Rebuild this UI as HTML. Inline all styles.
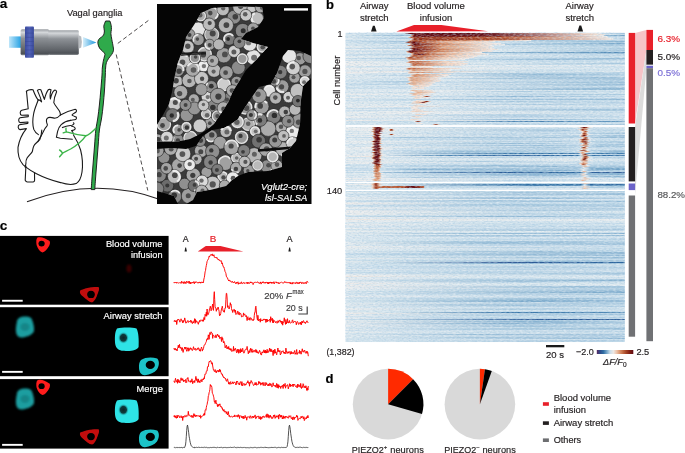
<!DOCTYPE html>
<html><head><meta charset="utf-8"><title>Figure</title>
<style>html,body{margin:0;padding:0;background:#fff;width:685px;height:453px;overflow:hidden}svg{display:block}text{font-family:'Liberation Sans', Arial, sans-serif}</style>
</head><body>
<svg width="685" height="453" viewBox="0 0 685 453" font-family="'Liberation Sans', Arial, sans-serif"><text x="-0.3" y="8.3" font-size="13.5" fill="#000" font-weight="bold"  stroke="#000" stroke-width="0.18">a</text>
<text x="326" y="8.7" font-size="13" fill="#000" font-weight="bold"  stroke="#000" stroke-width="0.18">b</text>
<text x="-0.3" y="230.2" font-size="13.5" fill="#000" font-weight="bold"  stroke="#000" stroke-width="0.18">c</text>
<text x="325.6" y="382.8" font-size="13" fill="#000" font-weight="bold"  stroke="#000" stroke-width="0.18">d</text>
<defs>
<linearGradient id="beamL" x1="0" x2="1" y1="0" y2="0"><stop offset="0" stop-color="#bfe6fa"/><stop offset="1" stop-color="#1f9fe3"/></linearGradient>
<linearGradient id="beamR" x1="0" x2="1" y1="0" y2="0"><stop offset="0" stop-color="#d5eefa"/><stop offset="1" stop-color="#1e96dc"/></linearGradient>
<linearGradient id="metal" x1="0" x2="0" y1="0" y2="1"><stop offset="0" stop-color="#9a9ea3"/><stop offset="0.12" stop-color="#d4d7da"/><stop offset="0.35" stop-color="#8d9196"/><stop offset="0.8" stop-color="#5f6368"/><stop offset="0.93" stop-color="#4d5156"/><stop offset="1" stop-color="#8a8e92"/></linearGradient>
<linearGradient id="ring" x1="0" x2="1" y1="0" y2="0"><stop offset="0" stop-color="#3b4ba0"/><stop offset="0.5" stop-color="#5263b8"/><stop offset="1" stop-color="#3a4a9c"/></linearGradient>
</defs>
<rect x="9" y="36.4" width="12.5" height="11.4" fill="url(#beamL)"/>
<rect x="20.6" y="29.3" width="28.6" height="26" rx="1.6" fill="url(#metal)"/>
<rect x="48.3" y="30.2" width="30.5" height="24.8" rx="1.4" fill="url(#metal)"/>
<path d="M78.6,35.2 L81.2,36.6 Q82.6,42 81.2,47.6 L78.6,48.8 Z" fill="#b7bbbf"/>
<rect x="25" y="26.6" width="8.9" height="31.2" rx="0.8" fill="url(#ring)"/>
<rect x="25.2" y="28.5" width="8.5" height="0.8" fill="#34438f" opacity="0.5"/>
<rect x="25.2" y="32.7" width="8.5" height="0.8" fill="#34438f" opacity="0.5"/>
<rect x="25.2" y="36.9" width="8.5" height="0.8" fill="#34438f" opacity="0.5"/>
<rect x="25.2" y="41.1" width="8.5" height="0.8" fill="#34438f" opacity="0.5"/>
<rect x="25.2" y="45.3" width="8.5" height="0.8" fill="#34438f" opacity="0.5"/>
<rect x="25.2" y="49.5" width="8.5" height="0.8" fill="#34438f" opacity="0.5"/>
<rect x="25.2" y="53.7" width="8.5" height="0.8" fill="#34438f" opacity="0.5"/>
<path d="M83,37 L96.4,42.6 L83,47.8 Z" fill="url(#beamR)"/>
<text x="66.95" y="15.5" font-size="9.7" fill="#231f20" textLength="55.6" lengthAdjust="spacingAndGlyphs" stroke="#231f20" stroke-width="0.18">Vagal ganglia</text>
<path d="M117.8,43.4 L149,20" stroke="#231f20" stroke-width="0.8" stroke-dasharray="4.2,2.6" fill="none"/>
<path d="M116.2,54.5 L147.8,190.5" stroke="#231f20" stroke-width="0.8" stroke-dasharray="4.2,2.6" fill="none"/>
<path d="M27,201.8 Q95,176 160,199.5" stroke="#231f20" stroke-width="1.1" fill="none"/>
<path d="M26.4,91.2 C27,95 27.4,102 28.2,108.8 L21.8,110.2 C19.8,110.8 19.6,114.6 21.6,115.2 L28.3,115 L28.3,116.6 L20,117.8 C18.2,118.6 18.2,122.2 20.2,122.6 L28,122 L27.8,123.4 L19.4,124.8 C17.6,125.8 17.8,129.2 20,129.6 L26.4,128.6 C22,134 19.2,140 18,147.4 C17.6,154 19,160 23,164.6 L25.9,167.1" stroke="#1a1a1a" stroke-width="1.1" fill="none" stroke-linejoin="round" stroke-linecap="round"/>
<path d="M26.4,91.2 C28.5,89.6 30.8,89.4 33,89.8 C34.6,94 36,97.6 38.2,100" stroke="#1a1a1a" stroke-width="1.1" fill="none" stroke-linejoin="round" stroke-linecap="round"/>
<path d="M38.2,100 C36.6,104.5 34.4,109 33.6,114 C32.6,119 32.4,124.5 33.8,129.4 C34.8,131.8 36.4,133.4 38.4,134.6" stroke="#1a1a1a" stroke-width="1.1" fill="none" stroke-linejoin="round" stroke-linecap="round"/>
<path d="M38.2,100 C39.4,99.6 40.6,100.6 41.6,101.8 C40.8,97.6 38.6,93.4 37.4,90.4 C38.4,89.4 39.6,89.2 40.8,89.8 C42.2,93 43.2,96.4 44.4,99.4 C45.2,96 46.2,92.4 48.2,89.8 C49.2,89.2 50.2,89.4 51,89.8 C50.2,93 49.6,96 50.4,99 C51,95.6 52.2,92 54.4,90.2 C55.6,89.8 56.4,90.6 56.6,91.8 C55.2,95 54,98.6 53.8,102.6 C54.8,105 57,107.4 59.4,111 C60.4,113 60.6,114.2 60.4,115" stroke="#1a1a1a" stroke-width="1.1" fill="none" stroke-linejoin="round" stroke-linecap="round"/>
<path d="M60.4,115 C64,113 69,110.6 75.2,109.2 C76.6,109.4 76.8,111.2 76,112 C75,112.8 73.4,113.4 72.2,114.6 C71.8,115.6 73.6,116 75.8,116.8 C76.8,117.6 76.6,119 75.6,119.4 C74,120 72,120 70.6,120.4" stroke="#1a1a1a" stroke-width="1.1" fill="none" stroke-linejoin="round" stroke-linecap="round"/>
<path d="M60.4,115 C58.6,117.2 56.8,118.2 54.6,118.2 C52.4,117.6 50.4,117 48.4,117.6 C46.6,118.4 46.2,121 46.8,123 C47.4,124 47.6,124.8 47.2,125.6 C45.4,127.6 44,129.8 43,132.2 C41.4,135.6 39.6,138.2 37.8,141.8" stroke="#1a1a1a" stroke-width="1.1" fill="none" stroke-linejoin="round" stroke-linecap="round"/>
<path d="M70.6,120.4 C67,120.8 64,122 61.2,124.6 C59.2,126.6 58,129.4 57.6,131.4 L56.4,137.3 L60.3,138.2 L72.3,139.3" stroke="#1a1a1a" stroke-width="1.1" fill="none" stroke-linejoin="round" stroke-linecap="round"/>
<path d="M62.4,127.6 C65,126.2 69,125.6 72,125.2 C73.8,124.6 74.6,123.4 73.4,122.8 M71.6,126.2 C74,126.6 75.4,127.6 75.2,129 C74.6,130 73,130.4 71.6,130.6 C72.6,131.6 73.6,133 73.4,134.2" stroke="#1a1a1a" stroke-width="1.1" fill="none" stroke-linejoin="round" stroke-linecap="round"/>
<path d="M73.6,135.3 C76,139 78.8,144 80.6,150 C82.4,157 83,165 82,172 C81.2,177.6 79.4,181.6 76.2,183.6 C72,185 66,184.4 60.5,182.6 C52,180.4 44,177.6 36.5,173.7 C32,171.4 28.6,169.2 25.9,167.1" stroke="#1a1a1a" stroke-width="1.1" fill="none" stroke-linejoin="round" stroke-linecap="round"/>
<path d="M25.9,166 L25.2,180.3 C25.8,181.6 26.6,182 27.4,182 L33.2,182 C34.2,181.8 34.6,181 34.6,180.2 L34.5,172.8" stroke="#1a1a1a" stroke-width="1.1" fill="none" stroke-linejoin="round" stroke-linecap="round"/>
<path d="M41.8,130 C41.6,133 41.2,136.6 39.8,139.6 C37.6,142 35,143.6 33.8,145.9 C32.8,148 32.8,150 32.3,151.6 C30.8,154 28.6,155.6 27.2,157.8 C26,159.8 25.8,162 25.9,163.5 L25.2,167.1" stroke="#1a1a1a" stroke-width="1.1" fill="none" stroke-linejoin="round" stroke-linecap="round"/>
<path d="M109.90,21.00 C110.12,21.75 110.95,24.07 111.20,25.50 C111.45,26.93 111.45,28.27 111.40,29.60 C111.35,30.93 110.83,31.85 110.90,33.50 C110.97,35.15 111.42,37.28 111.80,39.50 C112.18,41.72 112.93,44.92 113.20,46.80 C113.47,48.68 113.67,49.50 113.40,50.80 C113.13,52.10 112.37,53.37 111.60,54.60 C110.83,55.83 109.67,56.87 108.80,58.20 C107.93,59.53 106.93,60.97 106.40,62.60 C105.87,64.23 105.78,65.93 105.60,68.00 C105.42,70.07 105.48,71.33 105.30,75.00 C105.12,78.67 104.85,85.00 104.50,90.00 C104.15,95.00 103.68,100.33 103.20,105.00 C102.72,109.67 102.23,113.83 101.60,118.00 C100.97,122.17 99.97,125.50 99.40,130.00 C98.83,134.50 98.60,140.00 98.20,145.00 C97.80,150.00 97.40,155.00 97.00,160.00 C96.60,165.00 96.17,170.07 95.80,175.00 C95.43,179.93 94.97,187.17 94.80,189.60 L91.20,189.60 C91.37,187.17 91.83,179.93 92.20,175.00 C92.57,170.07 93.00,165.00 93.40,160.00 C93.80,155.00 94.20,150.00 94.60,145.00 C95.00,140.00 95.27,134.50 95.80,130.00 C96.33,125.50 97.20,122.17 97.80,118.00 C98.40,113.83 98.90,109.67 99.40,105.00 C99.90,100.33 100.37,95.00 100.80,90.00 C101.23,85.00 101.75,78.67 102.00,75.00 C102.25,71.33 102.10,70.23 102.30,68.00 C102.50,65.77 102.82,63.63 103.20,61.60 C103.58,59.57 104.33,57.10 104.60,55.80 C104.87,54.50 105.13,54.57 104.80,53.80 C104.47,53.03 103.47,52.13 102.60,51.20 C101.73,50.27 100.38,49.50 99.60,48.20 C98.82,46.90 98.07,44.83 97.90,43.40 C97.73,41.97 97.98,40.67 98.60,39.60 C99.22,38.53 100.77,37.77 101.60,37.00 C102.43,36.23 103.13,36.00 103.60,35.00 C104.07,34.00 104.37,32.47 104.40,31.00 C104.43,29.53 103.60,27.87 103.80,26.20 C104.00,24.53 105.30,21.87 105.60,21.00 Z" fill="#2faa4b" stroke="#1a1a1a" stroke-width="0.95" stroke-linejoin="round"/>
<path d="M95.6,128.4 C92,132 89,135 85.8,135.8 C80,135.2 74,134 66.4,131.8 M66.4,131.8 C65.8,130.6 65.8,129.4 66,128.2 M66.4,131.8 L63.2,132.8" stroke="#3db54a" stroke-width="1.4" fill="none" stroke-linecap="round"/>
<path d="M85.8,135.8 C82,141 77,145.2 70.6,149 C67,151 63.6,152.4 62.6,153.2 M62.6,153.2 C61.8,151.6 60.8,150.6 59.6,150 M62.6,153.2 C61.6,154.4 60.6,155.6 59.6,156.8" stroke="#3db54a" stroke-width="1.4" fill="none" stroke-linecap="round"/>
<defs><clipPath id="mclip"><rect x="157" y="4" width="154.5" height="200"/></clipPath>
<filter id="mblur" x="-5%" y="-5%" width="110%" height="110%"><feGaussianBlur stdDeviation="0.45"/></filter>
</defs>
<rect x="157" y="4" width="154.5" height="200" fill="#050505"/>
<defs><clipPath id="tclip"><polygon points="201,13 212,8 236,6.5 262,7 264,18 258,27 246,33 241,39 253,43 268,47 256,60 246,70 240.5,79.3 232.8,91.6 228.5,102 222,112 214,124 208,129 200,134 190,139 178,141.5 157,141.5 157,125 163,115 169,104 172,92 175,75 178,62 183,50 186,37 194,25"/><polygon points="157,149 172,148 186,149 196,146 203,136 212,130 224,128 231,124 237.5,119.5 245.2,107 251.4,97.8 259,87 271,84 277,73 283,56 288,50 300,51 311,56 311,78 303,86 301,100 300,124 296,141 290,148 282,153 282,167 268,171 248,172 238,176 232,180 226,186 210,190 197,192 193,200 186,204 178,204 174,196 164,193 157,191"/></clipPath></defs>
<g filter="url(#mblur)"><g clip-path="url(#mclip)"><g clip-path="url(#tclip)"><rect x="157" y="4" width="154.5" height="200" fill="#3a3a3a"/><circle cx="174.6" cy="103.9" r="6.8" fill="#c8c8c8" stroke="#222" stroke-width="0.6"/><path d="M170.6,99.8 A5.7,5.7 0 0 1 180.1,102.2" fill="none" stroke="#f2f2f2" stroke-width="2.3" opacity="0.9"/><circle cx="175.3" cy="102.5" r="2.5" fill="#4b4b4b"/><circle cx="174.8" cy="196.4" r="6.9" fill="#878787" stroke="#222" stroke-width="0.6"/><path d="M171.1,191.9 A5.8,5.8 0 0 1 179.8,193.4" fill="none" stroke="#f2f2f2" stroke-width="1.7" opacity="0.9"/><circle cx="174.2" cy="195.2" r="2.8" fill="#303030"/><circle cx="213.2" cy="106.3" r="7.0" fill="#878787" stroke="#222" stroke-width="0.6"/><circle cx="212.9" cy="107.5" r="2.8" fill="#323232"/><circle cx="198.2" cy="29.4" r="7.3" fill="#e3e3e3" stroke="#222" stroke-width="0.6"/><circle cx="261.6" cy="106.6" r="7.4" fill="#9e9e9e" stroke="#222" stroke-width="0.6"/><path d="M255.5,108.0 A6.3,6.3 0 0 1 267.0,103.3" fill="none" stroke="#f2f2f2" stroke-width="2.0" opacity="0.9"/><circle cx="260.2" cy="105.9" r="2.8" fill="#434343"/><circle cx="186.8" cy="115.1" r="6.6" fill="#969696" stroke="#222" stroke-width="0.6"/><circle cx="210.7" cy="122.9" r="6.0" fill="#a4a4a4" stroke="#222" stroke-width="0.6"/><circle cx="209.8" cy="123.2" r="1.9" fill="#494949"/><circle cx="167.3" cy="185.6" r="6.4" fill="#6c6c6c" stroke="#222" stroke-width="0.6"/><circle cx="167.3" cy="185.4" r="2.0" fill="#373737"/><circle cx="177.7" cy="139.7" r="5.9" fill="#8e8e8e" stroke="#222" stroke-width="0.6"/><path d="M178.7,144.4 A4.8,4.8 0 0 1 173.9,136.8" fill="none" stroke="#f2f2f2" stroke-width="2.0" opacity="0.9"/><circle cx="177.9" cy="140.4" r="2.2" fill="#414141"/><circle cx="159.5" cy="175.3" r="6.8" fill="#878787" stroke="#222" stroke-width="0.6"/><circle cx="159.1" cy="174.7" r="2.6" fill="#424242"/><circle cx="203.5" cy="66.4" r="5.6" fill="#ebebeb" stroke="#222" stroke-width="0.6"/><path d="M199.4,64.6 A4.5,4.5 0 0 1 207.6,64.4" fill="none" stroke="#f2f2f2" stroke-width="2.0" opacity="0.9"/><circle cx="203.9" cy="66.1" r="2.2" fill="#757575"/><circle cx="288.7" cy="97.1" r="5.7" fill="#d3d3d3" stroke="#222" stroke-width="0.6"/><circle cx="288.0" cy="97.8" r="2.0" fill="#5f5f5f"/><circle cx="163.9" cy="124.3" r="7.5" fill="#a4a4a4" stroke="#222" stroke-width="0.6"/><circle cx="163.9" cy="124.3" r="6.6" fill="none" stroke="#f0f0f0" stroke-width="1.1" opacity="0.85"/><circle cx="162.5" cy="125.5" r="2.4" fill="#444444"/><circle cx="201.0" cy="150.8" r="6.6" fill="#ababab" stroke="#222" stroke-width="0.6"/><circle cx="200.8" cy="151.7" r="2.5" fill="#474747"/><circle cx="204.6" cy="54.2" r="7.7" fill="#aaaaaa" stroke="#222" stroke-width="0.6"/><circle cx="204.6" cy="54.2" r="6.7" fill="none" stroke="#f0f0f0" stroke-width="1.3" opacity="0.85"/><circle cx="203.3" cy="54.7" r="2.8" fill="#4a4a4a"/><circle cx="305.0" cy="71.2" r="6.4" fill="#9f9f9f" stroke="#222" stroke-width="0.6"/><circle cx="304.9" cy="71.4" r="2.6" fill="#535353"/><circle cx="193.3" cy="175.1" r="7.2" fill="#a9a9a9" stroke="#222" stroke-width="0.6"/><circle cx="192.8" cy="175.3" r="2.6" fill="#3d3d3d"/><circle cx="241.6" cy="137.3" r="7.1" fill="#979797" stroke="#222" stroke-width="0.6"/><circle cx="241.6" cy="137.3" r="6.0" fill="none" stroke="#f0f0f0" stroke-width="1.3" opacity="0.85"/><circle cx="240.5" cy="135.9" r="2.2" fill="#3a3a3a"/><circle cx="178.0" cy="130.0" r="5.7" fill="#9d9d9d" stroke="#222" stroke-width="0.6"/><path d="M174.4,132.9 A4.6,4.6 0 0 1 178.2,125.3" fill="none" stroke="#f2f2f2" stroke-width="1.7" opacity="0.9"/><circle cx="179.1" cy="129.9" r="1.8" fill="#464646"/><circle cx="225.1" cy="163.0" r="7.5" fill="#a1a1a1" stroke="#222" stroke-width="0.6"/><path d="M218.8,164.1 A6.4,6.4 0 0 1 230.3,159.1" fill="none" stroke="#f2f2f2" stroke-width="1.7" opacity="0.9"/><circle cx="211.7" cy="34.6" r="7.8" fill="#a6a6a6" stroke="#222" stroke-width="0.6"/><circle cx="211.7" cy="34.6" r="6.9" fill="none" stroke="#f0f0f0" stroke-width="0.9" opacity="0.85"/><circle cx="212.7" cy="33.6" r="3.0" fill="#464646"/><circle cx="211.3" cy="13.5" r="7.5" fill="#9d9d9d" stroke="#222" stroke-width="0.6"/><path d="M209.9,7.3 A6.4,6.4 0 0 1 215.2,18.7" fill="none" stroke="#f2f2f2" stroke-width="1.8" opacity="0.9"/><circle cx="210.3" cy="13.1" r="2.3" fill="#4a4a4a"/><circle cx="234.0" cy="17.2" r="6.9" fill="#8e8e8e" stroke="#222" stroke-width="0.6"/><circle cx="235.3" cy="16.7" r="2.8" fill="#3f3f3f"/><circle cx="172.5" cy="115.4" r="6.9" fill="#747474" stroke="#222" stroke-width="0.6"/><path d="M177.4,112.2 A5.8,5.8 0 0 1 172.8,121.2" fill="none" stroke="#f2f2f2" stroke-width="2.3" opacity="0.9"/><circle cx="171.8" cy="115.5" r="2.2" fill="#2c2c2c"/><circle cx="282.7" cy="149.0" r="7.3" fill="#b4b4b4" stroke="#222" stroke-width="0.6"/><path d="M288.9,149.7 A6.2,6.2 0 0 1 281.4,155.1" fill="none" stroke="#f2f2f2" stroke-width="2.2" opacity="0.9"/><circle cx="176.1" cy="81.4" r="6.6" fill="#bdbdbd" stroke="#222" stroke-width="0.6"/><circle cx="176.1" cy="80.7" r="2.7" fill="#434343"/><circle cx="199.9" cy="125.8" r="6.8" fill="#cccccc" stroke="#222" stroke-width="0.6"/><circle cx="282.2" cy="86.5" r="6.7" fill="#9c9c9c" stroke="#222" stroke-width="0.6"/><path d="M284.1,91.8 A5.6,5.6 0 0 1 276.6,87.3" fill="none" stroke="#f2f2f2" stroke-width="2.3" opacity="0.9"/><circle cx="281.6" cy="86.8" r="2.6" fill="#494949"/><circle cx="206.2" cy="114.1" r="5.5" fill="#c0c0c0" stroke="#222" stroke-width="0.6"/><circle cx="206.2" cy="114.1" r="4.6" fill="none" stroke="#f0f0f0" stroke-width="1.0" opacity="0.85"/><circle cx="207.1" cy="115.2" r="2.3" fill="#626262"/><circle cx="178.9" cy="165.6" r="7.3" fill="#a7a7a7" stroke="#222" stroke-width="0.6"/><circle cx="179.6" cy="165.6" r="2.3" fill="#3f3f3f"/><circle cx="274.4" cy="80.3" r="5.8" fill="#8a8a8a" stroke="#222" stroke-width="0.6"/><path d="M273.6,75.7 A4.7,4.7 0 0 1 276.4,84.4" fill="none" stroke="#f2f2f2" stroke-width="1.7" opacity="0.9"/><circle cx="273.8" cy="81.4" r="2.3" fill="#434343"/><circle cx="273.5" cy="116.3" r="7.3" fill="#7f7f7f" stroke="#222" stroke-width="0.6"/><path d="M267.4,117.1 A6.2,6.2 0 0 1 278.4,112.4" fill="none" stroke="#f2f2f2" stroke-width="1.8" opacity="0.9"/><circle cx="274.4" cy="115.4" r="2.7" fill="#2e2e2e"/><circle cx="267.2" cy="166.4" r="6.6" fill="#8f8f8f" stroke="#222" stroke-width="0.6"/><path d="M269.9,161.6 A5.5,5.5 0 0 1 270.6,170.8" fill="none" stroke="#f2f2f2" stroke-width="1.5" opacity="0.9"/><circle cx="268.5" cy="165.2" r="2.3" fill="#4b4b4b"/><circle cx="294.5" cy="77.5" r="5.6" fill="#a2a2a2" stroke="#222" stroke-width="0.6"/><circle cx="293.5" cy="77.2" r="2.0" fill="#525252"/><circle cx="222.8" cy="176.5" r="5.7" fill="#bbbbbb" stroke="#222" stroke-width="0.6"/><circle cx="222.8" cy="176.5" r="4.5" fill="none" stroke="#f0f0f0" stroke-width="1.6" opacity="0.85"/><circle cx="223.5" cy="177.4" r="2.2" fill="#4b4b4b"/><circle cx="224.0" cy="84.5" r="7.2" fill="#cdcdcd" stroke="#222" stroke-width="0.6"/><circle cx="224.0" cy="84.5" r="6.2" fill="none" stroke="#f0f0f0" stroke-width="1.1" opacity="0.85"/><circle cx="189.2" cy="80.5" r="7.2" fill="#b6b6b6" stroke="#222" stroke-width="0.6"/><circle cx="189.4" cy="81.0" r="2.3" fill="#595959"/><circle cx="251.9" cy="7.0" r="5.5" fill="#c8c8c8" stroke="#222" stroke-width="0.6"/><circle cx="212.6" cy="183.8" r="7.6" fill="#c3c3c3" stroke="#222" stroke-width="0.6"/><circle cx="212.7" cy="184.4" r="3.1" fill="#545454"/><circle cx="225.9" cy="25.2" r="7.6" fill="#b3b3b3" stroke="#222" stroke-width="0.6"/><circle cx="226.4" cy="25.1" r="2.9" fill="#444444"/><circle cx="183.4" cy="61.1" r="7.1" fill="#c4c4c4" stroke="#222" stroke-width="0.6"/><path d="M177.5,59.6 A6.0,6.0 0 0 1 187.4,56.5" fill="none" stroke="#f2f2f2" stroke-width="2.1" opacity="0.9"/><circle cx="182.5" cy="62.2" r="2.8" fill="#4f4f4f"/><circle cx="269.2" cy="90.8" r="6.3" fill="#dedede" stroke="#222" stroke-width="0.6"/><path d="M265.1,87.7 A5.2,5.2 0 0 1 273.3,87.7" fill="none" stroke="#f2f2f2" stroke-width="1.5" opacity="0.9"/><circle cx="214.1" cy="70.5" r="6.8" fill="#b9b9b9" stroke="#222" stroke-width="0.6"/><circle cx="213.6" cy="71.6" r="2.1" fill="#5f5f5f"/><circle cx="254.2" cy="155.4" r="7.7" fill="#b6b6b6" stroke="#222" stroke-width="0.6"/><circle cx="254.4" cy="154.2" r="2.5" fill="#616161"/><circle cx="210.9" cy="136.2" r="6.5" fill="#9b9b9b" stroke="#222" stroke-width="0.6"/><path d="M216.1,137.8 A5.4,5.4 0 0 1 206.5,139.1" fill="none" stroke="#f2f2f2" stroke-width="1.4" opacity="0.9"/><circle cx="211.8" cy="134.9" r="2.7" fill="#434343"/><circle cx="220.1" cy="142.7" r="6.5" fill="#a1a1a1" stroke="#222" stroke-width="0.6"/><circle cx="236.4" cy="157.8" r="5.6" fill="#bbbbbb" stroke="#222" stroke-width="0.6"/><circle cx="236.4" cy="157.8" r="4.6" fill="none" stroke="#f0f0f0" stroke-width="1.1" opacity="0.85"/><circle cx="236.7" cy="158.0" r="1.8" fill="#5c5c5c"/><circle cx="300.0" cy="58.8" r="6.1" fill="#9c9c9c" stroke="#222" stroke-width="0.6"/><circle cx="298.8" cy="58.0" r="2.2" fill="#505050"/><circle cx="201.5" cy="78.5" r="7.1" fill="#c5c5c5" stroke="#222" stroke-width="0.6"/><circle cx="202.1" cy="78.7" r="2.2" fill="#4b4b4b"/><circle cx="281.1" cy="127.4" r="5.8" fill="#b2b2b2" stroke="#222" stroke-width="0.6"/><circle cx="281.0" cy="126.8" r="2.3" fill="#555555"/><circle cx="231.5" cy="147.0" r="7.6" fill="#a5a5a5" stroke="#222" stroke-width="0.6"/><path d="M225.4,144.6 A6.5,6.5 0 0 1 238.0,146.7" fill="none" stroke="#f2f2f2" stroke-width="1.8" opacity="0.9"/><circle cx="231.1" cy="146.0" r="2.6" fill="#464646"/><circle cx="238.3" cy="67.6" r="6.9" fill="#8b8b8b" stroke="#222" stroke-width="0.6"/><circle cx="228.1" cy="98.9" r="6.0" fill="#888888" stroke="#222" stroke-width="0.6"/><circle cx="227.0" cy="99.7" r="2.1" fill="#4a4a4a"/><circle cx="226.0" cy="131.7" r="5.9" fill="#bbbbbb" stroke="#222" stroke-width="0.6"/><path d="M221.4,130.1 A4.8,4.8 0 0 1 230.8,131.0" fill="none" stroke="#f2f2f2" stroke-width="2.3" opacity="0.9"/><circle cx="226.9" cy="132.1" r="2.5" fill="#666666"/><circle cx="157.4" cy="140.4" r="6.5" fill="#aaaaaa" stroke="#222" stroke-width="0.6"/><circle cx="158.2" cy="139.5" r="2.6" fill="#3c3c3c"/><circle cx="206.5" cy="172.2" r="5.4" fill="#9f9f9f" stroke="#222" stroke-width="0.6"/><circle cx="292.9" cy="131.6" r="7.1" fill="#ebebeb" stroke="#222" stroke-width="0.6"/><circle cx="291.8" cy="130.9" r="2.2" fill="#767676"/><circle cx="193.8" cy="99.3" r="5.5" fill="#ababab" stroke="#222" stroke-width="0.6"/><circle cx="192.8" cy="99.7" r="2.0" fill="#5b5b5b"/><circle cx="299.3" cy="120.9" r="7.3" fill="#9a9a9a" stroke="#222" stroke-width="0.6"/><circle cx="298.6" cy="122.2" r="2.8" fill="#4e4e4e"/><circle cx="236.1" cy="167.9" r="5.7" fill="#a9a9a9" stroke="#222" stroke-width="0.6"/><path d="M238.6,171.8 A4.6,4.6 0 0 1 231.6,169.1" fill="none" stroke="#f2f2f2" stroke-width="1.5" opacity="0.9"/><circle cx="235.9" cy="168.9" r="2.2" fill="#3f3f3f"/><circle cx="297.7" cy="90.9" r="7.5" fill="#c1c1c1" stroke="#222" stroke-width="0.6"/><circle cx="268.2" cy="128.7" r="7.7" fill="#acacac" stroke="#222" stroke-width="0.6"/><circle cx="253.4" cy="57.2" r="7.5" fill="#e4e4e4" stroke="#222" stroke-width="0.6"/><circle cx="254.1" cy="57.8" r="3.0" fill="#717171"/><circle cx="183.0" cy="153.9" r="7.8" fill="#c9c9c9" stroke="#222" stroke-width="0.6"/><circle cx="182.4" cy="154.1" r="2.9" fill="#575757"/><circle cx="242.7" cy="30.8" r="7.4" fill="#868686" stroke="#222" stroke-width="0.6"/><circle cx="243.2" cy="30.7" r="2.5" fill="#2f2f2f"/><circle cx="163.9" cy="157.6" r="5.9" fill="#919191" stroke="#222" stroke-width="0.6"/><circle cx="180.8" cy="92.3" r="6.9" fill="#acacac" stroke="#222" stroke-width="0.6"/><circle cx="179.6" cy="93.6" r="2.7" fill="#4d4d4d"/><circle cx="189.4" cy="34.5" r="5.6" fill="#9a9a9a" stroke="#222" stroke-width="0.6"/><circle cx="189.5" cy="35.0" r="2.0" fill="#3b3b3b"/><circle cx="187.6" cy="47.0" r="6.6" fill="#c5c5c5" stroke="#222" stroke-width="0.6"/><circle cx="187.8" cy="46.2" r="2.7" fill="#505050"/><circle cx="245.2" cy="107.4" r="7.6" fill="#9c9c9c" stroke="#222" stroke-width="0.6"/><circle cx="245.2" cy="107.4" r="6.5" fill="none" stroke="#f0f0f0" stroke-width="1.4" opacity="0.85"/><circle cx="246.5" cy="108.1" r="2.8" fill="#4b4b4b"/><circle cx="212.6" cy="151.4" r="7.1" fill="#8f8f8f" stroke="#222" stroke-width="0.6"/><circle cx="211.3" cy="150.4" r="2.2" fill="#383838"/><circle cx="289.1" cy="56.1" r="7.4" fill="#e5e5e5" stroke="#222" stroke-width="0.6"/><circle cx="223.8" cy="55.3" r="7.6" fill="#9e9e9e" stroke="#222" stroke-width="0.6"/><circle cx="224.9" cy="54.4" r="2.9" fill="#4e4e4e"/><circle cx="276.8" cy="165.7" r="5.9" fill="#acacac" stroke="#222" stroke-width="0.6"/><circle cx="277.0" cy="164.6" r="2.3" fill="#565656"/><circle cx="284.6" cy="112.0" r="5.9" fill="#b5b5b5" stroke="#222" stroke-width="0.6"/><circle cx="285.8" cy="112.1" r="2.3" fill="#404040"/><circle cx="248.8" cy="170.3" r="5.6" fill="#9d9d9d" stroke="#222" stroke-width="0.6"/><circle cx="247.8" cy="170.8" r="1.7" fill="#4d4d4d"/><circle cx="260.3" cy="119.8" r="6.6" fill="#7c7c7c" stroke="#222" stroke-width="0.6"/><path d="M257.3,124.5 A5.5,5.5 0 0 1 262.3,114.7" fill="none" stroke="#f2f2f2" stroke-width="2.3" opacity="0.9"/><circle cx="259.9" cy="120.4" r="2.3" fill="#2e2e2e"/><circle cx="257.0" cy="18.2" r="6.5" fill="#bebebe" stroke="#222" stroke-width="0.6"/><path d="M255.2,23.3 A5.4,5.4 0 0 1 254.8,13.2" fill="none" stroke="#f2f2f2" stroke-width="2.2" opacity="0.9"/><circle cx="248.1" cy="124.2" r="7.1" fill="#b2b2b2" stroke="#222" stroke-width="0.6"/><circle cx="248.1" cy="124.2" r="6.2" fill="none" stroke="#f0f0f0" stroke-width="1.0" opacity="0.85"/><circle cx="248.2" cy="123.7" r="2.3" fill="#5e5e5e"/><circle cx="275.4" cy="141.1" r="6.4" fill="#989898" stroke="#222" stroke-width="0.6"/><circle cx="274.7" cy="140.1" r="2.5" fill="#3c3c3c"/><circle cx="189.1" cy="195.9" r="7.8" fill="#9e9e9e" stroke="#222" stroke-width="0.6"/><circle cx="188.2" cy="195.8" r="2.5" fill="#4c4c4c"/><circle cx="202.1" cy="181.1" r="6.0" fill="#dbdbdb" stroke="#222" stroke-width="0.6"/><circle cx="201.5" cy="180.6" r="2.2" fill="#696969"/><circle cx="198.2" cy="39.6" r="6.0" fill="#9c9c9c" stroke="#222" stroke-width="0.6"/><path d="M193.7,41.7 A4.9,4.9 0 0 1 198.4,34.7" fill="none" stroke="#f2f2f2" stroke-width="1.7" opacity="0.9"/><circle cx="197.4" cy="39.1" r="1.8" fill="#4a4a4a"/><circle cx="243.9" cy="150.7" r="6.0" fill="#808080" stroke="#222" stroke-width="0.6"/><circle cx="243.0" cy="151.8" r="1.9" fill="#3e3e3e"/><circle cx="255.0" cy="131.3" r="5.4" fill="#c2c2c2" stroke="#222" stroke-width="0.6"/><circle cx="255.0" cy="131.3" r="4.3" fill="none" stroke="#f0f0f0" stroke-width="1.5" opacity="0.85"/><circle cx="255.7" cy="131.3" r="1.9" fill="#6a6a6a"/><circle cx="196.6" cy="159.3" r="5.4" fill="#b6b6b6" stroke="#222" stroke-width="0.6"/><circle cx="196.1" cy="158.7" r="2.0" fill="#454545"/><circle cx="258.6" cy="141.1" r="7.0" fill="#717171" stroke="#222" stroke-width="0.6"/><circle cx="259.1" cy="139.8" r="2.8" fill="#383838"/><circle cx="234.2" cy="51.4" r="6.1" fill="#d0d0d0" stroke="#222" stroke-width="0.6"/><circle cx="233.9" cy="51.9" r="2.5" fill="#5a5a5a"/><circle cx="249.7" cy="43.9" r="7.2" fill="#e1e1e1" stroke="#222" stroke-width="0.6"/><circle cx="248.6" cy="42.7" r="2.6" fill="#747474"/><circle cx="184.5" cy="183.9" r="5.7" fill="#909090" stroke="#222" stroke-width="0.6"/><circle cx="275.6" cy="98.1" r="6.0" fill="#b3b3b3" stroke="#222" stroke-width="0.6"/><circle cx="275.3" cy="97.6" r="2.3" fill="#515151"/><circle cx="207.0" cy="96.8" r="5.8" fill="#d6d6d6" stroke="#222" stroke-width="0.6"/><circle cx="207.7" cy="97.1" r="2.1" fill="#727272"/><circle cx="262.3" cy="47.0" r="6.1" fill="#a8a8a8" stroke="#222" stroke-width="0.6"/><circle cx="262.3" cy="47.0" r="4.9" fill="none" stroke="#f0f0f0" stroke-width="1.5" opacity="0.85"/><circle cx="262.7" cy="47.2" r="2.3" fill="#4d4d4d"/><circle cx="240.0" cy="7.2" r="7.2" fill="#bababa" stroke="#222" stroke-width="0.6"/><circle cx="240.6" cy="6.3" r="2.6" fill="#484848"/><circle cx="229.2" cy="39.2" r="6.1" fill="#7a7a7a" stroke="#222" stroke-width="0.6"/><path d="M224.7,41.4 A5.0,5.0 0 0 1 233.1,36.0" fill="none" stroke="#f2f2f2" stroke-width="2.0" opacity="0.9"/><circle cx="228.1" cy="39.0" r="1.9" fill="#2c2c2c"/><circle cx="236.7" cy="81.9" r="5.7" fill="#999999" stroke="#222" stroke-width="0.6"/><circle cx="236.6" cy="80.9" r="2.0" fill="#444444"/><circle cx="295.0" cy="109.5" r="5.7" fill="#b9b9b9" stroke="#222" stroke-width="0.6"/><circle cx="226.3" cy="72.5" r="6.8" fill="#a0a0a0" stroke="#222" stroke-width="0.6"/><circle cx="225.6" cy="72.7" r="2.4" fill="#4c4c4c"/><circle cx="190.4" cy="137.9" r="7.4" fill="#acacac" stroke="#222" stroke-width="0.6"/><circle cx="190.4" cy="137.9" r="6.5" fill="none" stroke="#f0f0f0" stroke-width="1.1" opacity="0.85"/><circle cx="157.2" cy="188.7" r="6.6" fill="#818181" stroke="#222" stroke-width="0.6"/><circle cx="280.3" cy="72.1" r="6.8" fill="#808080" stroke="#222" stroke-width="0.6"/><circle cx="280.2" cy="72.1" r="2.2" fill="#383838"/><circle cx="237.5" cy="121.9" r="6.7" fill="#bdbdbd" stroke="#222" stroke-width="0.6"/><circle cx="237.5" cy="121.9" r="5.6" fill="none" stroke="#f0f0f0" stroke-width="1.3" opacity="0.85"/><circle cx="236.9" cy="122.2" r="2.7" fill="#616161"/><circle cx="259.2" cy="95.7" r="7.2" fill="#9c9c9c" stroke="#222" stroke-width="0.6"/><circle cx="258.0" cy="94.3" r="2.7" fill="#555555"/><circle cx="192.7" cy="69.3" r="7.0" fill="#aaaaaa" stroke="#222" stroke-width="0.6"/><path d="M187.7,66.0 A5.9,5.9 0 0 1 198.2,71.6" fill="none" stroke="#f2f2f2" stroke-width="2.1" opacity="0.9"/><circle cx="193.5" cy="70.0" r="2.8" fill="#5b5b5b"/><circle cx="211.2" cy="86.7" r="6.1" fill="#8d8d8d" stroke="#222" stroke-width="0.6"/><path d="M207.9,90.5 A5.0,5.0 0 0 1 207.7,83.0" fill="none" stroke="#f2f2f2" stroke-width="1.7" opacity="0.9"/><circle cx="211.3" cy="86.2" r="2.4" fill="#333333"/><circle cx="218.0" cy="96.0" r="7.8" fill="#9b9b9b" stroke="#222" stroke-width="0.6"/><circle cx="218.4" cy="96.6" r="3.1" fill="#3d3d3d"/><circle cx="170.7" cy="148.8" r="6.4" fill="#ababab" stroke="#222" stroke-width="0.6"/><circle cx="171.2" cy="149.2" r="2.4" fill="#515151"/><circle cx="245.9" cy="15.2" r="5.8" fill="#c7c7c7" stroke="#222" stroke-width="0.6"/><circle cx="245.2" cy="14.3" r="2.3" fill="#5c5c5c"/><circle cx="265.9" cy="149.7" r="6.7" fill="#a5a5a5" stroke="#222" stroke-width="0.6"/><circle cx="266.7" cy="149.0" r="2.8" fill="#515151"/><circle cx="242.3" cy="58.8" r="5.8" fill="#9b9b9b" stroke="#222" stroke-width="0.6"/><circle cx="242.3" cy="58.8" r="4.8" fill="none" stroke="#f0f0f0" stroke-width="1.3" opacity="0.85"/><circle cx="201.3" cy="89.5" r="6.0" fill="#9e9e9e" stroke="#222" stroke-width="0.6"/><circle cx="253.2" cy="28.6" r="5.8" fill="#a2a2a2" stroke="#222" stroke-width="0.6"/><circle cx="253.0" cy="28.3" r="1.9" fill="#4b4b4b"/><circle cx="210.5" cy="162.0" r="6.9" fill="#848484" stroke="#222" stroke-width="0.6"/><circle cx="210.6" cy="162.5" r="2.2" fill="#3b3b3b"/><circle cx="194.0" cy="185.7" r="5.9" fill="#717171" stroke="#222" stroke-width="0.6"/><path d="M195.0,181.0 A4.8,4.8 0 0 1 194.1,190.5" fill="none" stroke="#f2f2f2" stroke-width="1.8" opacity="0.9"/><circle cx="194.5" cy="184.9" r="1.9" fill="#3d3d3d"/><circle cx="194.4" cy="108.4" r="6.4" fill="#979797" stroke="#222" stroke-width="0.6"/><circle cx="310.2" cy="56.2" r="7.3" fill="#8c8c8c" stroke="#222" stroke-width="0.6"/><circle cx="166.9" cy="137.5" r="6.3" fill="#d5d5d5" stroke="#222" stroke-width="0.6"/><circle cx="166.3" cy="137.9" r="2.5" fill="#6e6e6e"/><circle cx="223.0" cy="9.5" r="6.2" fill="#bbbbbb" stroke="#222" stroke-width="0.6"/><circle cx="223.2" cy="8.5" r="2.1" fill="#5b5b5b"/><circle cx="174.4" cy="176.5" r="6.9" fill="#bdbdbd" stroke="#222" stroke-width="0.6"/><path d="M172.5,171.1 A5.8,5.8 0 0 1 177.0,181.6" fill="none" stroke="#f2f2f2" stroke-width="2.1" opacity="0.9"/><circle cx="174.8" cy="175.3" r="2.8" fill="#474747"/><circle cx="260.6" cy="7.3" r="5.5" fill="#ababab" stroke="#222" stroke-width="0.6"/><circle cx="261.6" cy="7.9" r="1.8" fill="#5c5c5c"/><circle cx="177.9" cy="70.0" r="6.5" fill="#969696" stroke="#222" stroke-width="0.6"/><path d="M173.4,66.9 A5.4,5.4 0 0 1 183.3,71.0" fill="none" stroke="#f2f2f2" stroke-width="2.1" opacity="0.9"/><circle cx="179.1" cy="71.2" r="2.7" fill="#3f3f3f"/><circle cx="293.3" cy="67.9" r="6.9" fill="#cfcfcf" stroke="#222" stroke-width="0.6"/><path d="M287.7,69.2 A5.8,5.8 0 0 1 294.6,62.3" fill="none" stroke="#f2f2f2" stroke-width="2.2" opacity="0.9"/><circle cx="292.3" cy="66.6" r="2.8" fill="#595959"/><circle cx="194.9" cy="57.9" r="5.7" fill="#929292" stroke="#222" stroke-width="0.6"/><circle cx="194.9" cy="57.9" r="4.7" fill="none" stroke="#f0f0f0" stroke-width="1.2" opacity="0.85"/><circle cx="195.6" cy="57.0" r="1.8" fill="#464646"/><circle cx="304.8" cy="81.3" r="5.4" fill="#d1d1d1" stroke="#222" stroke-width="0.6"/><circle cx="304.8" cy="81.3" r="4.3" fill="none" stroke="#f0f0f0" stroke-width="1.4" opacity="0.85"/><circle cx="304.1" cy="82.2" r="1.9" fill="#6c6c6c"/><circle cx="166.4" cy="168.2" r="5.7" fill="#a3a3a3" stroke="#222" stroke-width="0.6"/><circle cx="165.7" cy="168.4" r="2.3" fill="#494949"/><circle cx="200.8" cy="16.0" r="5.6" fill="#acacac" stroke="#222" stroke-width="0.6"/><circle cx="200.8" cy="16.0" r="4.7" fill="none" stroke="#f0f0f0" stroke-width="1.1" opacity="0.85"/><circle cx="200.1" cy="15.2" r="2.4" fill="#595959"/><circle cx="232.8" cy="178.4" r="6.6" fill="#ebebeb" stroke="#222" stroke-width="0.6"/><circle cx="233.1" cy="178.2" r="2.4" fill="#565656"/><circle cx="209.6" cy="44.7" r="5.5" fill="#a2a2a2" stroke="#222" stroke-width="0.6"/><path d="M209.9,49.1 A4.4,4.4 0 0 1 205.5,43.1" fill="none" stroke="#f2f2f2" stroke-width="1.7" opacity="0.9"/><circle cx="209.7" cy="45.1" r="2.1" fill="#444444"/><circle cx="186.4" cy="127.0" r="5.5" fill="#9f9f9f" stroke="#222" stroke-width="0.6"/><circle cx="186.4" cy="127.0" r="4.3" fill="none" stroke="#f0f0f0" stroke-width="1.5" opacity="0.85"/><circle cx="186.9" cy="127.5" r="2.2" fill="#393939"/><circle cx="297.9" cy="101.1" r="5.7" fill="#737373" stroke="#222" stroke-width="0.6"/><circle cx="297.9" cy="100.6" r="1.9" fill="#282828"/><circle cx="292.5" cy="143.2" r="6.4" fill="#cfcfcf" stroke="#222" stroke-width="0.6"/><path d="M287.2,143.7 A5.3,5.3 0 0 1 293.0,138.0" fill="none" stroke="#f2f2f2" stroke-width="1.9" opacity="0.9"/><circle cx="272.7" cy="156.8" r="6.1" fill="#b5b5b5" stroke="#222" stroke-width="0.6"/><circle cx="272.7" cy="156.8" r="5.0" fill="none" stroke="#f0f0f0" stroke-width="1.5" opacity="0.85"/><circle cx="218.8" cy="44.4" r="5.5" fill="#b6b6b6" stroke="#222" stroke-width="0.6"/><circle cx="239.3" cy="42.4" r="5.9" fill="#868686" stroke="#222" stroke-width="0.6"/><circle cx="239.4" cy="41.3" r="1.9" fill="#3b3b3b"/><circle cx="224.7" cy="185.5" r="5.4" fill="#acacac" stroke="#222" stroke-width="0.6"/><circle cx="212.9" cy="60.8" r="5.8" fill="#b0b0b0" stroke="#222" stroke-width="0.6"/><circle cx="212.0" cy="60.7" r="2.0" fill="#5b5b5b"/><circle cx="257.6" cy="165.4" r="5.6" fill="#bababa" stroke="#222" stroke-width="0.6"/><circle cx="257.6" cy="165.4" r="4.7" fill="none" stroke="#f0f0f0" stroke-width="1.0" opacity="0.85"/><circle cx="244.6" cy="161.9" r="5.7" fill="#bdbdbd" stroke="#222" stroke-width="0.6"/><circle cx="245.4" cy="161.9" r="2.1" fill="#565656"/><circle cx="157.5" cy="150.6" r="6.4" fill="#a1a1a1" stroke="#222" stroke-width="0.6"/><circle cx="157.2" cy="150.7" r="2.6" fill="#575757"/><circle cx="185.5" cy="104.9" r="5.6" fill="#909090" stroke="#222" stroke-width="0.6"/><circle cx="185.6" cy="105.0" r="2.0" fill="#424242"/><circle cx="283.4" cy="136.0" r="5.6" fill="#bfbfbf" stroke="#222" stroke-width="0.6"/><circle cx="284.0" cy="135.9" r="1.9" fill="#616161"/><circle cx="203.4" cy="105.4" r="5.5" fill="#c6c6c6" stroke="#222" stroke-width="0.6"/><circle cx="203.4" cy="104.5" r="1.7" fill="#656565"/><circle cx="200.1" cy="140.8" r="5.7" fill="#898989" stroke="#222" stroke-width="0.6"/><circle cx="200.8" cy="140.6" r="2.3" fill="#3a3a3a"/><circle cx="217.8" cy="116.2" r="6.4" fill="#929292" stroke="#222" stroke-width="0.6"/><circle cx="217.8" cy="116.2" r="5.4" fill="none" stroke="#f0f0f0" stroke-width="1.3" opacity="0.85"/><circle cx="217.4" cy="116.1" r="2.1" fill="#474747"/><circle cx="252.0" cy="115.1" r="5.5" fill="#999999" stroke="#222" stroke-width="0.6"/><path d="M254.1,111.3 A4.4,4.4 0 0 1 254.0,118.9" fill="none" stroke="#f2f2f2" stroke-width="1.6" opacity="0.9"/><circle cx="250.9" cy="115.0" r="2.1" fill="#373737"/><circle cx="189.6" cy="164.8" r="5.8" fill="#ebebeb" stroke="#222" stroke-width="0.6"/><circle cx="189.7" cy="164.1" r="2.2" fill="#696969"/><circle cx="209.2" cy="24.2" r="6.2" fill="#bcbcbc" stroke="#222" stroke-width="0.6"/><circle cx="209.7" cy="23.1" r="2.1" fill="#484848"/><circle cx="232.4" cy="90.8" r="6.0" fill="#acacac" stroke="#222" stroke-width="0.6"/><circle cx="232.0" cy="90.6" r="2.4" fill="#4f4f4f"/><circle cx="217.3" cy="169.5" r="5.5" fill="#7c7c7c" stroke="#222" stroke-width="0.6"/><circle cx="216.9" cy="169.9" r="2.0" fill="#3d3d3d"/><circle cx="288.0" cy="121.2" r="6.0" fill="#8e8e8e" stroke="#222" stroke-width="0.6"/><circle cx="289.1" cy="121.2" r="2.1" fill="#4a4a4a"/><circle cx="201.7" cy="191.1" r="6.0" fill="#b4b4b4" stroke="#222" stroke-width="0.6"/><circle cx="202.5" cy="190.7" r="2.1" fill="#5e5e5e"/><circle cx="223.4" cy="108.1" r="6.3" fill="#aeaeae" stroke="#222" stroke-width="0.6"/><path d="M228.5,107.6 A5.2,5.2 0 0 1 219.2,111.1" fill="none" stroke="#f2f2f2" stroke-width="1.8" opacity="0.9"/><circle cx="223.5" cy="108.9" r="2.3" fill="#494949"/><path d="M162,60 C172,55 188,53 206,53" stroke="#101010" stroke-width="3" fill="none" opacity="0.8"/><path d="M258,150.5 L300,147" stroke="#080808" stroke-width="2.5" fill="none"/></g></g></g>
<rect x="284" y="8.2" width="24" height="2.4" fill="#fff"/>
<text x="261" y="190.3" font-size="9.9" fill="#fff" font-style="italic" textLength="46.2" lengthAdjust="spacingAndGlyphs" stroke="#fff" stroke-width="0.18">Vglut2-cre;</text>
<text x="265" y="201.4" font-size="9.9" fill="#fff" font-style="italic" textLength="42.2" lengthAdjust="spacingAndGlyphs" stroke="#fff" stroke-width="0.18">lsl-SALSA</text>
<defs><linearGradient id="h0"><stop offset="0.000" stop-color="#ccdfeb"/><stop offset="0.211" stop-color="#c3dae9"/><stop offset="0.226" stop-color="#600a12"/><stop offset="0.229" stop-color="#600a12"/><stop offset="0.459" stop-color="#600a12"/><stop offset="0.860" stop-color="#edd8cb"/><stop offset="0.910" stop-color="#ece7e4"/><stop offset="0.914" stop-color="#c4dae9"/><stop offset="1.000" stop-color="#9ec1da"/></linearGradient><linearGradient id="h1"><stop offset="0.000" stop-color="#d8e6ee"/><stop offset="0.233" stop-color="#bbd5e6"/><stop offset="0.247" stop-color="#600a12"/><stop offset="0.254" stop-color="#600a12"/><stop offset="0.491" stop-color="#600a12"/><stop offset="0.885" stop-color="#edd6c8"/><stop offset="0.928" stop-color="#ede3dd"/><stop offset="0.932" stop-color="#d8e6ee"/><stop offset="1.000" stop-color="#c7dcea"/></linearGradient><linearGradient id="h2"><stop offset="0.000" stop-color="#d6e5ed"/><stop offset="0.229" stop-color="#83afce"/><stop offset="0.233" stop-color="#a6c7dd"/><stop offset="0.237" stop-color="#dd9b77"/><stop offset="0.247" stop-color="#600a12"/><stop offset="0.491" stop-color="#600a12"/><stop offset="0.885" stop-color="#ede2db"/><stop offset="0.925" stop-color="#ebecec"/><stop offset="0.928" stop-color="#91b8d4"/><stop offset="1.000" stop-color="#6da0c4"/></linearGradient><linearGradient id="h3"><stop offset="0.000" stop-color="#d3e3ec"/><stop offset="0.229" stop-color="#cfe1eb"/><stop offset="0.244" stop-color="#771a13"/><stop offset="0.262" stop-color="#6b1112"/><stop offset="0.530" stop-color="#8a2714"/><stop offset="0.925" stop-color="#ece5e0"/><stop offset="0.935" stop-color="#ece7e4"/><stop offset="0.939" stop-color="#c4dae9"/><stop offset="1.000" stop-color="#b5d0e3"/></linearGradient><linearGradient id="h4"><stop offset="0.000" stop-color="#d5e4ed"/><stop offset="0.222" stop-color="#b5d1e3"/><stop offset="0.229" stop-color="#e3ab8b"/><stop offset="0.237" stop-color="#a74627"/><stop offset="0.262" stop-color="#99371d"/><stop offset="0.584" stop-color="#c0653e"/><stop offset="0.939" stop-color="#ece5e0"/><stop offset="0.943" stop-color="#d0e1ec"/><stop offset="1.000" stop-color="#c9ddea"/></linearGradient><linearGradient id="h5"><stop offset="0.000" stop-color="#dce7ee"/><stop offset="0.233" stop-color="#a8c8de"/><stop offset="0.237" stop-color="#edd3c3"/><stop offset="0.247" stop-color="#97341c"/><stop offset="0.541" stop-color="#a94828"/><stop offset="0.957" stop-color="#ece8e5"/><stop offset="0.961" stop-color="#c3dae9"/><stop offset="1.000" stop-color="#b0cde1"/></linearGradient><linearGradient id="h6"><stop offset="0.000" stop-color="#dae7ee"/><stop offset="0.233" stop-color="#cfe1eb"/><stop offset="0.247" stop-color="#8c2814"/><stop offset="0.538" stop-color="#a64426"/><stop offset="0.957" stop-color="#ece6e2"/><stop offset="0.961" stop-color="#c9ddea"/><stop offset="1.000" stop-color="#c5dbe9"/></linearGradient><linearGradient id="h7"><stop offset="0.000" stop-color="#c3dae9"/><stop offset="0.226" stop-color="#cfe0eb"/><stop offset="0.229" stop-color="#eec8b0"/><stop offset="0.240" stop-color="#b3522e"/><stop offset="0.452" stop-color="#ce7d56"/><stop offset="0.663" stop-color="#ecebea"/><stop offset="0.667" stop-color="#a5c5dc"/><stop offset="1.000" stop-color="#afcde1"/></linearGradient><linearGradient id="h8"><stop offset="0.000" stop-color="#cddfeb"/><stop offset="0.219" stop-color="#9ec1da"/><stop offset="0.233" stop-color="#a24023"/><stop offset="0.237" stop-color="#8a2714"/><stop offset="0.351" stop-color="#e1a584"/><stop offset="0.534" stop-color="#ece5e1"/><stop offset="0.538" stop-color="#cde0eb"/><stop offset="1.000" stop-color="#88b2d0"/></linearGradient><linearGradient id="h9"><stop offset="0.000" stop-color="#cbdfeb"/><stop offset="0.211" stop-color="#b9d3e5"/><stop offset="0.226" stop-color="#9a371e"/><stop offset="0.237" stop-color="#802013"/><stop offset="0.244" stop-color="#600a12"/><stop offset="0.247" stop-color="#600a12"/><stop offset="0.251" stop-color="#600a12"/><stop offset="0.262" stop-color="#8e2a15"/><stop offset="0.269" stop-color="#b75631"/><stop offset="0.398" stop-color="#edc5ad"/><stop offset="0.523" stop-color="#ece5e0"/><stop offset="0.527" stop-color="#d1e2ec"/><stop offset="1.000" stop-color="#a5c6dc"/></linearGradient><linearGradient id="h10"><stop offset="0.000" stop-color="#dae7ee"/><stop offset="0.226" stop-color="#b2cfe2"/><stop offset="0.229" stop-color="#e6b496"/><stop offset="0.240" stop-color="#6c1213"/><stop offset="0.341" stop-color="#d58a62"/><stop offset="0.505" stop-color="#ede1d9"/><stop offset="0.556" stop-color="#ece8e6"/><stop offset="0.559" stop-color="#c0d8e8"/><stop offset="1.000" stop-color="#76a6c9"/></linearGradient><linearGradient id="h11"><stop offset="0.000" stop-color="#d3e3ec"/><stop offset="0.229" stop-color="#d5e4ed"/><stop offset="0.233" stop-color="#dfa07c"/><stop offset="0.244" stop-color="#600a12"/><stop offset="0.337" stop-color="#c56d47"/><stop offset="0.484" stop-color="#edd8cb"/><stop offset="0.570" stop-color="#ecebeb"/><stop offset="0.573" stop-color="#a4c5dc"/><stop offset="1.000" stop-color="#a6c7dd"/></linearGradient><linearGradient id="h12"><stop offset="0.000" stop-color="#d5e4ed"/><stop offset="0.215" stop-color="#c9ddea"/><stop offset="0.219" stop-color="#dce8ee"/><stop offset="0.226" stop-color="#c66f48"/><stop offset="0.233" stop-color="#802013"/><stop offset="0.341" stop-color="#dc9974"/><stop offset="0.520" stop-color="#ede2db"/><stop offset="0.527" stop-color="#dce8ee"/><stop offset="1.000" stop-color="#a2c4db"/></linearGradient><linearGradient id="h13"><stop offset="0.000" stop-color="#e4eaed"/><stop offset="0.233" stop-color="#cbdfeb"/><stop offset="0.240" stop-color="#d3855d"/><stop offset="0.247" stop-color="#802013"/><stop offset="0.355" stop-color="#de9e7a"/><stop offset="0.530" stop-color="#ece8e5"/><stop offset="0.534" stop-color="#c2d9e8"/><stop offset="1.000" stop-color="#bbd5e6"/></linearGradient><linearGradient id="h14"><stop offset="0.000" stop-color="#e0e9ed"/><stop offset="0.229" stop-color="#bcd5e6"/><stop offset="0.244" stop-color="#a13f22"/><stop offset="0.247" stop-color="#8a2614"/><stop offset="0.355" stop-color="#e1a685"/><stop offset="0.523" stop-color="#ece6e2"/><stop offset="0.527" stop-color="#cadeea"/><stop offset="1.000" stop-color="#bed7e7"/></linearGradient><linearGradient id="h15"><stop offset="0.000" stop-color="#c7dcea"/><stop offset="0.226" stop-color="#b7d2e4"/><stop offset="0.240" stop-color="#802013"/><stop offset="0.247" stop-color="#791b13"/><stop offset="0.348" stop-color="#da946d"/><stop offset="0.523" stop-color="#ece3dd"/><stop offset="0.530" stop-color="#ece4df"/><stop offset="0.534" stop-color="#d3e3ec"/><stop offset="1.000" stop-color="#a9c9de"/></linearGradient><linearGradient id="h16"><stop offset="0.000" stop-color="#e7ebed"/><stop offset="0.233" stop-color="#e7ebed"/><stop offset="0.244" stop-color="#7d1e13"/><stop offset="0.247" stop-color="#600a12"/><stop offset="0.337" stop-color="#c7724b"/><stop offset="0.484" stop-color="#edd5c6"/><stop offset="0.545" stop-color="#ede3dc"/><stop offset="0.548" stop-color="#dae7ee"/><stop offset="1.000" stop-color="#b0cde1"/></linearGradient><linearGradient id="h17"><stop offset="0.000" stop-color="#d3e3ec"/><stop offset="0.222" stop-color="#d0e1ec"/><stop offset="0.237" stop-color="#691012"/><stop offset="0.341" stop-color="#d58a62"/><stop offset="0.509" stop-color="#eddfd7"/><stop offset="0.523" stop-color="#ede2db"/><stop offset="0.530" stop-color="#dce8ee"/><stop offset="1.000" stop-color="#a1c3db"/></linearGradient><linearGradient id="h18"><stop offset="0.000" stop-color="#cadeea"/><stop offset="0.215" stop-color="#c7dcea"/><stop offset="0.219" stop-color="#e6b294"/><stop offset="0.229" stop-color="#600a12"/><stop offset="0.315" stop-color="#c67049"/><stop offset="0.459" stop-color="#edd3c2"/><stop offset="0.523" stop-color="#ede2db"/><stop offset="0.530" stop-color="#dde8ee"/><stop offset="0.921" stop-color="#abcadf"/><stop offset="1.000" stop-color="#b8d3e5"/></linearGradient><linearGradient id="h19"><stop offset="0.000" stop-color="#e3e9ed"/><stop offset="0.219" stop-color="#cee0eb"/><stop offset="0.222" stop-color="#ebbfa4"/><stop offset="0.233" stop-color="#943119"/><stop offset="0.337" stop-color="#e5b091"/><stop offset="0.487" stop-color="#ebecec"/><stop offset="0.491" stop-color="#93bad5"/><stop offset="1.000" stop-color="#4f87b4"/></linearGradient><linearGradient id="h20"><stop offset="0.000" stop-color="#e1e9ed"/><stop offset="0.233" stop-color="#cfe0eb"/><stop offset="0.240" stop-color="#d88e66"/><stop offset="0.247" stop-color="#933019"/><stop offset="0.351" stop-color="#e3ac8c"/><stop offset="0.498" stop-color="#ece6e2"/><stop offset="0.502" stop-color="#cadeea"/><stop offset="1.000" stop-color="#97bcd6"/></linearGradient><linearGradient id="h21"><stop offset="0.000" stop-color="#c9ddea"/><stop offset="0.233" stop-color="#b5d0e3"/><stop offset="0.237" stop-color="#eec9b2"/><stop offset="0.247" stop-color="#842214"/><stop offset="0.258" stop-color="#7f1f13"/><stop offset="0.265" stop-color="#600a12"/><stop offset="0.269" stop-color="#600a12"/><stop offset="0.272" stop-color="#600a12"/><stop offset="0.276" stop-color="#600a12"/><stop offset="0.283" stop-color="#8f2b16"/><stop offset="0.290" stop-color="#ba5b34"/><stop offset="0.405" stop-color="#eec9b1"/><stop offset="0.509" stop-color="#ece5e1"/><stop offset="0.513" stop-color="#cde0eb"/><stop offset="1.000" stop-color="#c3d9e9"/></linearGradient><linearGradient id="h22"><stop offset="0.000" stop-color="#d0e1ec"/><stop offset="0.229" stop-color="#cee0eb"/><stop offset="0.240" stop-color="#cf7e57"/><stop offset="0.244" stop-color="#b55530"/><stop offset="0.373" stop-color="#eec7af"/><stop offset="0.466" stop-color="#ede0d8"/><stop offset="0.477" stop-color="#e4eaed"/><stop offset="1.000" stop-color="#bbd5e6"/></linearGradient><linearGradient id="h23"><stop offset="0.000" stop-color="#e1e9ed"/><stop offset="0.226" stop-color="#dae7ee"/><stop offset="0.240" stop-color="#ae4d2b"/><stop offset="0.387" stop-color="#eeccb7"/><stop offset="0.470" stop-color="#ece3dd"/><stop offset="0.473" stop-color="#d6e5ed"/><stop offset="0.814" stop-color="#c5dbe9"/><stop offset="1.000" stop-color="#d2e2ec"/></linearGradient><linearGradient id="h24"><stop offset="0.000" stop-color="#e0e9ed"/><stop offset="0.211" stop-color="#cde0eb"/><stop offset="0.226" stop-color="#b65530"/><stop offset="0.233" stop-color="#ac4b2a"/><stop offset="0.348" stop-color="#ecc3aa"/><stop offset="0.459" stop-color="#ece6e3"/><stop offset="0.462" stop-color="#c9ddea"/><stop offset="1.000" stop-color="#c1d9e8"/></linearGradient><linearGradient id="h25"><stop offset="0.000" stop-color="#c8ddea"/><stop offset="0.215" stop-color="#aac9df"/><stop offset="0.219" stop-color="#edd5c6"/><stop offset="0.229" stop-color="#bd613b"/><stop offset="0.348" stop-color="#eeceba"/><stop offset="0.441" stop-color="#ece7e3"/><stop offset="0.444" stop-color="#c9ddea"/><stop offset="1.000" stop-color="#93b9d5"/></linearGradient><linearGradient id="h26"><stop offset="0.000" stop-color="#dfe8ed"/><stop offset="0.219" stop-color="#ccdfeb"/><stop offset="0.222" stop-color="#edd2c0"/><stop offset="0.233" stop-color="#c67049"/><stop offset="0.362" stop-color="#edd8ca"/><stop offset="0.427" stop-color="#ece9e7"/><stop offset="0.430" stop-color="#b9d4e5"/><stop offset="0.746" stop-color="#90b7d3"/><stop offset="1.000" stop-color="#b1cee2"/></linearGradient><linearGradient id="h27"><stop offset="0.000" stop-color="#d0e1ec"/><stop offset="0.219" stop-color="#c8ddea"/><stop offset="0.222" stop-color="#d0e1ec"/><stop offset="0.226" stop-color="#ede2db"/><stop offset="0.272" stop-color="#ece4de"/><stop offset="0.276" stop-color="#d3e3ec"/><stop offset="0.735" stop-color="#c2d9e8"/><stop offset="1.000" stop-color="#c5dbe9"/></linearGradient><linearGradient id="h28"><stop offset="0.000" stop-color="#e8ebec"/><stop offset="0.222" stop-color="#dae7ee"/><stop offset="0.233" stop-color="#cd7b54"/><stop offset="0.237" stop-color="#b85732"/><stop offset="0.351" stop-color="#eecab4"/><stop offset="0.437" stop-color="#ece5e0"/><stop offset="0.441" stop-color="#d0e1ec"/><stop offset="0.760" stop-color="#c2d9e9"/><stop offset="1.000" stop-color="#cfe1eb"/></linearGradient><linearGradient id="h29"><stop offset="0.000" stop-color="#ececec"/><stop offset="0.215" stop-color="#dce8ee"/><stop offset="0.222" stop-color="#e0a280"/><stop offset="0.229" stop-color="#bf643d"/><stop offset="0.344" stop-color="#eecebb"/><stop offset="0.419" stop-color="#ece4de"/><stop offset="0.423" stop-color="#d6e5ed"/><stop offset="1.000" stop-color="#cadeea"/></linearGradient><linearGradient id="h30"><stop offset="0.000" stop-color="#e9ebec"/><stop offset="0.229" stop-color="#dce7ee"/><stop offset="0.244" stop-color="#bd613b"/><stop offset="0.369" stop-color="#eed0bd"/><stop offset="0.434" stop-color="#ede2db"/><stop offset="0.441" stop-color="#dde8ee"/><stop offset="0.971" stop-color="#a8c8de"/><stop offset="1.000" stop-color="#a9c8de"/></linearGradient><linearGradient id="h31"><stop offset="0.000" stop-color="#ebecec"/><stop offset="0.229" stop-color="#dde8ee"/><stop offset="0.244" stop-color="#b95933"/><stop offset="0.351" stop-color="#eecab4"/><stop offset="0.434" stop-color="#ece5e1"/><stop offset="0.437" stop-color="#cfe1eb"/><stop offset="0.731" stop-color="#bfd8e8"/><stop offset="1.000" stop-color="#cde0eb"/></linearGradient><linearGradient id="h32"><stop offset="0.000" stop-color="#ececec"/><stop offset="0.229" stop-color="#e5eaed"/><stop offset="0.244" stop-color="#c9744d"/><stop offset="0.366" stop-color="#edd4c4"/><stop offset="0.409" stop-color="#eddfd7"/><stop offset="0.419" stop-color="#e6eaed"/><stop offset="1.000" stop-color="#e1e9ed"/></linearGradient><linearGradient id="h33"><stop offset="0.000" stop-color="#d1e2ec"/><stop offset="0.233" stop-color="#cbdeeb"/><stop offset="0.237" stop-color="#d6e5ed"/><stop offset="0.240" stop-color="#eddbd0"/><stop offset="0.312" stop-color="#ece3de"/><stop offset="0.315" stop-color="#d6e5ed"/><stop offset="1.000" stop-color="#d0e1ec"/></linearGradient><linearGradient id="h34"><stop offset="0.000" stop-color="#d7e5ed"/><stop offset="0.219" stop-color="#dae7ee"/><stop offset="0.233" stop-color="#eecbb5"/><stop offset="0.301" stop-color="#eddfd6"/><stop offset="0.315" stop-color="#e7ebed"/><stop offset="1.000" stop-color="#cadeea"/></linearGradient><linearGradient id="h35"><stop offset="0.000" stop-color="#ecebeb"/><stop offset="0.215" stop-color="#e5eaed"/><stop offset="0.226" stop-color="#c46d46"/><stop offset="0.233" stop-color="#ba5c36"/><stop offset="0.333" stop-color="#eec8b1"/><stop offset="0.405" stop-color="#eddfd6"/><stop offset="0.419" stop-color="#e7ebed"/><stop offset="1.000" stop-color="#d3e3ec"/></linearGradient><linearGradient id="h36"><stop offset="0.000" stop-color="#e6eaed"/><stop offset="0.215" stop-color="#d7e5ed"/><stop offset="0.229" stop-color="#d48860"/><stop offset="0.358" stop-color="#edded5"/><stop offset="0.369" stop-color="#ede1d9"/><stop offset="0.376" stop-color="#e0e9ed"/><stop offset="0.796" stop-color="#cbdfeb"/><stop offset="1.000" stop-color="#d3e3ec"/></linearGradient><linearGradient id="h37"><stop offset="0.000" stop-color="#dfe8ed"/><stop offset="0.226" stop-color="#c7dcea"/><stop offset="0.233" stop-color="#eecab3"/><stop offset="0.240" stop-color="#d9916a"/><stop offset="0.373" stop-color="#ece4de"/><stop offset="0.376" stop-color="#ece5e0"/><stop offset="0.380" stop-color="#d2e2ec"/><stop offset="0.753" stop-color="#c9ddea"/><stop offset="1.000" stop-color="#d1e2ec"/></linearGradient><linearGradient id="h38"><stop offset="0.000" stop-color="#dee8ee"/><stop offset="0.222" stop-color="#ece6e2"/><stop offset="0.240" stop-color="#eed0bd"/><stop offset="0.573" stop-color="#c8ddea"/><stop offset="1.000" stop-color="#dfe8ed"/></linearGradient><linearGradient id="h39"><stop offset="0.000" stop-color="#ece9e8"/><stop offset="0.222" stop-color="#e2e9ed"/><stop offset="0.237" stop-color="#c67049"/><stop offset="0.348" stop-color="#edd4c5"/><stop offset="0.384" stop-color="#eddfd7"/><stop offset="0.394" stop-color="#e5eaed"/><stop offset="0.853" stop-color="#bcd5e6"/><stop offset="1.000" stop-color="#bad4e5"/></linearGradient><linearGradient id="h40"><stop offset="0.000" stop-color="#e5eaed"/><stop offset="0.219" stop-color="#ccdfeb"/><stop offset="0.222" stop-color="#d4e4ed"/><stop offset="0.226" stop-color="#ede0d7"/><stop offset="0.276" stop-color="#ece5e0"/><stop offset="0.280" stop-color="#d0e1ec"/><stop offset="0.559" stop-color="#a7c7dd"/><stop offset="1.000" stop-color="#b4d0e3"/></linearGradient><linearGradient id="h41"><stop offset="0.000" stop-color="#dbe7ee"/><stop offset="0.233" stop-color="#cddfeb"/><stop offset="0.240" stop-color="#edc6ad"/><stop offset="0.247" stop-color="#d58961"/><stop offset="0.366" stop-color="#ede2db"/><stop offset="0.376" stop-color="#ece5e0"/><stop offset="0.380" stop-color="#d2e2ec"/><stop offset="0.699" stop-color="#8cb5d2"/><stop offset="1.000" stop-color="#b0cee1"/></linearGradient><linearGradient id="h42"><stop offset="0.000" stop-color="#dce8ee"/><stop offset="0.226" stop-color="#b4d0e3"/><stop offset="0.229" stop-color="#cadeea"/><stop offset="0.233" stop-color="#edd1bf"/><stop offset="0.244" stop-color="#d58961"/><stop offset="0.348" stop-color="#ede1da"/><stop offset="0.369" stop-color="#ece8e5"/><stop offset="0.373" stop-color="#c1d9e8"/><stop offset="0.674" stop-color="#a3c4db"/><stop offset="1.000" stop-color="#bdd6e7"/></linearGradient><linearGradient id="h43"><stop offset="0.000" stop-color="#dee8ee"/><stop offset="0.233" stop-color="#dae7ee"/><stop offset="0.247" stop-color="#d99069"/><stop offset="0.358" stop-color="#ede1d9"/><stop offset="0.366" stop-color="#dee8ee"/><stop offset="0.652" stop-color="#a4c5dc"/><stop offset="1.000" stop-color="#cbdeea"/></linearGradient><linearGradient id="h44"><stop offset="0.000" stop-color="#d3e3ec"/><stop offset="0.215" stop-color="#dbe7ee"/><stop offset="0.222" stop-color="#ecc2a8"/><stop offset="0.233" stop-color="#e0a381"/><stop offset="0.330" stop-color="#ede1d9"/><stop offset="0.337" stop-color="#e0e9ed"/><stop offset="0.860" stop-color="#94bad5"/><stop offset="1.000" stop-color="#9fc2da"/></linearGradient><linearGradient id="h45"><stop offset="0.000" stop-color="#e1e9ed"/><stop offset="0.222" stop-color="#c5dbe9"/><stop offset="0.226" stop-color="#ede1d9"/><stop offset="0.237" stop-color="#dc9872"/><stop offset="0.341" stop-color="#ece6e2"/><stop offset="0.344" stop-color="#c7dcea"/><stop offset="0.584" stop-color="#9fc2da"/><stop offset="1.000" stop-color="#a4c5dc"/></linearGradient><linearGradient id="h46"><stop offset="0.000" stop-color="#d4e4ed"/><stop offset="0.222" stop-color="#c9ddea"/><stop offset="0.226" stop-color="#edddd3"/><stop offset="0.237" stop-color="#de9f7c"/><stop offset="0.333" stop-color="#ede2dc"/><stop offset="0.337" stop-color="#dae7ee"/><stop offset="1.000" stop-color="#a0c2da"/></linearGradient><linearGradient id="h47"><stop offset="0.000" stop-color="#cfe1ec"/><stop offset="0.222" stop-color="#d3e3ec"/><stop offset="0.229" stop-color="#eabea3"/><stop offset="0.237" stop-color="#da956e"/><stop offset="0.337" stop-color="#ede2db"/><stop offset="0.344" stop-color="#dde8ee"/><stop offset="1.000" stop-color="#adcbe0"/></linearGradient><linearGradient id="h48"><stop offset="0.000" stop-color="#d0e1ec"/><stop offset="0.226" stop-color="#a9c9de"/><stop offset="0.229" stop-color="#c7dcea"/><stop offset="0.233" stop-color="#edd5c6"/><stop offset="0.244" stop-color="#dfa17e"/><stop offset="0.337" stop-color="#ece6e2"/><stop offset="0.341" stop-color="#cadeea"/><stop offset="1.000" stop-color="#a8c8de"/></linearGradient><linearGradient id="h49"><stop offset="0.000" stop-color="#dde8ee"/><stop offset="0.222" stop-color="#afcce1"/><stop offset="0.226" stop-color="#ccdfeb"/><stop offset="0.229" stop-color="#edd6c7"/><stop offset="0.237" stop-color="#e4ae8f"/><stop offset="0.319" stop-color="#ece7e3"/><stop offset="0.323" stop-color="#c7dcea"/><stop offset="1.000" stop-color="#98bdd7"/></linearGradient><linearGradient id="h50"><stop offset="0.000" stop-color="#ccdfeb"/><stop offset="0.215" stop-color="#c5dbe9"/><stop offset="0.219" stop-color="#edded4"/><stop offset="0.229" stop-color="#dfa17e"/><stop offset="0.315" stop-color="#ece3de"/><stop offset="0.319" stop-color="#d6e4ed"/><stop offset="1.000" stop-color="#aecce0"/></linearGradient><linearGradient id="h51"><stop offset="0.000" stop-color="#c5dbe9"/><stop offset="0.222" stop-color="#b8d2e4"/><stop offset="0.226" stop-color="#cee0eb"/><stop offset="0.229" stop-color="#edd7ca"/><stop offset="0.237" stop-color="#e6b294"/><stop offset="0.308" stop-color="#ece3de"/><stop offset="0.312" stop-color="#d4e3ed"/><stop offset="1.000" stop-color="#95bbd6"/></linearGradient><linearGradient id="h52"><stop offset="0.000" stop-color="#cee0eb"/><stop offset="0.237" stop-color="#dce8ee"/><stop offset="0.244" stop-color="#eed0bd"/><stop offset="0.301" stop-color="#ede0d9"/><stop offset="0.308" stop-color="#e1e9ed"/><stop offset="0.914" stop-color="#a5c6dc"/><stop offset="1.000" stop-color="#b3cfe2"/></linearGradient><linearGradient id="h53"><stop offset="0.000" stop-color="#d8e6ee"/><stop offset="0.240" stop-color="#c7dcea"/><stop offset="0.244" stop-color="#ede3dd"/><stop offset="0.254" stop-color="#eecfbc"/><stop offset="0.297" stop-color="#ece5e0"/><stop offset="0.301" stop-color="#cde0eb"/><stop offset="0.627" stop-color="#c3dae9"/><stop offset="1.000" stop-color="#c2d9e8"/></linearGradient><linearGradient id="h54"><stop offset="0.000" stop-color="#cadeea"/><stop offset="0.229" stop-color="#c8ddea"/><stop offset="0.233" stop-color="#d3e3ec"/><stop offset="0.237" stop-color="#edded4"/><stop offset="0.265" stop-color="#eddcd2"/><stop offset="0.280" stop-color="#ede2db"/><stop offset="0.283" stop-color="#dae7ee"/><stop offset="1.000" stop-color="#a7c7dd"/></linearGradient><linearGradient id="h55"><stop offset="0.000" stop-color="#c8ddea"/><stop offset="0.233" stop-color="#c7dcea"/><stop offset="0.237" stop-color="#d2e2ec"/><stop offset="0.240" stop-color="#edddd2"/><stop offset="0.280" stop-color="#ede1da"/><stop offset="0.287" stop-color="#ece4de"/><stop offset="0.290" stop-color="#d5e4ed"/><stop offset="0.961" stop-color="#8cb5d2"/><stop offset="1.000" stop-color="#93bad5"/></linearGradient><linearGradient id="h56"><stop offset="0.000" stop-color="#dfe8ed"/><stop offset="0.237" stop-color="#d8e6ee"/><stop offset="0.244" stop-color="#ede1da"/><stop offset="0.251" stop-color="#dee8ee"/><stop offset="0.774" stop-color="#93bad5"/><stop offset="1.000" stop-color="#8db6d2"/></linearGradient><linearGradient id="h57"><stop offset="0.000" stop-color="#d9e6ee"/><stop offset="0.229" stop-color="#dde8ee"/><stop offset="0.240" stop-color="#e8b99d"/><stop offset="0.305" stop-color="#ede0d7"/><stop offset="0.315" stop-color="#e4eaed"/><stop offset="1.000" stop-color="#cde0eb"/></linearGradient><linearGradient id="h58"><stop offset="0.000" stop-color="#dde8ee"/><stop offset="0.240" stop-color="#e2e9ed"/><stop offset="0.251" stop-color="#e8b89b"/><stop offset="0.312" stop-color="#ede0d8"/><stop offset="0.319" stop-color="#e2e9ed"/><stop offset="0.645" stop-color="#abcadf"/><stop offset="1.000" stop-color="#cee0eb"/></linearGradient><linearGradient id="h59"><stop offset="0.000" stop-color="#d3e3ec"/><stop offset="0.244" stop-color="#cddfeb"/><stop offset="0.251" stop-color="#eecfbc"/><stop offset="0.258" stop-color="#e3ac8c"/><stop offset="0.323" stop-color="#ede1da"/><stop offset="0.326" stop-color="#dce7ee"/><stop offset="0.706" stop-color="#cbdfeb"/><stop offset="1.000" stop-color="#cde0eb"/></linearGradient><linearGradient id="h60"><stop offset="0.000" stop-color="#e3e9ed"/><stop offset="0.226" stop-color="#d6e5ed"/><stop offset="0.233" stop-color="#eecbb5"/><stop offset="0.244" stop-color="#e8b89b"/><stop offset="0.301" stop-color="#ede3dc"/><stop offset="0.305" stop-color="#d9e6ee"/><stop offset="0.599" stop-color="#c5dbe9"/><stop offset="1.000" stop-color="#d3e3ec"/></linearGradient><linearGradient id="h61"><stop offset="0.000" stop-color="#eaecec"/><stop offset="0.233" stop-color="#e9ebec"/><stop offset="0.244" stop-color="#e8b99d"/><stop offset="0.297" stop-color="#eddfd6"/><stop offset="0.315" stop-color="#e3eaed"/><stop offset="0.792" stop-color="#aecce0"/><stop offset="1.000" stop-color="#a9c9de"/></linearGradient><linearGradient id="h62"><stop offset="0.000" stop-color="#d4e4ed"/><stop offset="0.233" stop-color="#d5e4ed"/><stop offset="0.237" stop-color="#eddfd6"/><stop offset="0.251" stop-color="#edd3c3"/><stop offset="0.280" stop-color="#ede2dc"/><stop offset="0.283" stop-color="#d9e6ee"/><stop offset="0.634" stop-color="#c4dae9"/><stop offset="1.000" stop-color="#ccdfeb"/></linearGradient><linearGradient id="h63"><stop offset="0.000" stop-color="#dce8ee"/><stop offset="0.244" stop-color="#cee0eb"/><stop offset="0.247" stop-color="#d7e5ed"/><stop offset="0.251" stop-color="#edded5"/><stop offset="0.276" stop-color="#eddbd0"/><stop offset="0.283" stop-color="#dd9c78"/><stop offset="0.290" stop-color="#98351c"/><stop offset="0.294" stop-color="#8e2a15"/><stop offset="0.305" stop-color="#ece7e4"/><stop offset="0.312" stop-color="#ccdfeb"/><stop offset="0.616" stop-color="#8db6d3"/><stop offset="1.000" stop-color="#c0d8e8"/></linearGradient><linearGradient id="h64"><stop offset="0.000" stop-color="#e8ebec"/><stop offset="0.240" stop-color="#d8e6ed"/><stop offset="0.251" stop-color="#eed0bd"/><stop offset="0.283" stop-color="#ede2db"/><stop offset="0.290" stop-color="#dbe7ee"/><stop offset="0.563" stop-color="#c2d9e9"/><stop offset="1.000" stop-color="#d4e3ed"/></linearGradient><linearGradient id="h65"><stop offset="0.000" stop-color="#d2e2ec"/><stop offset="0.237" stop-color="#d4e4ed"/><stop offset="0.247" stop-color="#eddacd"/><stop offset="0.265" stop-color="#ede2db"/><stop offset="0.272" stop-color="#dde8ee"/><stop offset="1.000" stop-color="#aecce1"/></linearGradient><linearGradient id="h66"><stop offset="0.000" stop-color="#dae7ee"/><stop offset="0.380" stop-color="#a5c6dd"/><stop offset="0.871" stop-color="#99bed8"/><stop offset="1.000" stop-color="#88b2d0"/></linearGradient><linearGradient id="h67"><stop offset="0.000" stop-color="#cadeea"/><stop offset="0.247" stop-color="#c5dbe9"/><stop offset="0.251" stop-color="#cee0eb"/><stop offset="0.254" stop-color="#ede0d9"/><stop offset="0.276" stop-color="#ece4de"/><stop offset="0.280" stop-color="#d0e1ec"/><stop offset="0.677" stop-color="#c6dbe9"/><stop offset="1.000" stop-color="#c3dae9"/></linearGradient><linearGradient id="h68"><stop offset="0.000" stop-color="#dbe7ee"/><stop offset="0.240" stop-color="#dee8ee"/><stop offset="0.247" stop-color="#edd2c1"/><stop offset="0.276" stop-color="#eecab4"/><stop offset="0.280" stop-color="#dfa27f"/><stop offset="0.287" stop-color="#812013"/><stop offset="0.290" stop-color="#812013"/><stop offset="0.294" stop-color="#a24023"/><stop offset="0.301" stop-color="#edd3c2"/><stop offset="0.308" stop-color="#dae7ee"/><stop offset="0.595" stop-color="#a7c7dd"/><stop offset="1.000" stop-color="#ccdfeb"/></linearGradient><linearGradient id="h69"><stop offset="0.000" stop-color="#e2e9ed"/><stop offset="0.237" stop-color="#d2e3ec"/><stop offset="0.240" stop-color="#edddd2"/><stop offset="0.251" stop-color="#eec7af"/><stop offset="0.262" stop-color="#edc6ae"/><stop offset="0.265" stop-color="#e3aa8a"/><stop offset="0.276" stop-color="#6a1112"/><stop offset="0.280" stop-color="#771913"/><stop offset="0.287" stop-color="#dc9a75"/><stop offset="0.294" stop-color="#dde8ee"/><stop offset="0.480" stop-color="#cbdeea"/><stop offset="1.000" stop-color="#b1cee2"/></linearGradient><linearGradient id="h70"><stop offset="0.000" stop-color="#d6e5ed"/><stop offset="0.233" stop-color="#d3e3ec"/><stop offset="0.240" stop-color="#edd5c6"/><stop offset="0.269" stop-color="#eddace"/><stop offset="0.283" stop-color="#ede1d9"/><stop offset="0.290" stop-color="#dde8ee"/><stop offset="1.000" stop-color="#c1d8e8"/></linearGradient><linearGradient id="h71"><stop offset="0.000" stop-color="#e4eaed"/><stop offset="0.247" stop-color="#dfe8ed"/><stop offset="0.685" stop-color="#abcadf"/><stop offset="1.000" stop-color="#cadeea"/></linearGradient><linearGradient id="h72"><stop offset="0.000" stop-color="#dae7ee"/><stop offset="0.240" stop-color="#dee8ee"/><stop offset="0.247" stop-color="#edd6c8"/><stop offset="0.276" stop-color="#ede0d7"/><stop offset="0.287" stop-color="#e3e9ed"/><stop offset="1.000" stop-color="#c6dbe9"/></linearGradient><linearGradient id="h73"><stop offset="0.000" stop-color="#e5eaed"/><stop offset="0.237" stop-color="#eceae8"/><stop offset="0.251" stop-color="#edd6c8"/><stop offset="0.373" stop-color="#d4e3ed"/><stop offset="0.728" stop-color="#d3e3ec"/><stop offset="1.000" stop-color="#d9e7ee"/></linearGradient><linearGradient id="h74"><stop offset="0.000" stop-color="#e2e9ed"/><stop offset="0.229" stop-color="#cddfeb"/><stop offset="0.233" stop-color="#d5e4ed"/><stop offset="0.237" stop-color="#ede1d9"/><stop offset="0.258" stop-color="#ede2dc"/><stop offset="0.262" stop-color="#d8e6ee"/><stop offset="0.516" stop-color="#cddfeb"/><stop offset="1.000" stop-color="#c2d9e9"/></linearGradient><linearGradient id="h75"><stop offset="0.000" stop-color="#c8ddea"/><stop offset="0.229" stop-color="#c3dae9"/><stop offset="0.233" stop-color="#cbdfeb"/><stop offset="0.237" stop-color="#ede2dc"/><stop offset="0.262" stop-color="#ece4df"/><stop offset="0.265" stop-color="#d0e1ec"/><stop offset="0.663" stop-color="#bdd6e7"/><stop offset="1.000" stop-color="#bfd7e7"/></linearGradient><linearGradient id="h76"><stop offset="0.000" stop-color="#dde8ee"/><stop offset="0.237" stop-color="#d8e6ee"/><stop offset="0.247" stop-color="#edd6c7"/><stop offset="0.265" stop-color="#eddfd7"/><stop offset="0.272" stop-color="#e1e9ed"/><stop offset="0.814" stop-color="#9ec1da"/><stop offset="1.000" stop-color="#9ec1d9"/></linearGradient><linearGradient id="h77"><stop offset="0.000" stop-color="#c8dcea"/><stop offset="0.237" stop-color="#ccdfeb"/><stop offset="0.240" stop-color="#ede1d9"/><stop offset="0.254" stop-color="#edd7c9"/><stop offset="0.276" stop-color="#ece3de"/><stop offset="0.280" stop-color="#d3e3ec"/><stop offset="1.000" stop-color="#a7c7dd"/></linearGradient><linearGradient id="h78"><stop offset="0.000" stop-color="#dae7ee"/><stop offset="0.229" stop-color="#e8ebec"/><stop offset="0.244" stop-color="#eecab4"/><stop offset="0.326" stop-color="#e5eaed"/><stop offset="0.961" stop-color="#c8ddea"/><stop offset="1.000" stop-color="#cbdfeb"/></linearGradient><linearGradient id="h79"><stop offset="0.000" stop-color="#eaecec"/><stop offset="0.337" stop-color="#e3e9ed"/><stop offset="1.000" stop-color="#c5dbe9"/></linearGradient><linearGradient id="h80"><stop offset="0.000" stop-color="#dce8ee"/><stop offset="0.251" stop-color="#e9ebec"/><stop offset="1.000" stop-color="#cddfeb"/></linearGradient><linearGradient id="h81"><stop offset="0.000" stop-color="#e3eaed"/><stop offset="0.247" stop-color="#d6e5ed"/><stop offset="0.254" stop-color="#edd1c0"/><stop offset="0.294" stop-color="#ede2dc"/><stop offset="0.297" stop-color="#d8e6ee"/><stop offset="0.573" stop-color="#b5d1e3"/><stop offset="1.000" stop-color="#d0e1ec"/></linearGradient><linearGradient id="h82"><stop offset="0.000" stop-color="#e2e9ed"/><stop offset="0.584" stop-color="#b0cde1"/><stop offset="1.000" stop-color="#ccdfeb"/></linearGradient><linearGradient id="h83"><stop offset="0.000" stop-color="#eaecec"/><stop offset="0.233" stop-color="#dfe8ed"/><stop offset="0.244" stop-color="#eecfbc"/><stop offset="0.269" stop-color="#eddfd7"/><stop offset="0.280" stop-color="#e2e9ed"/><stop offset="0.659" stop-color="#afcce1"/><stop offset="1.000" stop-color="#c2d9e8"/></linearGradient><linearGradient id="h84"><stop offset="0.000" stop-color="#e9ebec"/><stop offset="0.244" stop-color="#d9e6ee"/><stop offset="0.254" stop-color="#edded4"/><stop offset="0.262" stop-color="#ede2db"/><stop offset="0.269" stop-color="#dae7ee"/><stop offset="0.516" stop-color="#c1d8e8"/><stop offset="0.996" stop-color="#c9ddea"/><stop offset="1.000" stop-color="#c9ddea"/></linearGradient><linearGradient id="h85"><stop offset="0.000" stop-color="#d0e1ec"/><stop offset="0.229" stop-color="#dde8ee"/><stop offset="0.237" stop-color="#edd8ca"/><stop offset="0.258" stop-color="#ede0d9"/><stop offset="0.265" stop-color="#dfe8ed"/><stop offset="0.616" stop-color="#8bb4d2"/><stop offset="1.000" stop-color="#bed7e7"/></linearGradient><linearGradient id="h86"><stop offset="0.000" stop-color="#eceae8"/><stop offset="1.000" stop-color="#c1d8e8"/></linearGradient><linearGradient id="h87"><stop offset="0.000" stop-color="#d0e1ec"/><stop offset="0.219" stop-color="#c2d9e8"/><stop offset="0.244" stop-color="#d2e3ec"/><stop offset="0.247" stop-color="#ecebea"/><stop offset="0.258" stop-color="#933019"/><stop offset="0.262" stop-color="#99361d"/><stop offset="0.272" stop-color="#e3e9ed"/><stop offset="0.287" stop-color="#c0d8e8"/><stop offset="0.627" stop-color="#417cad"/><stop offset="1.000" stop-color="#699cc2"/></linearGradient><linearGradient id="h88"><stop offset="0.000" stop-color="#cfe1eb"/><stop offset="1.000" stop-color="#c5dbe9"/></linearGradient><linearGradient id="h89"><stop offset="0.000" stop-color="#d6e5ed"/><stop offset="0.247" stop-color="#c7dcea"/><stop offset="0.251" stop-color="#cfe0eb"/><stop offset="0.254" stop-color="#ede2db"/><stop offset="0.272" stop-color="#ece4df"/><stop offset="0.276" stop-color="#d1e2ec"/><stop offset="0.573" stop-color="#c1d8e8"/><stop offset="1.000" stop-color="#cfe1eb"/></linearGradient><linearGradient id="h90"><stop offset="0.000" stop-color="#cfe1eb"/><stop offset="0.308" stop-color="#dee8ee"/><stop offset="0.312" stop-color="#edded4"/><stop offset="0.319" stop-color="#b0502d"/><stop offset="0.323" stop-color="#8d2914"/><stop offset="0.326" stop-color="#a24023"/><stop offset="0.333" stop-color="#edd2c1"/><stop offset="0.341" stop-color="#d4e4ed"/><stop offset="0.993" stop-color="#a6c6dd"/><stop offset="1.000" stop-color="#a7c7dd"/></linearGradient><linearGradient id="h91"><stop offset="0.000" stop-color="#e1e9ed"/><stop offset="0.093" stop-color="#e0e9ed"/><stop offset="0.100" stop-color="#d4875f"/><stop offset="0.108" stop-color="#660e12"/><stop offset="0.115" stop-color="#600a12"/><stop offset="0.118" stop-color="#600a12"/><stop offset="0.122" stop-color="#802013"/><stop offset="0.133" stop-color="#e2e9ed"/><stop offset="0.308" stop-color="#c4dae9"/><stop offset="0.832" stop-color="#dbe7ee"/><stop offset="0.839" stop-color="#edd8cb"/><stop offset="0.853" stop-color="#721713"/><stop offset="0.857" stop-color="#6a1112"/><stop offset="0.864" stop-color="#a64526"/><stop offset="0.875" stop-color="#ede2db"/><stop offset="0.889" stop-color="#d4e3ed"/><stop offset="1.000" stop-color="#d4e4ed"/></linearGradient><linearGradient id="h92"><stop offset="0.000" stop-color="#e4eaed"/><stop offset="0.093" stop-color="#e8ebec"/><stop offset="0.097" stop-color="#ece4df"/><stop offset="0.104" stop-color="#c46c45"/><stop offset="0.111" stop-color="#600a12"/><stop offset="0.118" stop-color="#600a12"/><stop offset="0.125" stop-color="#6e1413"/><stop offset="0.136" stop-color="#eecfbc"/><stop offset="0.143" stop-color="#e4eaed"/><stop offset="0.810" stop-color="#bed7e7"/><stop offset="0.839" stop-color="#ccdfeb"/><stop offset="0.853" stop-color="#da946e"/><stop offset="0.857" stop-color="#d58961"/><stop offset="0.875" stop-color="#cbdeea"/><stop offset="1.000" stop-color="#ccdfeb"/></linearGradient><linearGradient id="h93"><stop offset="0.000" stop-color="#e8ebec"/><stop offset="0.090" stop-color="#e6eaed"/><stop offset="0.093" stop-color="#ece5e0"/><stop offset="0.100" stop-color="#b85832"/><stop offset="0.108" stop-color="#600a12"/><stop offset="0.115" stop-color="#600a12"/><stop offset="0.122" stop-color="#600a12"/><stop offset="0.133" stop-color="#e3aa8a"/><stop offset="0.136" stop-color="#ece7e4"/><stop offset="0.151" stop-color="#dde8ee"/><stop offset="0.154" stop-color="#ebecec"/><stop offset="0.158" stop-color="#e8b89c"/><stop offset="0.161" stop-color="#b55430"/><stop offset="0.165" stop-color="#98351c"/><stop offset="0.172" stop-color="#edd8ca"/><stop offset="0.176" stop-color="#dfe8ed"/><stop offset="0.677" stop-color="#aecce0"/><stop offset="0.828" stop-color="#c3dae9"/><stop offset="0.839" stop-color="#edd4c5"/><stop offset="0.849" stop-color="#98361c"/><stop offset="0.853" stop-color="#8b2714"/><stop offset="0.860" stop-color="#c16841"/><stop offset="0.871" stop-color="#e1e9ed"/><stop offset="0.885" stop-color="#bfd7e7"/><stop offset="1.000" stop-color="#c4dbe9"/></linearGradient><linearGradient id="h94"><stop offset="0.000" stop-color="#dde8ee"/><stop offset="0.097" stop-color="#ececec"/><stop offset="0.100" stop-color="#e5af90"/><stop offset="0.108" stop-color="#650d12"/><stop offset="0.111" stop-color="#600a12"/><stop offset="0.118" stop-color="#600a12"/><stop offset="0.122" stop-color="#600a12"/><stop offset="0.133" stop-color="#ece7e3"/><stop offset="0.143" stop-color="#dce7ee"/><stop offset="0.154" stop-color="#eaecec"/><stop offset="0.158" stop-color="#e8b89c"/><stop offset="0.161" stop-color="#b55430"/><stop offset="0.165" stop-color="#98351c"/><stop offset="0.172" stop-color="#edd7c9"/><stop offset="0.176" stop-color="#e0e9ed"/><stop offset="0.781" stop-color="#a3c4dc"/><stop offset="0.832" stop-color="#bcd5e6"/><stop offset="0.839" stop-color="#ebecec"/><stop offset="0.849" stop-color="#c56e47"/><stop offset="0.853" stop-color="#c8734c"/><stop offset="0.867" stop-color="#cadeea"/><stop offset="0.918" stop-color="#b5d1e3"/><stop offset="1.000" stop-color="#c1d9e8"/></linearGradient><linearGradient id="h95"><stop offset="0.000" stop-color="#d3e3ec"/><stop offset="0.090" stop-color="#e0e9ed"/><stop offset="0.097" stop-color="#db9772"/><stop offset="0.104" stop-color="#691012"/><stop offset="0.108" stop-color="#600a12"/><stop offset="0.118" stop-color="#600a12"/><stop offset="0.122" stop-color="#600a12"/><stop offset="0.136" stop-color="#e8ebec"/><stop offset="0.201" stop-color="#d8e6ee"/><stop offset="0.746" stop-color="#b6d1e4"/><stop offset="0.842" stop-color="#ccdfeb"/><stop offset="0.849" stop-color="#edd9cc"/><stop offset="0.857" stop-color="#bd613b"/><stop offset="0.860" stop-color="#b55530"/><stop offset="0.871" stop-color="#ebecec"/><stop offset="0.882" stop-color="#c9ddea"/><stop offset="1.000" stop-color="#cee0eb"/></linearGradient><linearGradient id="h96"><stop offset="0.000" stop-color="#e0e9ed"/><stop offset="0.097" stop-color="#e0e9ed"/><stop offset="0.100" stop-color="#e2a887"/><stop offset="0.104" stop-color="#8b2714"/><stop offset="0.108" stop-color="#600a12"/><stop offset="0.111" stop-color="#600a12"/><stop offset="0.115" stop-color="#600a12"/><stop offset="0.118" stop-color="#8b2814"/><stop offset="0.122" stop-color="#e2a988"/><stop offset="0.125" stop-color="#dee8ee"/><stop offset="0.358" stop-color="#cddfeb"/><stop offset="0.842" stop-color="#c9ddea"/><stop offset="0.849" stop-color="#edd5c6"/><stop offset="0.857" stop-color="#bb5e38"/><stop offset="0.860" stop-color="#ca774f"/><stop offset="0.867" stop-color="#e4eaed"/><stop offset="0.875" stop-color="#c3dae9"/><stop offset="1.000" stop-color="#bad4e5"/></linearGradient><linearGradient id="h97"><stop offset="0.000" stop-color="#d5e4ed"/><stop offset="0.097" stop-color="#e2e9ed"/><stop offset="0.108" stop-color="#721613"/><stop offset="0.111" stop-color="#600a12"/><stop offset="0.118" stop-color="#600a12"/><stop offset="0.122" stop-color="#6e1413"/><stop offset="0.133" stop-color="#e2e9ed"/><stop offset="0.194" stop-color="#cee0eb"/><stop offset="0.839" stop-color="#b9d3e5"/><stop offset="0.846" stop-color="#ece6e1"/><stop offset="0.853" stop-color="#a34123"/><stop offset="0.857" stop-color="#892614"/><stop offset="0.860" stop-color="#b4542f"/><stop offset="0.867" stop-color="#e4eaed"/><stop offset="0.875" stop-color="#b1cee2"/><stop offset="1.000" stop-color="#9ec1d9"/></linearGradient><linearGradient id="h98"><stop offset="0.000" stop-color="#e7ebed"/><stop offset="0.093" stop-color="#e8ebec"/><stop offset="0.097" stop-color="#ede2db"/><stop offset="0.100" stop-color="#da926b"/><stop offset="0.104" stop-color="#882614"/><stop offset="0.108" stop-color="#600a12"/><stop offset="0.115" stop-color="#650e12"/><stop offset="0.122" stop-color="#e8b89b"/><stop offset="0.125" stop-color="#ececec"/><stop offset="0.151" stop-color="#e3eaed"/><stop offset="0.154" stop-color="#ece8e5"/><stop offset="0.158" stop-color="#e5b192"/><stop offset="0.161" stop-color="#af4e2c"/><stop offset="0.165" stop-color="#922f18"/><stop offset="0.172" stop-color="#edd2c0"/><stop offset="0.176" stop-color="#e5eaed"/><stop offset="0.541" stop-color="#bad4e6"/><stop offset="0.839" stop-color="#dae7ee"/><stop offset="0.846" stop-color="#edd6c7"/><stop offset="0.853" stop-color="#c7724b"/><stop offset="0.857" stop-color="#ba5c35"/><stop offset="0.864" stop-color="#df9f7c"/><stop offset="0.871" stop-color="#e8ebec"/><stop offset="0.892" stop-color="#d1e2ec"/><stop offset="1.000" stop-color="#c7dcea"/></linearGradient><linearGradient id="h99"><stop offset="0.000" stop-color="#d0e1ec"/><stop offset="0.097" stop-color="#d6e5ed"/><stop offset="0.100" stop-color="#edd2c1"/><stop offset="0.108" stop-color="#731713"/><stop offset="0.111" stop-color="#600a12"/><stop offset="0.118" stop-color="#600a12"/><stop offset="0.129" stop-color="#dee8ee"/><stop offset="0.835" stop-color="#b9d3e5"/><stop offset="0.842" stop-color="#eddbcf"/><stop offset="0.849" stop-color="#99361d"/><stop offset="0.853" stop-color="#6d1313"/><stop offset="0.857" stop-color="#6e1313"/><stop offset="0.867" stop-color="#edddd4"/><stop offset="0.875" stop-color="#b4d0e3"/><stop offset="1.000" stop-color="#9abed8"/></linearGradient><linearGradient id="h100"><stop offset="0.000" stop-color="#e3eaed"/><stop offset="0.093" stop-color="#e5eaed"/><stop offset="0.097" stop-color="#e7b597"/><stop offset="0.104" stop-color="#600a12"/><stop offset="0.108" stop-color="#600a12"/><stop offset="0.111" stop-color="#600a12"/><stop offset="0.115" stop-color="#600a12"/><stop offset="0.118" stop-color="#ba5c36"/><stop offset="0.122" stop-color="#edd1c0"/><stop offset="0.125" stop-color="#dfe8ed"/><stop offset="0.832" stop-color="#b2cfe2"/><stop offset="0.839" stop-color="#dde8ee"/><stop offset="0.849" stop-color="#cd7c54"/><stop offset="0.853" stop-color="#cc7952"/><stop offset="0.867" stop-color="#c7dcea"/><stop offset="0.925" stop-color="#a7c7dd"/><stop offset="1.000" stop-color="#a7c7de"/></linearGradient><linearGradient id="h101"><stop offset="0.000" stop-color="#cddfeb"/><stop offset="0.093" stop-color="#c3dae9"/><stop offset="0.097" stop-color="#d7e5ed"/><stop offset="0.104" stop-color="#9b381e"/><stop offset="0.108" stop-color="#660e12"/><stop offset="0.115" stop-color="#600a12"/><stop offset="0.118" stop-color="#6e1413"/><stop offset="0.129" stop-color="#cadeea"/><stop offset="0.208" stop-color="#a3c4dc"/><stop offset="0.792" stop-color="#a4c5dc"/><stop offset="0.842" stop-color="#b0cde1"/><stop offset="0.849" stop-color="#ece4de"/><stop offset="0.857" stop-color="#c06640"/><stop offset="0.860" stop-color="#b2512e"/><stop offset="0.864" stop-color="#c7724b"/><stop offset="0.871" stop-color="#e9ebec"/><stop offset="0.878" stop-color="#a4c5dc"/><stop offset="1.000" stop-color="#8db6d2"/></linearGradient><linearGradient id="h102"><stop offset="0.000" stop-color="#e0e9ed"/><stop offset="0.097" stop-color="#e0e9ed"/><stop offset="0.100" stop-color="#ebbfa4"/><stop offset="0.108" stop-color="#600a12"/><stop offset="0.111" stop-color="#600a12"/><stop offset="0.115" stop-color="#600a12"/><stop offset="0.118" stop-color="#600a12"/><stop offset="0.122" stop-color="#741813"/><stop offset="0.125" stop-color="#d68a62"/><stop offset="0.129" stop-color="#e8ebec"/><stop offset="0.140" stop-color="#d2e3ec"/><stop offset="0.581" stop-color="#b4d0e3"/><stop offset="0.842" stop-color="#d1e2ec"/><stop offset="0.849" stop-color="#edd5c5"/><stop offset="0.857" stop-color="#a74526"/><stop offset="0.860" stop-color="#9e3c20"/><stop offset="0.871" stop-color="#e6eaed"/><stop offset="0.885" stop-color="#ccdfeb"/><stop offset="1.000" stop-color="#c6dbe9"/></linearGradient><linearGradient id="h103"><stop offset="0.000" stop-color="#dae7ee"/><stop offset="0.097" stop-color="#d0e1ec"/><stop offset="0.100" stop-color="#dee8ee"/><stop offset="0.108" stop-color="#912d17"/><stop offset="0.111" stop-color="#600a12"/><stop offset="0.118" stop-color="#600a12"/><stop offset="0.122" stop-color="#7c1d13"/><stop offset="0.129" stop-color="#e5eaed"/><stop offset="0.136" stop-color="#c8dcea"/><stop offset="0.609" stop-color="#b3d0e3"/><stop offset="0.832" stop-color="#d6e4ed"/><stop offset="0.839" stop-color="#edd3c3"/><stop offset="0.849" stop-color="#912d17"/><stop offset="0.853" stop-color="#781a13"/><stop offset="0.857" stop-color="#771a13"/><stop offset="0.864" stop-color="#bb5e37"/><stop offset="0.875" stop-color="#e9ebec"/><stop offset="0.889" stop-color="#c7dcea"/><stop offset="1.000" stop-color="#c3dae9"/></linearGradient><linearGradient id="h104"><stop offset="0.000" stop-color="#dde8ee"/><stop offset="0.097" stop-color="#dbe7ee"/><stop offset="0.100" stop-color="#eecab3"/><stop offset="0.108" stop-color="#721613"/><stop offset="0.111" stop-color="#600a12"/><stop offset="0.115" stop-color="#600a12"/><stop offset="0.118" stop-color="#7c1d13"/><stop offset="0.125" stop-color="#edd6c7"/><stop offset="0.129" stop-color="#d6e5ed"/><stop offset="0.803" stop-color="#c3d9e9"/><stop offset="0.835" stop-color="#d2e3ec"/><stop offset="0.842" stop-color="#eed0bd"/><stop offset="0.849" stop-color="#be613b"/><stop offset="0.853" stop-color="#a94828"/><stop offset="0.857" stop-color="#b2522e"/><stop offset="0.871" stop-color="#dbe7ee"/><stop offset="0.900" stop-color="#c6dce9"/><stop offset="1.000" stop-color="#cbdeea"/></linearGradient><linearGradient id="h105"><stop offset="0.000" stop-color="#e7ebed"/><stop offset="0.090" stop-color="#e8ebec"/><stop offset="0.093" stop-color="#eecdb9"/><stop offset="0.097" stop-color="#c8734c"/><stop offset="0.100" stop-color="#711513"/><stop offset="0.104" stop-color="#600a12"/><stop offset="0.111" stop-color="#600a12"/><stop offset="0.115" stop-color="#600a12"/><stop offset="0.118" stop-color="#6b1213"/><stop offset="0.125" stop-color="#eecab3"/><stop offset="0.129" stop-color="#e6eaed"/><stop offset="0.763" stop-color="#accadf"/><stop offset="0.832" stop-color="#c3dae9"/><stop offset="0.839" stop-color="#ece3de"/><stop offset="0.849" stop-color="#9b391e"/><stop offset="0.853" stop-color="#862414"/><stop offset="0.857" stop-color="#8f2c16"/><stop offset="0.871" stop-color="#e0e9ed"/><stop offset="0.882" stop-color="#b0cee1"/><stop offset="1.000" stop-color="#afcde1"/></linearGradient><linearGradient id="h106"><stop offset="0.000" stop-color="#e3e9ed"/><stop offset="0.097" stop-color="#e1e9ed"/><stop offset="0.100" stop-color="#e8b79a"/><stop offset="0.108" stop-color="#680f12"/><stop offset="0.115" stop-color="#600a12"/><stop offset="0.118" stop-color="#781b13"/><stop offset="0.125" stop-color="#edd1bf"/><stop offset="0.129" stop-color="#d7e5ed"/><stop offset="0.462" stop-color="#bbd5e6"/><stop offset="0.835" stop-color="#cddfeb"/><stop offset="0.846" stop-color="#e9bca1"/><stop offset="0.857" stop-color="#922e18"/><stop offset="0.860" stop-color="#912d17"/><stop offset="0.878" stop-color="#dae7ee"/><stop offset="0.900" stop-color="#b7d2e4"/><stop offset="1.000" stop-color="#a5c6dc"/></linearGradient><linearGradient id="h107"><stop offset="0.000" stop-color="#e0e9ed"/><stop offset="0.093" stop-color="#e7ebed"/><stop offset="0.097" stop-color="#eecab3"/><stop offset="0.104" stop-color="#6f1513"/><stop offset="0.108" stop-color="#600a12"/><stop offset="0.115" stop-color="#600a12"/><stop offset="0.118" stop-color="#600a12"/><stop offset="0.122" stop-color="#751813"/><stop offset="0.125" stop-color="#c9754e"/><stop offset="0.129" stop-color="#eeceba"/><stop offset="0.133" stop-color="#e4eaed"/><stop offset="0.609" stop-color="#94bad5"/><stop offset="0.846" stop-color="#c7dcea"/><stop offset="0.849" stop-color="#e2e9ed"/><stop offset="0.857" stop-color="#b55430"/><stop offset="0.860" stop-color="#933019"/><stop offset="0.864" stop-color="#bf643d"/><stop offset="0.867" stop-color="#eec7af"/><stop offset="0.871" stop-color="#dce8ee"/><stop offset="0.882" stop-color="#c2d9e8"/><stop offset="1.000" stop-color="#c3d9e9"/></linearGradient><linearGradient id="h108"><stop offset="0.000" stop-color="#d0e1ec"/><stop offset="0.093" stop-color="#d0e1ec"/><stop offset="0.097" stop-color="#e8b89b"/><stop offset="0.104" stop-color="#600a12"/><stop offset="0.108" stop-color="#600a12"/><stop offset="0.111" stop-color="#600a12"/><stop offset="0.115" stop-color="#600a12"/><stop offset="0.122" stop-color="#edd4c5"/><stop offset="0.125" stop-color="#c8ddea"/><stop offset="0.839" stop-color="#c2d9e9"/><stop offset="0.849" stop-color="#edd6c8"/><stop offset="0.857" stop-color="#d08159"/><stop offset="0.860" stop-color="#cb7851"/><stop offset="0.875" stop-color="#d4e3ed"/><stop offset="0.896" stop-color="#afcde1"/><stop offset="1.000" stop-color="#a0c2da"/></linearGradient><linearGradient id="h109"><stop offset="0.000" stop-color="#dde8ee"/><stop offset="0.097" stop-color="#d8e6ee"/><stop offset="0.100" stop-color="#edd3c2"/><stop offset="0.108" stop-color="#600a12"/><stop offset="0.111" stop-color="#600a12"/><stop offset="0.115" stop-color="#600a12"/><stop offset="0.118" stop-color="#600a12"/><stop offset="0.125" stop-color="#edd3c3"/><stop offset="0.129" stop-color="#d4e3ed"/><stop offset="0.695" stop-color="#97bcd7"/><stop offset="0.835" stop-color="#b5d0e3"/><stop offset="0.846" stop-color="#eecbb6"/><stop offset="0.853" stop-color="#cb7750"/><stop offset="0.857" stop-color="#cc7952"/><stop offset="0.871" stop-color="#cadeea"/><stop offset="0.896" stop-color="#a6c6dd"/><stop offset="1.000" stop-color="#afcde1"/></linearGradient><linearGradient id="h110"><stop offset="0.000" stop-color="#d5e4ed"/><stop offset="0.093" stop-color="#e0e9ed"/><stop offset="0.097" stop-color="#edc6ae"/><stop offset="0.104" stop-color="#6e1413"/><stop offset="0.108" stop-color="#600a12"/><stop offset="0.115" stop-color="#600a12"/><stop offset="0.118" stop-color="#600a12"/><stop offset="0.129" stop-color="#ebecec"/><stop offset="0.143" stop-color="#d7e5ed"/><stop offset="0.846" stop-color="#b5d1e3"/><stop offset="0.853" stop-color="#edd6c7"/><stop offset="0.860" stop-color="#c7714a"/><stop offset="0.864" stop-color="#d1835b"/><stop offset="0.875" stop-color="#c3dae9"/><stop offset="0.903" stop-color="#9abfd8"/><stop offset="1.000" stop-color="#a5c6dd"/></linearGradient><linearGradient id="h111"><stop offset="0.000" stop-color="#e2e9ed"/><stop offset="0.090" stop-color="#ececec"/><stop offset="0.093" stop-color="#ecc3a9"/><stop offset="0.100" stop-color="#6f1413"/><stop offset="0.104" stop-color="#600a12"/><stop offset="0.111" stop-color="#600a12"/><stop offset="0.115" stop-color="#600a12"/><stop offset="0.118" stop-color="#791b13"/><stop offset="0.125" stop-color="#eecbb5"/><stop offset="0.129" stop-color="#e9ebec"/><stop offset="0.742" stop-color="#a4c5dc"/><stop offset="0.839" stop-color="#bed7e7"/><stop offset="0.842" stop-color="#d9e6ee"/><stop offset="0.853" stop-color="#8f2b16"/><stop offset="0.857" stop-color="#a64426"/><stop offset="0.864" stop-color="#ececeb"/><stop offset="0.871" stop-color="#b8d2e4"/><stop offset="1.000" stop-color="#c3dae9"/></linearGradient><linearGradient id="h112"><stop offset="0.000" stop-color="#e3eaed"/><stop offset="0.097" stop-color="#e5eaed"/><stop offset="0.100" stop-color="#ebc0a6"/><stop offset="0.108" stop-color="#6c1213"/><stop offset="0.111" stop-color="#600a12"/><stop offset="0.118" stop-color="#600a12"/><stop offset="0.122" stop-color="#600a12"/><stop offset="0.129" stop-color="#e3ab8a"/><stop offset="0.133" stop-color="#e6eaed"/><stop offset="0.179" stop-color="#cfe1eb"/><stop offset="0.738" stop-color="#b2cee2"/><stop offset="0.839" stop-color="#cadeea"/><stop offset="0.853" stop-color="#de9e7a"/><stop offset="0.860" stop-color="#e4ae8e"/><stop offset="0.871" stop-color="#d2e2ec"/><stop offset="0.946" stop-color="#c5dbe9"/><stop offset="1.000" stop-color="#c7dcea"/></linearGradient><linearGradient id="h113"><stop offset="0.000" stop-color="#e3e9ed"/><stop offset="0.090" stop-color="#e0e9ed"/><stop offset="0.093" stop-color="#ece9e7"/><stop offset="0.100" stop-color="#a44225"/><stop offset="0.104" stop-color="#620b12"/><stop offset="0.108" stop-color="#600a12"/><stop offset="0.115" stop-color="#600a12"/><stop offset="0.118" stop-color="#681012"/><stop offset="0.125" stop-color="#e5b092"/><stop offset="0.129" stop-color="#e8ebec"/><stop offset="0.194" stop-color="#d0e1ec"/><stop offset="0.756" stop-color="#afcde1"/><stop offset="0.839" stop-color="#c2d9e8"/><stop offset="0.846" stop-color="#ece6e2"/><stop offset="0.853" stop-color="#e1a583"/><stop offset="0.864" stop-color="#cfe1ec"/><stop offset="0.968" stop-color="#c6dbe9"/><stop offset="1.000" stop-color="#c8dcea"/></linearGradient><linearGradient id="h114"><stop offset="0.000" stop-color="#dbe7ee"/><stop offset="0.093" stop-color="#dfe8ed"/><stop offset="0.104" stop-color="#862414"/><stop offset="0.108" stop-color="#6a1112"/><stop offset="0.115" stop-color="#691012"/><stop offset="0.118" stop-color="#802013"/><stop offset="0.129" stop-color="#dde8ee"/><stop offset="0.161" stop-color="#c3d9e9"/><stop offset="0.538" stop-color="#a2c4db"/><stop offset="0.828" stop-color="#c3dae9"/><stop offset="0.835" stop-color="#e3eaed"/><stop offset="0.849" stop-color="#9f3d21"/><stop offset="0.853" stop-color="#a03e22"/><stop offset="0.867" stop-color="#e0e9ed"/><stop offset="0.882" stop-color="#aecce0"/><stop offset="1.000" stop-color="#93bad5"/></linearGradient><linearGradient id="h115"><stop offset="0.000" stop-color="#dee8ee"/><stop offset="0.097" stop-color="#d3e3ec"/><stop offset="0.100" stop-color="#e4eaed"/><stop offset="0.108" stop-color="#8b2814"/><stop offset="0.111" stop-color="#640d12"/><stop offset="0.118" stop-color="#711613"/><stop offset="0.125" stop-color="#edc6ad"/><stop offset="0.129" stop-color="#d2e2ec"/><stop offset="0.419" stop-color="#97bdd7"/><stop offset="0.842" stop-color="#c1d9e8"/><stop offset="0.853" stop-color="#edc6ad"/><stop offset="0.860" stop-color="#cd7b53"/><stop offset="0.867" stop-color="#e3aa8a"/><stop offset="0.878" stop-color="#c6dbe9"/><stop offset="0.953" stop-color="#96bbd6"/><stop offset="1.000" stop-color="#8db6d2"/></linearGradient><linearGradient id="h116"><stop offset="0.000" stop-color="#e1e9ed"/><stop offset="0.090" stop-color="#dce7ee"/><stop offset="0.097" stop-color="#d68b63"/><stop offset="0.104" stop-color="#630c12"/><stop offset="0.111" stop-color="#600a12"/><stop offset="0.115" stop-color="#600a12"/><stop offset="0.118" stop-color="#8c2814"/><stop offset="0.125" stop-color="#eed1be"/><stop offset="0.129" stop-color="#d6e4ed"/><stop offset="0.394" stop-color="#9bbfd8"/><stop offset="0.828" stop-color="#b7d2e4"/><stop offset="0.842" stop-color="#eecfbb"/><stop offset="0.849" stop-color="#e0a280"/><stop offset="0.860" stop-color="#eddace"/><stop offset="0.871" stop-color="#bad4e5"/><stop offset="1.000" stop-color="#84b0cf"/></linearGradient><linearGradient id="h117"><stop offset="0.000" stop-color="#d9e6ee"/><stop offset="0.097" stop-color="#e5eaed"/><stop offset="0.100" stop-color="#e7b597"/><stop offset="0.108" stop-color="#670f12"/><stop offset="0.111" stop-color="#600a12"/><stop offset="0.118" stop-color="#600a12"/><stop offset="0.122" stop-color="#812114"/><stop offset="0.129" stop-color="#edd3c3"/><stop offset="0.133" stop-color="#d9e6ee"/><stop offset="0.620" stop-color="#3371a5"/><stop offset="0.835" stop-color="#3f7aac"/><stop offset="0.842" stop-color="#c4dae9"/><stop offset="0.849" stop-color="#de9d79"/><stop offset="0.853" stop-color="#dfa17e"/><stop offset="0.864" stop-color="#5e93bc"/><stop offset="0.882" stop-color="#3573a6"/><stop offset="1.000" stop-color="#427dae"/></linearGradient><linearGradient id="h118"><stop offset="0.000" stop-color="#e2e9ed"/><stop offset="0.093" stop-color="#e3e9ed"/><stop offset="0.097" stop-color="#ede0d8"/><stop offset="0.108" stop-color="#600a12"/><stop offset="0.115" stop-color="#600a12"/><stop offset="0.118" stop-color="#630c12"/><stop offset="0.129" stop-color="#ecebea"/><stop offset="0.151" stop-color="#d7e5ed"/><stop offset="0.548" stop-color="#a9c9de"/><stop offset="0.842" stop-color="#d7e5ed"/><stop offset="0.846" stop-color="#ece5e1"/><stop offset="0.857" stop-color="#832214"/><stop offset="0.860" stop-color="#832214"/><stop offset="0.871" stop-color="#ece6e2"/><stop offset="0.878" stop-color="#c9ddea"/><stop offset="1.000" stop-color="#b0cde1"/></linearGradient><linearGradient id="h119"><stop offset="0.000" stop-color="#e3e9ed"/><stop offset="0.093" stop-color="#e3eaed"/><stop offset="0.100" stop-color="#cd7b54"/><stop offset="0.108" stop-color="#600a12"/><stop offset="0.115" stop-color="#600a12"/><stop offset="0.118" stop-color="#600a12"/><stop offset="0.122" stop-color="#832214"/><stop offset="0.129" stop-color="#eecbb5"/><stop offset="0.133" stop-color="#dce7ee"/><stop offset="0.355" stop-color="#4e87b4"/><stop offset="0.620" stop-color="#2d629c"/><stop offset="0.832" stop-color="#3170a4"/><stop offset="0.842" stop-color="#bbd5e6"/><stop offset="0.853" stop-color="#da946e"/><stop offset="0.857" stop-color="#db956e"/><stop offset="0.871" stop-color="#699cc2"/><stop offset="0.885" stop-color="#2d6ca2"/><stop offset="1.000" stop-color="#3572a6"/></linearGradient><linearGradient id="h120"><stop offset="0.000" stop-color="#ececeb"/><stop offset="0.097" stop-color="#ede3dd"/><stop offset="0.100" stop-color="#e2a988"/><stop offset="0.108" stop-color="#691012"/><stop offset="0.115" stop-color="#610b12"/><stop offset="0.118" stop-color="#862414"/><stop offset="0.125" stop-color="#edd9cc"/><stop offset="0.133" stop-color="#e7ebed"/><stop offset="0.781" stop-color="#bbd4e6"/><stop offset="0.842" stop-color="#c9ddea"/><stop offset="0.849" stop-color="#eed0bd"/><stop offset="0.857" stop-color="#a03e21"/><stop offset="0.860" stop-color="#8d2915"/><stop offset="0.864" stop-color="#af4e2c"/><stop offset="0.871" stop-color="#eddfd6"/><stop offset="0.878" stop-color="#c7dcea"/><stop offset="1.000" stop-color="#c7dcea"/></linearGradient><linearGradient id="h121"><stop offset="0.000" stop-color="#d1e2ec"/><stop offset="0.090" stop-color="#d1e2ec"/><stop offset="0.097" stop-color="#cc7952"/><stop offset="0.100" stop-color="#7c1d13"/><stop offset="0.104" stop-color="#600a12"/><stop offset="0.111" stop-color="#600a12"/><stop offset="0.115" stop-color="#600a12"/><stop offset="0.118" stop-color="#711613"/><stop offset="0.125" stop-color="#eec8b0"/><stop offset="0.129" stop-color="#d0e1ec"/><stop offset="0.437" stop-color="#b5d1e3"/><stop offset="0.839" stop-color="#c9ddea"/><stop offset="0.846" stop-color="#ede2db"/><stop offset="0.857" stop-color="#ae4d2b"/><stop offset="0.860" stop-color="#a84627"/><stop offset="0.867" stop-color="#dd9c78"/><stop offset="0.875" stop-color="#e1e9ed"/><stop offset="0.889" stop-color="#b7d2e4"/><stop offset="1.000" stop-color="#a6c6dd"/></linearGradient><linearGradient id="h122"><stop offset="0.000" stop-color="#dde8ee"/><stop offset="0.090" stop-color="#dee8ee"/><stop offset="0.093" stop-color="#ece5e0"/><stop offset="0.100" stop-color="#99371d"/><stop offset="0.104" stop-color="#6b1112"/><stop offset="0.111" stop-color="#600a12"/><stop offset="0.115" stop-color="#701513"/><stop offset="0.125" stop-color="#ecebea"/><stop offset="0.140" stop-color="#d7e5ed"/><stop offset="0.839" stop-color="#d6e5ed"/><stop offset="0.846" stop-color="#eddace"/><stop offset="0.857" stop-color="#862414"/><stop offset="0.860" stop-color="#902d17"/><stop offset="0.871" stop-color="#eceae9"/><stop offset="0.882" stop-color="#cfe1eb"/><stop offset="1.000" stop-color="#c6dce9"/></linearGradient><linearGradient id="h123"><stop offset="0.000" stop-color="#e8ebec"/><stop offset="0.097" stop-color="#e6eaed"/><stop offset="0.100" stop-color="#eec9b2"/><stop offset="0.108" stop-color="#7c1d13"/><stop offset="0.111" stop-color="#600a12"/><stop offset="0.118" stop-color="#681012"/><stop offset="0.122" stop-color="#9d3a1f"/><stop offset="0.129" stop-color="#ecebeb"/><stop offset="0.154" stop-color="#d9e6ee"/><stop offset="0.667" stop-color="#dce8ee"/><stop offset="0.839" stop-color="#e1e9ed"/><stop offset="0.842" stop-color="#ece9e7"/><stop offset="0.846" stop-color="#eabda2"/><stop offset="0.853" stop-color="#872514"/><stop offset="0.857" stop-color="#8f2b16"/><stop offset="0.864" stop-color="#eeccb7"/><stop offset="0.871" stop-color="#dee8ee"/><stop offset="1.000" stop-color="#d3e3ec"/></linearGradient><linearGradient id="h124"><stop offset="0.000" stop-color="#d7e5ed"/><stop offset="0.097" stop-color="#dbe7ee"/><stop offset="0.100" stop-color="#eecfbb"/><stop offset="0.108" stop-color="#812013"/><stop offset="0.111" stop-color="#640d12"/><stop offset="0.118" stop-color="#701513"/><stop offset="0.129" stop-color="#e0e9ed"/><stop offset="0.480" stop-color="#cde0eb"/><stop offset="0.839" stop-color="#e4eaed"/><stop offset="0.853" stop-color="#c36a44"/><stop offset="0.857" stop-color="#be613b"/><stop offset="0.871" stop-color="#ecebeb"/><stop offset="0.896" stop-color="#d8e6ee"/><stop offset="1.000" stop-color="#d9e6ee"/></linearGradient><linearGradient id="h125"><stop offset="0.000" stop-color="#e5eaed"/><stop offset="0.093" stop-color="#e0e9ed"/><stop offset="0.097" stop-color="#ece6e1"/><stop offset="0.104" stop-color="#933019"/><stop offset="0.108" stop-color="#640d12"/><stop offset="0.115" stop-color="#600a12"/><stop offset="0.118" stop-color="#791b13"/><stop offset="0.125" stop-color="#edc4ab"/><stop offset="0.129" stop-color="#dfe9ed"/><stop offset="0.459" stop-color="#abcadf"/><stop offset="0.842" stop-color="#d4e4ed"/><stop offset="0.853" stop-color="#e5b091"/><stop offset="0.857" stop-color="#e0a482"/><stop offset="0.871" stop-color="#d0e1ec"/><stop offset="1.000" stop-color="#c2d9e8"/></linearGradient><linearGradient id="h126"><stop offset="0.000" stop-color="#e2e9ed"/><stop offset="0.090" stop-color="#e7ebed"/><stop offset="0.093" stop-color="#edddd3"/><stop offset="0.104" stop-color="#741813"/><stop offset="0.111" stop-color="#650d12"/><stop offset="0.115" stop-color="#711613"/><stop offset="0.125" stop-color="#edd2c1"/><stop offset="0.129" stop-color="#e7eaed"/><stop offset="0.835" stop-color="#bfd7e7"/><stop offset="0.846" stop-color="#eddfd6"/><stop offset="0.853" stop-color="#e0a482"/><stop offset="0.860" stop-color="#edc6ad"/><stop offset="0.871" stop-color="#c7dcea"/><stop offset="1.000" stop-color="#c0d8e8"/></linearGradient><linearGradient id="h127"><stop offset="0.000" stop-color="#e7ebed"/><stop offset="0.093" stop-color="#e8ebec"/><stop offset="0.104" stop-color="#7f1f13"/><stop offset="0.111" stop-color="#6b1213"/><stop offset="0.115" stop-color="#7a1c13"/><stop offset="0.125" stop-color="#e8ebec"/><stop offset="0.168" stop-color="#d0e1ec"/><stop offset="0.832" stop-color="#d3e3ec"/><stop offset="0.842" stop-color="#edc4ab"/><stop offset="0.853" stop-color="#bd603a"/><stop offset="0.860" stop-color="#d68a62"/><stop offset="0.871" stop-color="#e2e9ed"/><stop offset="0.889" stop-color="#c3dae9"/><stop offset="1.000" stop-color="#bdd6e7"/></linearGradient><linearGradient id="h128"><stop offset="0.000" stop-color="#d1e2ec"/><stop offset="0.097" stop-color="#cbdeeb"/><stop offset="0.100" stop-color="#e2e9ed"/><stop offset="0.108" stop-color="#a94828"/><stop offset="0.111" stop-color="#812013"/><stop offset="0.118" stop-color="#7a1c13"/><stop offset="0.122" stop-color="#8e2a15"/><stop offset="0.133" stop-color="#d1e2ec"/><stop offset="0.297" stop-color="#c9ddea"/><stop offset="0.835" stop-color="#bed6e7"/><stop offset="0.842" stop-color="#ece3dd"/><stop offset="0.849" stop-color="#c0663f"/><stop offset="0.853" stop-color="#ae4d2b"/><stop offset="0.857" stop-color="#c26942"/><stop offset="0.864" stop-color="#ece6e1"/><stop offset="0.871" stop-color="#bfd7e7"/><stop offset="1.000" stop-color="#c4dae9"/></linearGradient><linearGradient id="h129"><stop offset="0.000" stop-color="#c7dcea"/><stop offset="0.100" stop-color="#cee0eb"/><stop offset="0.108" stop-color="#c06640"/><stop offset="0.111" stop-color="#9f3c21"/><stop offset="0.118" stop-color="#a34124"/><stop offset="0.125" stop-color="#eec8b0"/><stop offset="0.129" stop-color="#c5dbe9"/><stop offset="0.566" stop-color="#94bad5"/><stop offset="0.842" stop-color="#c2d9e8"/><stop offset="0.857" stop-color="#eec7af"/><stop offset="0.867" stop-color="#e1e9ed"/><stop offset="0.882" stop-color="#afcde1"/><stop offset="1.000" stop-color="#b4d0e3"/></linearGradient><linearGradient id="h130"><stop offset="0.000" stop-color="#d5e4ed"/><stop offset="0.097" stop-color="#d3e3ec"/><stop offset="0.108" stop-color="#c26842"/><stop offset="0.115" stop-color="#b04f2c"/><stop offset="0.122" stop-color="#c7714a"/><stop offset="0.129" stop-color="#e2e9ed"/><stop offset="0.140" stop-color="#c4dae9"/><stop offset="0.763" stop-color="#8bb4d1"/><stop offset="0.842" stop-color="#b0cde1"/><stop offset="0.860" stop-color="#e9bca0"/><stop offset="0.878" stop-color="#aac9df"/><stop offset="1.000" stop-color="#9fc2da"/></linearGradient><linearGradient id="h131"><stop offset="0.000" stop-color="#ccdfeb"/><stop offset="0.097" stop-color="#d2e2ec"/><stop offset="0.100" stop-color="#e9ebec"/><stop offset="0.104" stop-color="#e0a381"/><stop offset="0.111" stop-color="#ba5c36"/><stop offset="0.118" stop-color="#c16740"/><stop offset="0.129" stop-color="#d6e5ed"/><stop offset="0.842" stop-color="#a4c5dc"/><stop offset="0.853" stop-color="#ece8e5"/><stop offset="0.871" stop-color="#91b8d4"/><stop offset="1.000" stop-color="#9ec1da"/></linearGradient><linearGradient id="h132"><stop offset="0.000" stop-color="#c3dae9"/><stop offset="0.093" stop-color="#bfd7e7"/><stop offset="0.097" stop-color="#d7e5ed"/><stop offset="0.100" stop-color="#e1a584"/><stop offset="0.104" stop-color="#c36b44"/><stop offset="0.111" stop-color="#b1512d"/><stop offset="0.115" stop-color="#ba5b35"/><stop offset="0.122" stop-color="#eec9b1"/><stop offset="0.125" stop-color="#c4dbe9"/><stop offset="0.283" stop-color="#a1c3db"/><stop offset="0.839" stop-color="#a2c4db"/><stop offset="0.857" stop-color="#dae7ee"/><stop offset="0.885" stop-color="#7baacb"/><stop offset="1.000" stop-color="#75a6c8"/></linearGradient><linearGradient id="h133"><stop offset="0.000" stop-color="#d0e1ec"/><stop offset="0.097" stop-color="#c4dae9"/><stop offset="0.100" stop-color="#d9e6ee"/><stop offset="0.104" stop-color="#e3ac8d"/><stop offset="0.108" stop-color="#cd7c55"/><stop offset="0.115" stop-color="#c7714a"/><stop offset="0.122" stop-color="#edc4ac"/><stop offset="0.125" stop-color="#c8ddea"/><stop offset="0.251" stop-color="#83afce"/><stop offset="0.835" stop-color="#a3c5dc"/><stop offset="0.853" stop-color="#eaecec"/><stop offset="0.882" stop-color="#80adcd"/><stop offset="1.000" stop-color="#6a9dc3"/></linearGradient><linearGradient id="h134"><stop offset="0.000" stop-color="#bfd7e7"/><stop offset="0.097" stop-color="#c6dbe9"/><stop offset="0.108" stop-color="#c7714a"/><stop offset="0.115" stop-color="#c36b44"/><stop offset="0.122" stop-color="#eec9b2"/><stop offset="0.125" stop-color="#cbdeeb"/><stop offset="0.778" stop-color="#7faccd"/><stop offset="0.839" stop-color="#a2c4db"/><stop offset="0.853" stop-color="#e2e9ed"/><stop offset="0.871" stop-color="#97bcd7"/><stop offset="1.000" stop-color="#aac9df"/></linearGradient><linearGradient id="h135"><stop offset="0.000" stop-color="#dde8ee"/><stop offset="0.097" stop-color="#e3eaed"/><stop offset="0.104" stop-color="#d3865e"/><stop offset="0.111" stop-color="#c36a44"/><stop offset="0.115" stop-color="#ce7c55"/><stop offset="0.122" stop-color="#e7ebed"/><stop offset="0.186" stop-color="#cbdfeb"/><stop offset="0.634" stop-color="#86b1cf"/><stop offset="0.839" stop-color="#b5d0e3"/><stop offset="0.846" stop-color="#e4eaed"/><stop offset="0.853" stop-color="#e5b092"/><stop offset="0.857" stop-color="#e8b89c"/><stop offset="0.867" stop-color="#c3dae9"/><stop offset="1.000" stop-color="#b2cfe2"/></linearGradient><linearGradient id="h136"><stop offset="0.000" stop-color="#c2d9e8"/><stop offset="0.097" stop-color="#c3dae9"/><stop offset="0.104" stop-color="#e3aa8a"/><stop offset="0.111" stop-color="#cb7851"/><stop offset="0.118" stop-color="#d68a62"/><stop offset="0.122" stop-color="#e8b89b"/><stop offset="0.125" stop-color="#d2e3ec"/><stop offset="0.136" stop-color="#a0c3db"/><stop offset="0.538" stop-color="#2d5e99"/><stop offset="0.842" stop-color="#2d689f"/><stop offset="0.860" stop-color="#c5dbe9"/><stop offset="0.885" stop-color="#2d609a"/><stop offset="1.000" stop-color="#2d5995"/></linearGradient><linearGradient id="h137"><stop offset="0.000" stop-color="#dde8ee"/><stop offset="0.097" stop-color="#e0e9ed"/><stop offset="0.108" stop-color="#cb7851"/><stop offset="0.118" stop-color="#c46c45"/><stop offset="0.125" stop-color="#e8b89b"/><stop offset="0.129" stop-color="#e8ebec"/><stop offset="0.147" stop-color="#d0e1ec"/><stop offset="0.817" stop-color="#7caacb"/><stop offset="0.839" stop-color="#93bad5"/><stop offset="0.853" stop-color="#edd7c9"/><stop offset="0.860" stop-color="#e5eaed"/><stop offset="0.871" stop-color="#8ab4d1"/><stop offset="1.000" stop-color="#87b2d0"/></linearGradient><linearGradient id="h138"><stop offset="0.000" stop-color="#dae7ee"/><stop offset="0.097" stop-color="#d9e7ee"/><stop offset="0.100" stop-color="#ececec"/><stop offset="0.108" stop-color="#d78c64"/><stop offset="0.118" stop-color="#d3855e"/><stop offset="0.129" stop-color="#dae7ee"/><stop offset="0.624" stop-color="#87b1d0"/><stop offset="0.839" stop-color="#93b9d5"/><stop offset="0.849" stop-color="#eddbcf"/><stop offset="0.853" stop-color="#edd7c9"/><stop offset="0.864" stop-color="#9abed8"/><stop offset="1.000" stop-color="#7eaccc"/></linearGradient><linearGradient id="h139"><stop offset="0.000" stop-color="#d1e2ec"/><stop offset="0.097" stop-color="#d9e7ee"/><stop offset="0.100" stop-color="#ebecec"/><stop offset="0.108" stop-color="#dc9873"/><stop offset="0.118" stop-color="#d68b63"/><stop offset="0.125" stop-color="#ebc1a7"/><stop offset="0.129" stop-color="#e5eaed"/><stop offset="0.151" stop-color="#cde0eb"/><stop offset="0.756" stop-color="#8eb6d3"/><stop offset="0.839" stop-color="#accbe0"/><stop offset="0.853" stop-color="#eed1bf"/><stop offset="0.860" stop-color="#ece8e6"/><stop offset="0.871" stop-color="#aecce0"/><stop offset="1.000" stop-color="#b7d2e4"/></linearGradient><linearGradient id="h140"><stop offset="0.000" stop-color="#dce7ee"/><stop offset="0.097" stop-color="#e6eaed"/><stop offset="0.108" stop-color="#d1835b"/><stop offset="0.118" stop-color="#d0815a"/><stop offset="0.129" stop-color="#e6eaed"/><stop offset="0.168" stop-color="#cfe1ec"/><stop offset="0.839" stop-color="#b2cee2"/><stop offset="0.857" stop-color="#e1e9ed"/><stop offset="0.882" stop-color="#94bbd5"/><stop offset="1.000" stop-color="#8bb4d1"/></linearGradient><linearGradient id="h141"><stop offset="0.000" stop-color="#d9e6ee"/><stop offset="0.100" stop-color="#d2e2ec"/><stop offset="0.104" stop-color="#e6eaed"/><stop offset="0.108" stop-color="#e8b89b"/><stop offset="0.115" stop-color="#db9771"/><stop offset="0.122" stop-color="#e2a988"/><stop offset="0.125" stop-color="#eeccb7"/><stop offset="0.129" stop-color="#d5e4ed"/><stop offset="0.251" stop-color="#abc9df"/><stop offset="0.842" stop-color="#c6dbe9"/><stop offset="0.849" stop-color="#eceae9"/><stop offset="0.857" stop-color="#e7b699"/><stop offset="0.867" stop-color="#cde0eb"/><stop offset="1.000" stop-color="#a7c7de"/></linearGradient><linearGradient id="h142"><stop offset="0.000" stop-color="#ececeb"/><stop offset="0.100" stop-color="#eaebec"/><stop offset="0.111" stop-color="#da936d"/><stop offset="0.118" stop-color="#db9670"/><stop offset="0.129" stop-color="#e6eaed"/><stop offset="0.677" stop-color="#cde0eb"/><stop offset="0.846" stop-color="#e4eaed"/><stop offset="0.860" stop-color="#eecdb9"/><stop offset="0.882" stop-color="#dbe7ee"/><stop offset="1.000" stop-color="#dfe8ed"/></linearGradient><linearGradient id="h143"><stop offset="0.000" stop-color="#d3e3ec"/><stop offset="0.093" stop-color="#e1e9ed"/><stop offset="0.104" stop-color="#de9e7b"/><stop offset="0.115" stop-color="#e0a381"/><stop offset="0.125" stop-color="#dfe8ed"/><stop offset="0.835" stop-color="#cadeea"/><stop offset="0.860" stop-color="#edd2c1"/><stop offset="0.882" stop-color="#ccdfeb"/><stop offset="1.000" stop-color="#d5e4ed"/></linearGradient><linearGradient id="h144"><stop offset="0.000" stop-color="#ebecec"/><stop offset="0.093" stop-color="#eaecec"/><stop offset="0.108" stop-color="#dc9872"/><stop offset="0.118" stop-color="#e2a988"/><stop offset="0.129" stop-color="#e7ebed"/><stop offset="0.642" stop-color="#b8d3e5"/><stop offset="0.839" stop-color="#d1e2ec"/><stop offset="0.849" stop-color="#e4af90"/><stop offset="0.853" stop-color="#e1a483"/><stop offset="0.864" stop-color="#dae7ee"/><stop offset="1.000" stop-color="#d2e2ec"/></linearGradient><linearGradient id="h145"><stop offset="0.000" stop-color="#d3e3ec"/><stop offset="0.090" stop-color="#dae7ee"/><stop offset="0.097" stop-color="#eed0bd"/><stop offset="0.108" stop-color="#9e3b20"/><stop offset="0.111" stop-color="#a54425"/><stop offset="0.122" stop-color="#edded4"/><stop offset="0.133" stop-color="#d2e3ec"/><stop offset="0.656" stop-color="#b8d3e5"/><stop offset="0.842" stop-color="#c7dcea"/><stop offset="0.857" stop-color="#eed0bd"/><stop offset="0.878" stop-color="#c1d9e8"/><stop offset="1.000" stop-color="#ccdfeb"/></linearGradient><linearGradient id="h146"><stop offset="0.000" stop-color="#e5eaed"/><stop offset="0.090" stop-color="#eceae9"/><stop offset="0.097" stop-color="#e8b99d"/><stop offset="0.108" stop-color="#8b2714"/><stop offset="0.111" stop-color="#922f18"/><stop offset="0.122" stop-color="#eecbb5"/><stop offset="0.133" stop-color="#e2e9ed"/><stop offset="0.599" stop-color="#306fa4"/><stop offset="0.842" stop-color="#316fa4"/><stop offset="0.857" stop-color="#b7d2e4"/><stop offset="0.878" stop-color="#2d679e"/><stop offset="1.000" stop-color="#2d669e"/></linearGradient><linearGradient id="h147"><stop offset="0.000" stop-color="#cde0eb"/><stop offset="0.090" stop-color="#d9e7ee"/><stop offset="0.097" stop-color="#eed1be"/><stop offset="0.108" stop-color="#9e3c21"/><stop offset="0.111" stop-color="#a64426"/><stop offset="0.122" stop-color="#edded5"/><stop offset="0.133" stop-color="#cfe1eb"/><stop offset="0.706" stop-color="#417cad"/><stop offset="0.842" stop-color="#5f94bd"/><stop offset="0.857" stop-color="#dae7ee"/><stop offset="0.878" stop-color="#588eb9"/><stop offset="1.000" stop-color="#669ac0"/></linearGradient><linearGradient id="h148"><stop offset="0.000" stop-color="#dae7ee"/><stop offset="0.090" stop-color="#d7e6ed"/><stop offset="0.097" stop-color="#edd3c3"/><stop offset="0.108" stop-color="#a24023"/><stop offset="0.118" stop-color="#be633c"/><stop offset="0.201" stop-color="#b3522e"/><stop offset="0.237" stop-color="#600a12"/><stop offset="0.254" stop-color="#771913"/><stop offset="0.280" stop-color="#b95a33"/><stop offset="0.283" stop-color="#b7d2e4"/><stop offset="0.842" stop-color="#c9ddea"/><stop offset="0.857" stop-color="#eed0be"/><stop offset="0.878" stop-color="#b9d3e5"/><stop offset="1.000" stop-color="#a2c4db"/></linearGradient><linearGradient id="h149"><stop offset="0.000" stop-color="#dee8ee"/><stop offset="0.090" stop-color="#e0e9ed"/><stop offset="0.097" stop-color="#eecbb5"/><stop offset="0.108" stop-color="#9a371e"/><stop offset="0.115" stop-color="#be633c"/><stop offset="0.201" stop-color="#b3522e"/><stop offset="0.237" stop-color="#600a12"/><stop offset="0.254" stop-color="#771913"/><stop offset="0.280" stop-color="#b95a33"/><stop offset="0.283" stop-color="#c3dae9"/><stop offset="0.842" stop-color="#bed6e7"/><stop offset="0.857" stop-color="#edd7c9"/><stop offset="0.878" stop-color="#adcbe0"/><stop offset="1.000" stop-color="#b1cee2"/></linearGradient><linearGradient id="h150"><stop offset="0.000" stop-color="#d5e4ed"/><stop offset="0.090" stop-color="#d7e5ed"/><stop offset="0.097" stop-color="#edd3c3"/><stop offset="0.108" stop-color="#a24023"/><stop offset="0.111" stop-color="#aa4828"/><stop offset="0.122" stop-color="#ece3dd"/><stop offset="0.133" stop-color="#cbdfeb"/><stop offset="0.842" stop-color="#dde8ee"/><stop offset="0.857" stop-color="#e9ba9e"/><stop offset="0.878" stop-color="#d4e4ed"/><stop offset="1.000" stop-color="#ccdfeb"/></linearGradient><linearGradient id="h151"><stop offset="0.000" stop-color="#cadeea"/><stop offset="1.000" stop-color="#afcde1"/></linearGradient><linearGradient id="h152"><stop offset="0.000" stop-color="#e0e9ed"/><stop offset="0.634" stop-color="#a0c2da"/><stop offset="1.000" stop-color="#c5dbe9"/></linearGradient><linearGradient id="h153"><stop offset="0.000" stop-color="#d6e5ed"/><stop offset="1.000" stop-color="#9ec1da"/></linearGradient><linearGradient id="h154"><stop offset="0.000" stop-color="#c9ddea"/><stop offset="1.000" stop-color="#94bad5"/></linearGradient><linearGradient id="h155"><stop offset="0.000" stop-color="#d9e6ee"/><stop offset="0.634" stop-color="#b6d1e4"/><stop offset="1.000" stop-color="#ccdfeb"/></linearGradient><linearGradient id="h156"><stop offset="0.000" stop-color="#d5e4ed"/><stop offset="1.000" stop-color="#cddfeb"/></linearGradient><linearGradient id="h157"><stop offset="0.000" stop-color="#e4eaed"/><stop offset="0.595" stop-color="#9cc0d9"/><stop offset="1.000" stop-color="#c5dbe9"/></linearGradient><linearGradient id="h158"><stop offset="0.000" stop-color="#dfe8ed"/><stop offset="0.656" stop-color="#8eb6d3"/><stop offset="1.000" stop-color="#b3cfe3"/></linearGradient><linearGradient id="h159"><stop offset="0.000" stop-color="#e0e9ed"/><stop offset="1.000" stop-color="#d4e3ed"/></linearGradient><linearGradient id="h160"><stop offset="0.000" stop-color="#cee0eb"/><stop offset="0.495" stop-color="#a3c5dc"/><stop offset="1.000" stop-color="#c3dae9"/></linearGradient><linearGradient id="h161"><stop offset="0.000" stop-color="#c7dcea"/><stop offset="1.000" stop-color="#92b9d5"/></linearGradient><linearGradient id="h162"><stop offset="0.000" stop-color="#e8ebec"/><stop offset="0.491" stop-color="#c0d8e8"/><stop offset="0.989" stop-color="#c4dae9"/><stop offset="1.000" stop-color="#c3dae9"/></linearGradient><linearGradient id="h163"><stop offset="0.000" stop-color="#ece9e7"/><stop offset="0.513" stop-color="#c3dae9"/><stop offset="0.903" stop-color="#c6dce9"/><stop offset="1.000" stop-color="#bad4e5"/></linearGradient><linearGradient id="h164"><stop offset="0.000" stop-color="#e3e9ed"/><stop offset="0.563" stop-color="#a0c3db"/><stop offset="1.000" stop-color="#b5d1e3"/></linearGradient><linearGradient id="h165"><stop offset="0.000" stop-color="#c9ddea"/><stop offset="0.685" stop-color="#a2c4db"/><stop offset="1.000" stop-color="#afcce1"/></linearGradient><linearGradient id="h166"><stop offset="0.000" stop-color="#cadeea"/><stop offset="0.950" stop-color="#b0cde1"/><stop offset="1.000" stop-color="#abcadf"/></linearGradient><linearGradient id="h167"><stop offset="0.000" stop-color="#e5eaed"/><stop offset="0.835" stop-color="#b9d3e5"/><stop offset="1.000" stop-color="#c7dcea"/></linearGradient><linearGradient id="h168"><stop offset="0.000" stop-color="#e3eaed"/><stop offset="1.000" stop-color="#accadf"/></linearGradient><linearGradient id="h169"><stop offset="0.000" stop-color="#cee0eb"/><stop offset="1.000" stop-color="#b3cfe2"/></linearGradient><linearGradient id="h170"><stop offset="0.000" stop-color="#e6eaed"/><stop offset="0.699" stop-color="#a4c5dc"/><stop offset="1.000" stop-color="#c5dbe9"/></linearGradient><linearGradient id="h171"><stop offset="0.000" stop-color="#ebecec"/><stop offset="0.609" stop-color="#c6dbe9"/><stop offset="1.000" stop-color="#d9e6ee"/></linearGradient><linearGradient id="h172"><stop offset="0.000" stop-color="#e9ebec"/><stop offset="0.631" stop-color="#cbdeea"/><stop offset="1.000" stop-color="#d5e4ed"/></linearGradient><linearGradient id="h173"><stop offset="0.000" stop-color="#eaecec"/><stop offset="0.548" stop-color="#bad4e5"/><stop offset="0.996" stop-color="#c4dbe9"/><stop offset="1.000" stop-color="#c4dae9"/></linearGradient><linearGradient id="h174"><stop offset="0.000" stop-color="#eaecec"/><stop offset="0.918" stop-color="#b2cfe2"/><stop offset="1.000" stop-color="#b3d0e3"/></linearGradient><linearGradient id="h175"><stop offset="0.000" stop-color="#d1e2ec"/><stop offset="0.692" stop-color="#c0d8e8"/><stop offset="1.000" stop-color="#c5dbe9"/></linearGradient><linearGradient id="h176"><stop offset="0.000" stop-color="#cadeea"/><stop offset="0.566" stop-color="#8cb5d2"/><stop offset="1.000" stop-color="#b7d2e4"/></linearGradient><linearGradient id="h177"><stop offset="0.000" stop-color="#e5eaed"/><stop offset="1.000" stop-color="#bfd7e8"/></linearGradient><linearGradient id="h178"><stop offset="0.000" stop-color="#dde8ee"/><stop offset="1.000" stop-color="#c2d9e9"/></linearGradient><linearGradient id="h179"><stop offset="0.000" stop-color="#ece4de"/><stop offset="0.720" stop-color="#dfe8ed"/><stop offset="1.000" stop-color="#ebecec"/></linearGradient><linearGradient id="h180"><stop offset="0.000" stop-color="#e9ebec"/><stop offset="0.545" stop-color="#cbdeeb"/><stop offset="1.000" stop-color="#d7e5ed"/></linearGradient><linearGradient id="h181"><stop offset="0.000" stop-color="#d4e4ed"/><stop offset="0.491" stop-color="#cfe1eb"/><stop offset="0.903" stop-color="#d3e3ec"/><stop offset="1.000" stop-color="#dae7ee"/></linearGradient><linearGradient id="h182"><stop offset="0.000" stop-color="#dce8ee"/><stop offset="1.000" stop-color="#c0d8e8"/></linearGradient><linearGradient id="h183"><stop offset="0.000" stop-color="#eaebec"/><stop offset="0.649" stop-color="#c6dce9"/><stop offset="1.000" stop-color="#d6e5ed"/></linearGradient><linearGradient id="h184"><stop offset="0.000" stop-color="#dfe8ed"/><stop offset="0.502" stop-color="#c8ddea"/><stop offset="0.978" stop-color="#cde0eb"/><stop offset="1.000" stop-color="#cfe1eb"/></linearGradient><linearGradient id="h185"><stop offset="0.000" stop-color="#d4e3ed"/><stop offset="1.000" stop-color="#b5d1e3"/></linearGradient><linearGradient id="h186"><stop offset="0.000" stop-color="#d5e4ed"/><stop offset="1.000" stop-color="#c9ddea"/></linearGradient><linearGradient id="h187"><stop offset="0.000" stop-color="#e8ebec"/><stop offset="0.459" stop-color="#c1d8e8"/><stop offset="0.918" stop-color="#c3dae9"/><stop offset="1.000" stop-color="#b7d2e4"/></linearGradient><linearGradient id="h188"><stop offset="0.000" stop-color="#cde0eb"/><stop offset="1.000" stop-color="#a4c5dc"/></linearGradient><linearGradient id="h189"><stop offset="0.000" stop-color="#e0e9ed"/><stop offset="0.771" stop-color="#a2c4db"/><stop offset="1.000" stop-color="#c2d9e9"/></linearGradient><linearGradient id="h190"><stop offset="0.000" stop-color="#e3eaed"/><stop offset="1.000" stop-color="#dde8ee"/></linearGradient><linearGradient id="h191"><stop offset="0.000" stop-color="#d4e3ed"/><stop offset="1.000" stop-color="#c9ddea"/></linearGradient><linearGradient id="h192"><stop offset="0.000" stop-color="#e1e9ed"/><stop offset="0.441" stop-color="#96bcd6"/><stop offset="0.910" stop-color="#94bad5"/><stop offset="1.000" stop-color="#83afce"/></linearGradient><linearGradient id="h193"><stop offset="0.000" stop-color="#d9e7ee"/><stop offset="0.409" stop-color="#a4c5dc"/><stop offset="0.925" stop-color="#9abfd8"/><stop offset="1.000" stop-color="#8eb6d3"/></linearGradient><linearGradient id="h194"><stop offset="0.000" stop-color="#dce7ee"/><stop offset="0.588" stop-color="#b0cde1"/><stop offset="1.000" stop-color="#cbdeea"/></linearGradient><linearGradient id="h195"><stop offset="0.000" stop-color="#d6e5ed"/><stop offset="1.000" stop-color="#bed6e7"/></linearGradient><linearGradient id="h196"><stop offset="0.000" stop-color="#dae7ee"/><stop offset="0.473" stop-color="#c1d9e8"/><stop offset="1.000" stop-color="#b3d0e3"/></linearGradient><linearGradient id="h197"><stop offset="0.000" stop-color="#d1e2ec"/><stop offset="0.842" stop-color="#c7dcea"/><stop offset="1.000" stop-color="#c7dcea"/></linearGradient><linearGradient id="h198"><stop offset="0.000" stop-color="#dae7ee"/><stop offset="0.401" stop-color="#a6c7dd"/><stop offset="0.771" stop-color="#a1c3db"/><stop offset="1.000" stop-color="#bad4e5"/></linearGradient><linearGradient id="h199"><stop offset="0.000" stop-color="#e2e9ed"/><stop offset="0.530" stop-color="#95bbd6"/><stop offset="0.986" stop-color="#a8c8de"/><stop offset="1.000" stop-color="#a5c6dd"/></linearGradient><linearGradient id="h200"><stop offset="0.000" stop-color="#e1e9ed"/><stop offset="0.509" stop-color="#96bcd6"/><stop offset="0.946" stop-color="#a7c7dd"/><stop offset="1.000" stop-color="#9bbfd8"/></linearGradient><linearGradient id="h201"><stop offset="0.000" stop-color="#dfe8ed"/><stop offset="0.387" stop-color="#c1d9e8"/><stop offset="0.892" stop-color="#a3c4dc"/><stop offset="1.000" stop-color="#9ec1da"/></linearGradient><linearGradient id="h202"><stop offset="0.000" stop-color="#d5e4ed"/><stop offset="0.566" stop-color="#bfd7e8"/><stop offset="1.000" stop-color="#cbdeeb"/></linearGradient><linearGradient id="h203"><stop offset="0.000" stop-color="#eaecec"/><stop offset="0.982" stop-color="#c4dae9"/><stop offset="1.000" stop-color="#c5dbe9"/></linearGradient><linearGradient id="h204"><stop offset="0.000" stop-color="#e4eaed"/><stop offset="0.581" stop-color="#b7d2e4"/><stop offset="1.000" stop-color="#cfe1ec"/></linearGradient><linearGradient id="h205"><stop offset="0.000" stop-color="#e4eaed"/><stop offset="0.996" stop-color="#bcd5e6"/><stop offset="1.000" stop-color="#bcd5e6"/></linearGradient><linearGradient id="h206"><stop offset="0.000" stop-color="#dce8ee"/><stop offset="1.000" stop-color="#c2d9e8"/></linearGradient><linearGradient id="h207"><stop offset="0.000" stop-color="#dae7ee"/><stop offset="1.000" stop-color="#b7d2e4"/></linearGradient><linearGradient id="h208"><stop offset="0.000" stop-color="#d5e4ed"/><stop offset="0.695" stop-color="#95bbd6"/><stop offset="1.000" stop-color="#bfd8e8"/></linearGradient><linearGradient id="h209"><stop offset="0.000" stop-color="#dde8ee"/><stop offset="0.946" stop-color="#8fb7d3"/><stop offset="1.000" stop-color="#90b7d3"/></linearGradient><linearGradient id="h210"><stop offset="0.000" stop-color="#c2d9e9"/><stop offset="1.000" stop-color="#93b9d5"/></linearGradient><linearGradient id="h211"><stop offset="0.000" stop-color="#c2d9e8"/><stop offset="0.667" stop-color="#91b8d4"/><stop offset="1.000" stop-color="#afcde1"/></linearGradient><linearGradient id="h212"><stop offset="0.000" stop-color="#d6e5ed"/><stop offset="0.989" stop-color="#90b7d4"/><stop offset="1.000" stop-color="#91b8d4"/></linearGradient><linearGradient id="h213"><stop offset="0.000" stop-color="#cfe1eb"/><stop offset="1.000" stop-color="#c1d9e8"/></linearGradient><linearGradient id="h214"><stop offset="0.000" stop-color="#d2e3ec"/><stop offset="1.000" stop-color="#90b8d4"/></linearGradient><linearGradient id="h215"><stop offset="0.000" stop-color="#e5eaed"/><stop offset="1.000" stop-color="#adcbe0"/></linearGradient><linearGradient id="h216"><stop offset="0.000" stop-color="#d2e3ec"/><stop offset="1.000" stop-color="#c0d8e8"/></linearGradient><linearGradient id="h217"><stop offset="0.000" stop-color="#c8ddea"/><stop offset="1.000" stop-color="#9cc0d9"/></linearGradient><linearGradient id="h218"><stop offset="0.000" stop-color="#e1e9ed"/><stop offset="0.713" stop-color="#8bb5d2"/><stop offset="1.000" stop-color="#adcbe0"/></linearGradient><linearGradient id="h219"><stop offset="0.000" stop-color="#d6e4ed"/><stop offset="0.154" stop-color="#c6dce9"/><stop offset="0.591" stop-color="#2d5794"/><stop offset="1.000" stop-color="#2d679f"/></linearGradient><linearGradient id="h220"><stop offset="0.000" stop-color="#dde8ee"/><stop offset="0.538" stop-color="#87b2d0"/><stop offset="0.982" stop-color="#9bbfd8"/><stop offset="1.000" stop-color="#97bdd7"/></linearGradient><linearGradient id="h221"><stop offset="0.000" stop-color="#cfe1ec"/><stop offset="0.699" stop-color="#c6dce9"/><stop offset="1.000" stop-color="#c8ddea"/></linearGradient><linearGradient id="h222"><stop offset="0.000" stop-color="#cbdeeb"/><stop offset="0.645" stop-color="#aecce0"/><stop offset="1.000" stop-color="#c4dae9"/></linearGradient><linearGradient id="h223"><stop offset="0.000" stop-color="#d0e1ec"/><stop offset="0.452" stop-color="#b5d1e3"/><stop offset="1.000" stop-color="#adcbe0"/></linearGradient><linearGradient id="h224"><stop offset="0.000" stop-color="#c7dcea"/><stop offset="1.000" stop-color="#bbd5e6"/></linearGradient><linearGradient id="h225"><stop offset="0.000" stop-color="#e0e9ed"/><stop offset="0.624" stop-color="#b5d0e3"/><stop offset="1.000" stop-color="#c7dcea"/></linearGradient><linearGradient id="h226"><stop offset="0.000" stop-color="#d6e5ed"/><stop offset="0.541" stop-color="#b5d1e4"/><stop offset="1.000" stop-color="#cee0eb"/></linearGradient><linearGradient id="h227"><stop offset="0.000" stop-color="#c3dae9"/><stop offset="1.000" stop-color="#b1cee2"/></linearGradient><linearGradient id="h228"><stop offset="0.000" stop-color="#d0e1ec"/><stop offset="1.000" stop-color="#a2c4db"/></linearGradient><linearGradient id="h229"><stop offset="0.000" stop-color="#e1e9ed"/><stop offset="1.000" stop-color="#b0cde1"/></linearGradient><linearGradient id="h230"><stop offset="0.000" stop-color="#ebecec"/><stop offset="0.462" stop-color="#d5e4ed"/><stop offset="0.943" stop-color="#d1e2ec"/><stop offset="1.000" stop-color="#ccdfeb"/></linearGradient><linearGradient id="h231"><stop offset="0.000" stop-color="#ece6e1"/><stop offset="0.545" stop-color="#d6e5ed"/><stop offset="1.000" stop-color="#dee8ee"/></linearGradient><linearGradient id="h232"><stop offset="0.000" stop-color="#d9e6ee"/><stop offset="1.000" stop-color="#d3e3ec"/></linearGradient><linearGradient id="h233"><stop offset="0.000" stop-color="#e4eaed"/><stop offset="0.573" stop-color="#c3dae9"/><stop offset="1.000" stop-color="#d4e3ed"/></linearGradient><linearGradient id="h234"><stop offset="0.000" stop-color="#e3e9ed"/><stop offset="0.434" stop-color="#afcde1"/><stop offset="0.907" stop-color="#aecce0"/><stop offset="1.000" stop-color="#9dc0d9"/></linearGradient><linearGradient id="h235"><stop offset="0.000" stop-color="#cbdfeb"/><stop offset="1.000" stop-color="#83afce"/></linearGradient><linearGradient id="h236"><stop offset="0.000" stop-color="#dfe8ed"/><stop offset="0.624" stop-color="#9dc0d9"/><stop offset="1.000" stop-color="#c2d9e8"/></linearGradient><linearGradient id="h237"><stop offset="0.000" stop-color="#e6eaed"/><stop offset="0.581" stop-color="#b9d3e5"/><stop offset="1.000" stop-color="#d1e2ec"/></linearGradient><linearGradient id="h238"><stop offset="0.000" stop-color="#ece9e7"/><stop offset="0.444" stop-color="#d7e5ed"/><stop offset="0.871" stop-color="#d8e6ed"/><stop offset="1.000" stop-color="#cee0eb"/></linearGradient><linearGradient id="h239"><stop offset="0.000" stop-color="#eceae9"/><stop offset="0.584" stop-color="#cadeea"/><stop offset="1.000" stop-color="#dce7ee"/></linearGradient><linearGradient id="h240"><stop offset="0.000" stop-color="#e5eaed"/><stop offset="0.842" stop-color="#98bdd7"/><stop offset="1.000" stop-color="#a4c5dc"/></linearGradient><linearGradient id="h241"><stop offset="0.000" stop-color="#e7ebed"/><stop offset="0.789" stop-color="#9fc2da"/><stop offset="1.000" stop-color="#a8c8de"/></linearGradient><linearGradient id="h242"><stop offset="0.000" stop-color="#e6eaed"/><stop offset="0.982" stop-color="#aecce0"/><stop offset="1.000" stop-color="#afcce1"/></linearGradient><linearGradient id="h243"><stop offset="0.000" stop-color="#e1e9ed"/><stop offset="0.434" stop-color="#bad4e5"/><stop offset="0.935" stop-color="#aecce0"/><stop offset="1.000" stop-color="#a3c5dc"/></linearGradient><linearGradient id="h244"><stop offset="0.000" stop-color="#dde8ee"/><stop offset="0.964" stop-color="#9cc0d9"/><stop offset="1.000" stop-color="#a0c3db"/></linearGradient><linearGradient id="h245"><stop offset="0.000" stop-color="#cde0eb"/><stop offset="1.000" stop-color="#87b1d0"/></linearGradient><linearGradient id="h246"><stop offset="0.000" stop-color="#dde8ee"/><stop offset="0.896" stop-color="#7dabcb"/><stop offset="1.000" stop-color="#7caacb"/></linearGradient><linearGradient id="h247"><stop offset="0.000" stop-color="#cddfeb"/><stop offset="0.484" stop-color="#afcce1"/><stop offset="1.000" stop-color="#bad4e5"/></linearGradient><linearGradient id="h248"><stop offset="0.000" stop-color="#d4e4ed"/><stop offset="1.000" stop-color="#a7c7dd"/></linearGradient><linearGradient id="h249"><stop offset="0.000" stop-color="#dde8ee"/><stop offset="0.742" stop-color="#c4dae9"/><stop offset="1.000" stop-color="#cde0eb"/></linearGradient><linearGradient id="h250"><stop offset="0.000" stop-color="#e6eaed"/><stop offset="0.803" stop-color="#c2d9e8"/><stop offset="1.000" stop-color="#d0e1ec"/></linearGradient><linearGradient id="h251"><stop offset="0.000" stop-color="#d0e1ec"/><stop offset="1.000" stop-color="#bdd6e7"/></linearGradient><linearGradient id="h252"><stop offset="0.000" stop-color="#cde0eb"/><stop offset="0.857" stop-color="#96bcd6"/><stop offset="1.000" stop-color="#b1cee2"/></linearGradient><linearGradient id="h253"><stop offset="0.000" stop-color="#dae7ee"/><stop offset="0.699" stop-color="#91b9d4"/><stop offset="1.000" stop-color="#bfd8e8"/></linearGradient><linearGradient id="h254"><stop offset="0.000" stop-color="#d2e3ec"/><stop offset="0.670" stop-color="#80adcd"/><stop offset="1.000" stop-color="#97bcd7"/></linearGradient><linearGradient id="h255"><stop offset="0.000" stop-color="#d5e4ed"/><stop offset="0.634" stop-color="#7ba9cb"/><stop offset="1.000" stop-color="#99bed8"/></linearGradient><linearGradient id="h256"><stop offset="0.000" stop-color="#d6e5ed"/><stop offset="0.935" stop-color="#b0cde1"/><stop offset="1.000" stop-color="#bfd8e8"/></linearGradient><linearGradient id="h257"><stop offset="0.000" stop-color="#dfe8ed"/><stop offset="1.000" stop-color="#a7c7dd"/></linearGradient><linearGradient id="h258"><stop offset="0.000" stop-color="#dee8ee"/><stop offset="0.470" stop-color="#a4c5dc"/><stop offset="0.971" stop-color="#b7d2e4"/><stop offset="1.000" stop-color="#bbd4e6"/></linearGradient><linearGradient id="h259"><stop offset="0.000" stop-color="#e1e9ed"/><stop offset="0.584" stop-color="#9bbfd8"/><stop offset="1.000" stop-color="#c5dbe9"/></linearGradient><linearGradient id="h260"><stop offset="0.000" stop-color="#d2e2ec"/><stop offset="1.000" stop-color="#aac9df"/></linearGradient><linearGradient id="h261"><stop offset="0.000" stop-color="#d4e4ed"/><stop offset="1.000" stop-color="#cddfeb"/></linearGradient><linearGradient id="h262"><stop offset="0.000" stop-color="#e5eaed"/><stop offset="0.713" stop-color="#b2cfe2"/><stop offset="1.000" stop-color="#cde0eb"/></linearGradient><linearGradient id="h263"><stop offset="0.000" stop-color="#e9ebec"/><stop offset="0.599" stop-color="#a9c9de"/><stop offset="1.000" stop-color="#cbdeea"/></linearGradient><linearGradient id="h264"><stop offset="0.000" stop-color="#d3e3ec"/><stop offset="0.821" stop-color="#ccdfeb"/><stop offset="1.000" stop-color="#d0e1ec"/></linearGradient><linearGradient id="h265"><stop offset="0.000" stop-color="#d7e6ed"/><stop offset="0.756" stop-color="#bfd7e8"/><stop offset="1.000" stop-color="#bed7e7"/></linearGradient><linearGradient id="h266"><stop offset="0.000" stop-color="#e9ebec"/><stop offset="0.168" stop-color="#cfe1eb"/><stop offset="0.588" stop-color="#3673a7"/><stop offset="1.000" stop-color="#548cb7"/></linearGradient><linearGradient id="h267"><stop offset="0.000" stop-color="#eceae8"/><stop offset="0.760" stop-color="#a8c8de"/><stop offset="1.000" stop-color="#b9d3e5"/></linearGradient><linearGradient id="h268"><stop offset="0.000" stop-color="#dbe7ee"/><stop offset="1.000" stop-color="#9bbfd8"/></linearGradient><linearGradient id="h269"><stop offset="0.000" stop-color="#e5eaed"/><stop offset="0.534" stop-color="#aecce0"/><stop offset="1.000" stop-color="#c3dae9"/></linearGradient><linearGradient id="h270"><stop offset="0.000" stop-color="#d1e2ec"/><stop offset="0.699" stop-color="#c1d9e8"/><stop offset="1.000" stop-color="#c6dbe9"/></linearGradient><linearGradient id="h271"><stop offset="0.000" stop-color="#dde8ee"/><stop offset="0.351" stop-color="#c1d8e8"/><stop offset="0.774" stop-color="#c2d9e8"/><stop offset="1.000" stop-color="#b0cde1"/></linearGradient><linearGradient id="h272"><stop offset="0.000" stop-color="#e3e9ed"/><stop offset="0.491" stop-color="#afcce1"/><stop offset="1.000" stop-color="#bfd7e7"/></linearGradient><linearGradient id="h273"><stop offset="0.000" stop-color="#c8ddea"/><stop offset="0.158" stop-color="#aecce0"/><stop offset="0.685" stop-color="#2d5b97"/><stop offset="1.000" stop-color="#2d5d98"/></linearGradient><linearGradient id="h274"><stop offset="0.000" stop-color="#e0e9ed"/><stop offset="0.717" stop-color="#9fc2da"/><stop offset="1.000" stop-color="#c3dae9"/></linearGradient><linearGradient id="h275"><stop offset="0.000" stop-color="#e0e9ed"/><stop offset="0.663" stop-color="#85b0cf"/><stop offset="1.000" stop-color="#b1cee1"/></linearGradient><linearGradient id="h276"><stop offset="0.000" stop-color="#e6eaed"/><stop offset="0.742" stop-color="#93b9d5"/><stop offset="1.000" stop-color="#aac9df"/></linearGradient><linearGradient id="h277"><stop offset="0.000" stop-color="#dbe7ee"/><stop offset="0.548" stop-color="#82aece"/><stop offset="1.000" stop-color="#afcde1"/></linearGradient><linearGradient id="h278"><stop offset="0.000" stop-color="#dce7ee"/><stop offset="0.591" stop-color="#accadf"/><stop offset="1.000" stop-color="#c9ddea"/></linearGradient><linearGradient id="h279"><stop offset="0.000" stop-color="#e5eaed"/><stop offset="0.674" stop-color="#a3c4dc"/><stop offset="1.000" stop-color="#c8ddea"/></linearGradient><linearGradient id="h280"><stop offset="0.000" stop-color="#e1e9ed"/><stop offset="0.634" stop-color="#9fc2da"/><stop offset="1.000" stop-color="#c3dae9"/></linearGradient><linearGradient id="h281"><stop offset="0.000" stop-color="#d4e3ed"/><stop offset="1.000" stop-color="#b0cee1"/></linearGradient><linearGradient id="h282"><stop offset="0.000" stop-color="#d1e2ec"/><stop offset="1.000" stop-color="#94bbd6"/></linearGradient><linearGradient id="h283"><stop offset="0.000" stop-color="#e1e9ed"/><stop offset="0.441" stop-color="#a8c8de"/><stop offset="0.921" stop-color="#adcbe0"/><stop offset="1.000" stop-color="#9dc1d9"/></linearGradient><linearGradient id="h284"><stop offset="0.000" stop-color="#dde8ee"/><stop offset="1.000" stop-color="#b8d3e5"/></linearGradient><linearGradient id="h285"><stop offset="0.000" stop-color="#e4eaed"/><stop offset="0.509" stop-color="#c4dae9"/><stop offset="1.000" stop-color="#cfe0eb"/></linearGradient><linearGradient id="h286"><stop offset="0.000" stop-color="#cee0eb"/><stop offset="1.000" stop-color="#c6dbe9"/></linearGradient><linearGradient id="h287"><stop offset="0.000" stop-color="#dae7ee"/><stop offset="0.470" stop-color="#95bbd6"/><stop offset="1.000" stop-color="#a9c8de"/></linearGradient><linearGradient id="h288"><stop offset="0.000" stop-color="#dde8ee"/><stop offset="0.914" stop-color="#afcce1"/><stop offset="1.000" stop-color="#bcd5e6"/></linearGradient><linearGradient id="h289"><stop offset="0.000" stop-color="#d3e3ec"/><stop offset="1.000" stop-color="#adcbe0"/></linearGradient><linearGradient id="h290"><stop offset="0.000" stop-color="#dce8ee"/><stop offset="0.538" stop-color="#a0c2da"/><stop offset="0.950" stop-color="#b0cde1"/><stop offset="1.000" stop-color="#a5c6dc"/></linearGradient><linearGradient id="h291"><stop offset="0.000" stop-color="#d1e2ec"/><stop offset="0.398" stop-color="#bcd5e6"/><stop offset="1.000" stop-color="#8bb4d2"/></linearGradient><linearGradient id="h292"><stop offset="0.000" stop-color="#cee0eb"/><stop offset="1.000" stop-color="#c8ddea"/></linearGradient><linearGradient id="h293"><stop offset="0.000" stop-color="#d2e2ec"/><stop offset="0.957" stop-color="#adcbe0"/><stop offset="1.000" stop-color="#b8d2e4"/></linearGradient><linearGradient id="h294"><stop offset="0.000" stop-color="#d2e3ec"/><stop offset="0.792" stop-color="#adcbe0"/><stop offset="1.000" stop-color="#c1d9e8"/></linearGradient><filter id="speck" x="0" y="0" width="100%" height="100%"><feTurbulence type="fractalNoise" baseFrequency="0.3 0.8" numOctaves="1" seed="3"/><feColorMatrix type="matrix" values="0 0 0 0 1  0 0 0 0 1  0 0 0 0 1  0 0 0 -2.2 1.25"/></filter><filter id="speck2" x="0" y="0" width="100%" height="100%"><feTurbulence type="fractalNoise" baseFrequency="0.45 1.1" numOctaves="1" seed="8"/><feColorMatrix type="matrix" values="0 0 0 0 0.3  0 0 0 0 0.52  0 0 0 0 0.72  0 0 0 -3 1.55"/></filter></defs>
<rect x="345.7" y="32.7" width="279.0" height="309.3" fill="#cfe1ee"/>
<rect x="345.7" y="33" width="279.0" height="1.02" fill="url(#h0)"/>
<rect x="345.7" y="34" width="279.0" height="1.02" fill="url(#h1)"/>
<rect x="345.7" y="35" width="279.0" height="1.02" fill="url(#h2)"/>
<rect x="345.7" y="36" width="279.0" height="1.02" fill="url(#h3)"/>
<rect x="345.7" y="37" width="279.0" height="1.02" fill="url(#h4)"/>
<rect x="345.7" y="38" width="279.0" height="1.02" fill="url(#h5)"/>
<rect x="345.7" y="39" width="279.0" height="1.02" fill="url(#h6)"/>
<rect x="345.7" y="40" width="279.0" height="1.02" fill="url(#h7)"/>
<rect x="345.7" y="41" width="279.0" height="1.02" fill="url(#h8)"/>
<rect x="345.7" y="42" width="279.0" height="1.02" fill="url(#h9)"/>
<rect x="345.7" y="43" width="279.0" height="1.02" fill="url(#h10)"/>
<rect x="345.7" y="44" width="279.0" height="1.02" fill="url(#h11)"/>
<rect x="345.7" y="45" width="279.0" height="1.02" fill="url(#h12)"/>
<rect x="345.7" y="46" width="279.0" height="1.02" fill="url(#h13)"/>
<rect x="345.7" y="47" width="279.0" height="1.02" fill="url(#h14)"/>
<rect x="345.7" y="48" width="279.0" height="1.02" fill="url(#h15)"/>
<rect x="345.7" y="49" width="279.0" height="1.02" fill="url(#h16)"/>
<rect x="345.7" y="50" width="279.0" height="1.02" fill="url(#h17)"/>
<rect x="345.7" y="51" width="279.0" height="1.02" fill="url(#h18)"/>
<rect x="345.7" y="52" width="279.0" height="1.02" fill="url(#h19)"/>
<rect x="345.7" y="53" width="279.0" height="1.02" fill="url(#h20)"/>
<rect x="345.7" y="54" width="279.0" height="1.02" fill="url(#h21)"/>
<rect x="345.7" y="55" width="279.0" height="1.02" fill="url(#h22)"/>
<rect x="345.7" y="56" width="279.0" height="1.02" fill="url(#h23)"/>
<rect x="345.7" y="57" width="279.0" height="1.02" fill="url(#h24)"/>
<rect x="345.7" y="58" width="279.0" height="1.02" fill="url(#h25)"/>
<rect x="345.7" y="59" width="279.0" height="1.02" fill="url(#h26)"/>
<rect x="345.7" y="60" width="279.0" height="1.02" fill="url(#h27)"/>
<rect x="345.7" y="61" width="279.0" height="1.02" fill="url(#h28)"/>
<rect x="345.7" y="62" width="279.0" height="1.02" fill="url(#h29)"/>
<rect x="345.7" y="63" width="279.0" height="1.02" fill="url(#h30)"/>
<rect x="345.7" y="64" width="279.0" height="1.02" fill="url(#h31)"/>
<rect x="345.7" y="65" width="279.0" height="1.02" fill="url(#h32)"/>
<rect x="345.7" y="66" width="279.0" height="1.02" fill="url(#h33)"/>
<rect x="345.7" y="67" width="279.0" height="1.02" fill="url(#h34)"/>
<rect x="345.7" y="68" width="279.0" height="1.02" fill="url(#h35)"/>
<rect x="345.7" y="69" width="279.0" height="1.02" fill="url(#h36)"/>
<rect x="345.7" y="70" width="279.0" height="1.02" fill="url(#h37)"/>
<rect x="345.7" y="71" width="279.0" height="1.02" fill="url(#h38)"/>
<rect x="345.7" y="72" width="279.0" height="1.02" fill="url(#h39)"/>
<rect x="345.7" y="73" width="279.0" height="1.02" fill="url(#h40)"/>
<rect x="345.7" y="74" width="279.0" height="1.02" fill="url(#h41)"/>
<rect x="345.7" y="75" width="279.0" height="1.02" fill="url(#h42)"/>
<rect x="345.7" y="76" width="279.0" height="1.02" fill="url(#h43)"/>
<rect x="345.7" y="77" width="279.0" height="1.02" fill="url(#h44)"/>
<rect x="345.7" y="78" width="279.0" height="1.02" fill="url(#h45)"/>
<rect x="345.7" y="79" width="279.0" height="1.02" fill="url(#h46)"/>
<rect x="345.7" y="80" width="279.0" height="1.02" fill="url(#h47)"/>
<rect x="345.7" y="81" width="279.0" height="1.02" fill="url(#h48)"/>
<rect x="345.7" y="82" width="279.0" height="1.02" fill="url(#h49)"/>
<rect x="345.7" y="83" width="279.0" height="1.02" fill="url(#h50)"/>
<rect x="345.7" y="84" width="279.0" height="1.02" fill="url(#h51)"/>
<rect x="345.7" y="85" width="279.0" height="1.02" fill="url(#h52)"/>
<rect x="345.7" y="86" width="279.0" height="1.02" fill="url(#h53)"/>
<rect x="345.7" y="87" width="279.0" height="1.02" fill="url(#h54)"/>
<rect x="345.7" y="88" width="279.0" height="1.02" fill="url(#h55)"/>
<rect x="345.7" y="89" width="279.0" height="1.02" fill="url(#h56)"/>
<rect x="345.7" y="90" width="279.0" height="1.02" fill="url(#h57)"/>
<rect x="345.7" y="91" width="279.0" height="1.02" fill="url(#h58)"/>
<rect x="345.7" y="92" width="279.0" height="1.02" fill="url(#h59)"/>
<rect x="345.7" y="93" width="279.0" height="1.02" fill="url(#h60)"/>
<rect x="345.7" y="94" width="279.0" height="1.02" fill="url(#h61)"/>
<rect x="345.7" y="95" width="279.0" height="1.02" fill="url(#h62)"/>
<rect x="345.7" y="96" width="279.0" height="1.02" fill="url(#h63)"/>
<rect x="345.7" y="97" width="279.0" height="1.02" fill="url(#h64)"/>
<rect x="345.7" y="98" width="279.0" height="1.02" fill="url(#h65)"/>
<rect x="345.7" y="99" width="279.0" height="1.02" fill="url(#h66)"/>
<rect x="345.7" y="100" width="279.0" height="1.02" fill="url(#h67)"/>
<rect x="345.7" y="101" width="279.0" height="1.02" fill="url(#h68)"/>
<rect x="345.7" y="102" width="279.0" height="1.02" fill="url(#h69)"/>
<rect x="345.7" y="103" width="279.0" height="1.02" fill="url(#h70)"/>
<rect x="345.7" y="104" width="279.0" height="1.02" fill="url(#h71)"/>
<rect x="345.7" y="105" width="279.0" height="1.02" fill="url(#h72)"/>
<rect x="345.7" y="106" width="279.0" height="1.02" fill="url(#h73)"/>
<rect x="345.7" y="107" width="279.0" height="1.02" fill="url(#h74)"/>
<rect x="345.7" y="108" width="279.0" height="1.02" fill="url(#h75)"/>
<rect x="345.7" y="109" width="279.0" height="1.02" fill="url(#h76)"/>
<rect x="345.7" y="110" width="279.0" height="1.02" fill="url(#h77)"/>
<rect x="345.7" y="111" width="279.0" height="1.02" fill="url(#h78)"/>
<rect x="345.7" y="112" width="279.0" height="1.02" fill="url(#h79)"/>
<rect x="345.7" y="113" width="279.0" height="1.02" fill="url(#h80)"/>
<rect x="345.7" y="114" width="279.0" height="1.02" fill="url(#h81)"/>
<rect x="345.7" y="115" width="279.0" height="1.02" fill="url(#h82)"/>
<rect x="345.7" y="116" width="279.0" height="1.02" fill="url(#h83)"/>
<rect x="345.7" y="117" width="279.0" height="1.02" fill="url(#h84)"/>
<rect x="345.7" y="118" width="279.0" height="1.02" fill="#d2e2ec"/>
<rect x="345.7" y="119" width="279.0" height="1.02" fill="url(#h85)"/>
<rect x="345.7" y="120" width="279.0" height="1.02" fill="url(#h86)"/>
<rect x="345.7" y="121" width="279.0" height="1.02" fill="url(#h87)"/>
<rect x="345.7" y="122" width="279.0" height="1.02" fill="url(#h88)"/>
<rect x="345.7" y="123" width="279.0" height="1.02" fill="url(#h89)"/>
<rect x="345.7" y="124" width="279.0" height="1.02" fill="url(#h90)"/>
<rect x="345.7" y="127" width="279.0" height="1.02" fill="url(#h91)"/>
<rect x="345.7" y="128" width="279.0" height="1.02" fill="url(#h92)"/>
<rect x="345.7" y="129" width="279.0" height="1.02" fill="url(#h93)"/>
<rect x="345.7" y="130" width="279.0" height="1.02" fill="url(#h94)"/>
<rect x="345.7" y="131" width="279.0" height="1.02" fill="url(#h95)"/>
<rect x="345.7" y="132" width="279.0" height="1.02" fill="url(#h96)"/>
<rect x="345.7" y="133" width="279.0" height="1.02" fill="url(#h97)"/>
<rect x="345.7" y="134" width="279.0" height="1.02" fill="url(#h98)"/>
<rect x="345.7" y="135" width="279.0" height="1.02" fill="url(#h99)"/>
<rect x="345.7" y="136" width="279.0" height="1.02" fill="url(#h100)"/>
<rect x="345.7" y="137" width="279.0" height="1.02" fill="url(#h101)"/>
<rect x="345.7" y="138" width="279.0" height="1.02" fill="url(#h102)"/>
<rect x="345.7" y="139" width="279.0" height="1.02" fill="url(#h103)"/>
<rect x="345.7" y="140" width="279.0" height="1.02" fill="url(#h104)"/>
<rect x="345.7" y="141" width="279.0" height="1.02" fill="url(#h105)"/>
<rect x="345.7" y="142" width="279.0" height="1.02" fill="url(#h106)"/>
<rect x="345.7" y="143" width="279.0" height="1.02" fill="url(#h107)"/>
<rect x="345.7" y="144" width="279.0" height="1.02" fill="url(#h108)"/>
<rect x="345.7" y="145" width="279.0" height="1.02" fill="url(#h109)"/>
<rect x="345.7" y="146" width="279.0" height="1.02" fill="url(#h110)"/>
<rect x="345.7" y="147" width="279.0" height="1.02" fill="url(#h111)"/>
<rect x="345.7" y="148" width="279.0" height="1.02" fill="url(#h112)"/>
<rect x="345.7" y="149" width="279.0" height="1.02" fill="url(#h113)"/>
<rect x="345.7" y="150" width="279.0" height="1.02" fill="url(#h114)"/>
<rect x="345.7" y="151" width="279.0" height="1.02" fill="url(#h115)"/>
<rect x="345.7" y="152" width="279.0" height="1.02" fill="url(#h116)"/>
<rect x="345.7" y="153" width="279.0" height="1.02" fill="url(#h117)"/>
<rect x="345.7" y="154" width="279.0" height="1.02" fill="url(#h118)"/>
<rect x="345.7" y="155" width="279.0" height="1.02" fill="url(#h119)"/>
<rect x="345.7" y="156" width="279.0" height="1.02" fill="url(#h120)"/>
<rect x="345.7" y="157" width="279.0" height="1.02" fill="url(#h121)"/>
<rect x="345.7" y="158" width="279.0" height="1.02" fill="url(#h122)"/>
<rect x="345.7" y="159" width="279.0" height="1.02" fill="url(#h123)"/>
<rect x="345.7" y="160" width="279.0" height="1.02" fill="url(#h124)"/>
<rect x="345.7" y="161" width="279.0" height="1.02" fill="url(#h125)"/>
<rect x="345.7" y="162" width="279.0" height="1.02" fill="url(#h126)"/>
<rect x="345.7" y="163" width="279.0" height="1.02" fill="url(#h127)"/>
<rect x="345.7" y="164" width="279.0" height="1.02" fill="url(#h128)"/>
<rect x="345.7" y="165" width="279.0" height="1.02" fill="url(#h129)"/>
<rect x="345.7" y="166" width="279.0" height="1.02" fill="url(#h130)"/>
<rect x="345.7" y="167" width="279.0" height="1.02" fill="url(#h131)"/>
<rect x="345.7" y="168" width="279.0" height="1.02" fill="url(#h132)"/>
<rect x="345.7" y="169" width="279.0" height="1.02" fill="url(#h133)"/>
<rect x="345.7" y="170" width="279.0" height="1.02" fill="url(#h134)"/>
<rect x="345.7" y="171" width="279.0" height="1.02" fill="url(#h135)"/>
<rect x="345.7" y="172" width="279.0" height="1.02" fill="url(#h136)"/>
<rect x="345.7" y="173" width="279.0" height="1.02" fill="url(#h137)"/>
<rect x="345.7" y="174" width="279.0" height="1.02" fill="url(#h138)"/>
<rect x="345.7" y="175" width="279.0" height="1.02" fill="url(#h139)"/>
<rect x="345.7" y="176" width="279.0" height="1.02" fill="url(#h140)"/>
<rect x="345.7" y="177" width="279.0" height="1.02" fill="url(#h141)"/>
<rect x="345.7" y="178" width="279.0" height="1.02" fill="url(#h142)"/>
<rect x="345.7" y="179" width="279.0" height="1.02" fill="url(#h143)"/>
<rect x="345.7" y="180" width="279.0" height="1.02" fill="url(#h144)"/>
<rect x="345.7" y="183" width="279.0" height="1.02" fill="url(#h145)"/>
<rect x="345.7" y="184" width="279.0" height="1.02" fill="url(#h146)"/>
<rect x="345.7" y="185" width="279.0" height="1.02" fill="url(#h147)"/>
<rect x="345.7" y="186" width="279.0" height="1.02" fill="url(#h148)"/>
<rect x="345.7" y="187" width="279.0" height="1.02" fill="url(#h149)"/>
<rect x="345.7" y="188" width="279.0" height="1.02" fill="url(#h150)"/>
<rect x="345.7" y="191" width="279.0" height="1.02" fill="url(#h151)"/>
<rect x="345.7" y="192" width="279.0" height="1.02" fill="url(#h152)"/>
<rect x="345.7" y="193" width="279.0" height="1.02" fill="url(#h153)"/>
<rect x="345.7" y="194" width="279.0" height="1.02" fill="url(#h154)"/>
<rect x="345.7" y="195" width="279.0" height="1.02" fill="url(#h155)"/>
<rect x="345.7" y="196" width="279.0" height="1.02" fill="url(#h156)"/>
<rect x="345.7" y="197" width="279.0" height="1.02" fill="url(#h157)"/>
<rect x="345.7" y="198" width="279.0" height="1.02" fill="url(#h158)"/>
<rect x="345.7" y="199" width="279.0" height="1.02" fill="url(#h159)"/>
<rect x="345.7" y="200" width="279.0" height="1.02" fill="url(#h160)"/>
<rect x="345.7" y="201" width="279.0" height="1.02" fill="url(#h161)"/>
<rect x="345.7" y="202" width="279.0" height="1.02" fill="url(#h162)"/>
<rect x="345.7" y="203" width="279.0" height="1.02" fill="url(#h163)"/>
<rect x="345.7" y="204" width="279.0" height="1.02" fill="url(#h164)"/>
<rect x="345.7" y="205" width="279.0" height="1.02" fill="url(#h165)"/>
<rect x="345.7" y="206" width="279.0" height="1.02" fill="url(#h166)"/>
<rect x="345.7" y="207" width="279.0" height="1.02" fill="url(#h167)"/>
<rect x="345.7" y="208" width="279.0" height="1.02" fill="url(#h168)"/>
<rect x="345.7" y="209" width="279.0" height="1.02" fill="url(#h169)"/>
<rect x="345.7" y="210" width="279.0" height="1.02" fill="url(#h170)"/>
<rect x="345.7" y="211" width="279.0" height="1.02" fill="url(#h171)"/>
<rect x="345.7" y="212" width="279.0" height="1.02" fill="url(#h172)"/>
<rect x="345.7" y="213" width="279.0" height="1.02" fill="url(#h173)"/>
<rect x="345.7" y="214" width="279.0" height="1.02" fill="url(#h174)"/>
<rect x="345.7" y="215" width="279.0" height="1.02" fill="url(#h175)"/>
<rect x="345.7" y="216" width="279.0" height="1.02" fill="url(#h176)"/>
<rect x="345.7" y="217" width="279.0" height="1.02" fill="url(#h177)"/>
<rect x="345.7" y="218" width="279.0" height="1.02" fill="url(#h178)"/>
<rect x="345.7" y="219" width="279.0" height="1.02" fill="url(#h179)"/>
<rect x="345.7" y="220" width="279.0" height="1.02" fill="#e3eaed"/>
<rect x="345.7" y="221" width="279.0" height="1.02" fill="url(#h180)"/>
<rect x="345.7" y="222" width="279.0" height="1.02" fill="url(#h181)"/>
<rect x="345.7" y="223" width="279.0" height="1.02" fill="url(#h182)"/>
<rect x="345.7" y="224" width="279.0" height="1.02" fill="url(#h183)"/>
<rect x="345.7" y="225" width="279.0" height="1.02" fill="url(#h184)"/>
<rect x="345.7" y="226" width="279.0" height="1.02" fill="url(#h185)"/>
<rect x="345.7" y="227" width="279.0" height="1.02" fill="url(#h186)"/>
<rect x="345.7" y="228" width="279.0" height="1.02" fill="url(#h187)"/>
<rect x="345.7" y="229" width="279.0" height="1.02" fill="url(#h188)"/>
<rect x="345.7" y="230" width="279.0" height="1.02" fill="url(#h189)"/>
<rect x="345.7" y="231" width="279.0" height="1.02" fill="url(#h190)"/>
<rect x="345.7" y="232" width="279.0" height="1.02" fill="url(#h191)"/>
<rect x="345.7" y="233" width="279.0" height="1.02" fill="url(#h192)"/>
<rect x="345.7" y="234" width="279.0" height="1.02" fill="#dae7ee"/>
<rect x="345.7" y="235" width="279.0" height="1.02" fill="url(#h193)"/>
<rect x="345.7" y="236" width="279.0" height="1.02" fill="url(#h194)"/>
<rect x="345.7" y="237" width="279.0" height="1.02" fill="#d4e3ed"/>
<rect x="345.7" y="238" width="279.0" height="1.02" fill="url(#h195)"/>
<rect x="345.7" y="239" width="279.0" height="1.02" fill="url(#h196)"/>
<rect x="345.7" y="240" width="279.0" height="1.02" fill="url(#h197)"/>
<rect x="345.7" y="241" width="279.0" height="1.02" fill="url(#h198)"/>
<rect x="345.7" y="242" width="279.0" height="1.02" fill="url(#h199)"/>
<rect x="345.7" y="243" width="279.0" height="1.02" fill="url(#h200)"/>
<rect x="345.7" y="244" width="279.0" height="1.02" fill="url(#h201)"/>
<rect x="345.7" y="245" width="279.0" height="1.02" fill="url(#h202)"/>
<rect x="345.7" y="246" width="279.0" height="1.02" fill="url(#h203)"/>
<rect x="345.7" y="247" width="279.0" height="1.02" fill="url(#h204)"/>
<rect x="345.7" y="248" width="279.0" height="1.02" fill="url(#h205)"/>
<rect x="345.7" y="249" width="279.0" height="1.02" fill="url(#h206)"/>
<rect x="345.7" y="250" width="279.0" height="1.02" fill="url(#h207)"/>
<rect x="345.7" y="251" width="279.0" height="1.02" fill="url(#h208)"/>
<rect x="345.7" y="252" width="279.0" height="1.02" fill="url(#h209)"/>
<rect x="345.7" y="253" width="279.0" height="1.02" fill="url(#h210)"/>
<rect x="345.7" y="254" width="279.0" height="1.02" fill="url(#h211)"/>
<rect x="345.7" y="255" width="279.0" height="1.02" fill="url(#h212)"/>
<rect x="345.7" y="256" width="279.0" height="1.02" fill="url(#h213)"/>
<rect x="345.7" y="257" width="279.0" height="1.02" fill="url(#h214)"/>
<rect x="345.7" y="258" width="279.0" height="1.02" fill="url(#h215)"/>
<rect x="345.7" y="259" width="279.0" height="1.02" fill="url(#h216)"/>
<rect x="345.7" y="260" width="279.0" height="1.02" fill="url(#h217)"/>
<rect x="345.7" y="261" width="279.0" height="1.02" fill="url(#h218)"/>
<rect x="345.7" y="262" width="279.0" height="1.02" fill="url(#h219)"/>
<rect x="345.7" y="263" width="279.0" height="1.02" fill="url(#h220)"/>
<rect x="345.7" y="264" width="279.0" height="1.02" fill="#cde0eb"/>
<rect x="345.7" y="265" width="279.0" height="1.02" fill="url(#h221)"/>
<rect x="345.7" y="266" width="279.0" height="1.02" fill="url(#h222)"/>
<rect x="345.7" y="267" width="279.0" height="1.02" fill="url(#h223)"/>
<rect x="345.7" y="268" width="279.0" height="1.02" fill="url(#h224)"/>
<rect x="345.7" y="269" width="279.0" height="1.02" fill="url(#h225)"/>
<rect x="345.7" y="270" width="279.0" height="1.02" fill="#caddea"/>
<rect x="345.7" y="271" width="279.0" height="1.02" fill="url(#h226)"/>
<rect x="345.7" y="272" width="279.0" height="1.02" fill="url(#h227)"/>
<rect x="345.7" y="273" width="279.0" height="1.02" fill="url(#h228)"/>
<rect x="345.7" y="274" width="279.0" height="1.02" fill="url(#h229)"/>
<rect x="345.7" y="275" width="279.0" height="1.02" fill="url(#h230)"/>
<rect x="345.7" y="276" width="279.0" height="1.02" fill="url(#h231)"/>
<rect x="345.7" y="277" width="279.0" height="1.02" fill="url(#h232)"/>
<rect x="345.7" y="278" width="279.0" height="1.02" fill="url(#h233)"/>
<rect x="345.7" y="279" width="279.0" height="1.02" fill="url(#h234)"/>
<rect x="345.7" y="280" width="279.0" height="1.02" fill="url(#h235)"/>
<rect x="345.7" y="281" width="279.0" height="1.02" fill="url(#h236)"/>
<rect x="345.7" y="282" width="279.0" height="1.02" fill="url(#h237)"/>
<rect x="345.7" y="283" width="279.0" height="1.02" fill="url(#h238)"/>
<rect x="345.7" y="284" width="279.0" height="1.02" fill="#dde8ee"/>
<rect x="345.7" y="285" width="279.0" height="1.02" fill="url(#h239)"/>
<rect x="345.7" y="286" width="279.0" height="1.02" fill="url(#h240)"/>
<rect x="345.7" y="287" width="279.0" height="1.02" fill="url(#h241)"/>
<rect x="345.7" y="288" width="279.0" height="1.02" fill="url(#h242)"/>
<rect x="345.7" y="289" width="279.0" height="1.02" fill="url(#h243)"/>
<rect x="345.7" y="290" width="279.0" height="1.02" fill="url(#h244)"/>
<rect x="345.7" y="291" width="279.0" height="1.02" fill="url(#h245)"/>
<rect x="345.7" y="292" width="279.0" height="1.02" fill="url(#h246)"/>
<rect x="345.7" y="293" width="279.0" height="1.02" fill="url(#h247)"/>
<rect x="345.7" y="294" width="279.0" height="1.02" fill="url(#h248)"/>
<rect x="345.7" y="295" width="279.0" height="1.02" fill="url(#h249)"/>
<rect x="345.7" y="296" width="279.0" height="1.02" fill="url(#h250)"/>
<rect x="345.7" y="297" width="279.0" height="1.02" fill="url(#h251)"/>
<rect x="345.7" y="298" width="279.0" height="1.02" fill="url(#h252)"/>
<rect x="345.7" y="299" width="279.0" height="1.02" fill="url(#h253)"/>
<rect x="345.7" y="300" width="279.0" height="1.02" fill="url(#h254)"/>
<rect x="345.7" y="301" width="279.0" height="1.02" fill="url(#h255)"/>
<rect x="345.7" y="302" width="279.0" height="1.02" fill="url(#h256)"/>
<rect x="345.7" y="303" width="279.0" height="1.02" fill="url(#h257)"/>
<rect x="345.7" y="304" width="279.0" height="1.02" fill="url(#h258)"/>
<rect x="345.7" y="305" width="279.0" height="1.02" fill="url(#h259)"/>
<rect x="345.7" y="306" width="279.0" height="1.02" fill="url(#h260)"/>
<rect x="345.7" y="307" width="279.0" height="1.02" fill="url(#h261)"/>
<rect x="345.7" y="308" width="279.0" height="1.02" fill="url(#h262)"/>
<rect x="345.7" y="309" width="279.0" height="1.02" fill="url(#h263)"/>
<rect x="345.7" y="310" width="279.0" height="1.02" fill="url(#h264)"/>
<rect x="345.7" y="311" width="279.0" height="1.02" fill="url(#h265)"/>
<rect x="345.7" y="312" width="279.0" height="1.02" fill="url(#h266)"/>
<rect x="345.7" y="313" width="279.0" height="1.02" fill="url(#h267)"/>
<rect x="345.7" y="314" width="279.0" height="1.02" fill="url(#h268)"/>
<rect x="345.7" y="315" width="279.0" height="1.02" fill="url(#h269)"/>
<rect x="345.7" y="316" width="279.0" height="1.02" fill="url(#h270)"/>
<rect x="345.7" y="317" width="279.0" height="1.02" fill="url(#h271)"/>
<rect x="345.7" y="318" width="279.0" height="1.02" fill="url(#h272)"/>
<rect x="345.7" y="319" width="279.0" height="1.02" fill="url(#h273)"/>
<rect x="345.7" y="320" width="279.0" height="1.02" fill="url(#h274)"/>
<rect x="345.7" y="321" width="279.0" height="1.02" fill="url(#h275)"/>
<rect x="345.7" y="322" width="279.0" height="1.02" fill="url(#h276)"/>
<rect x="345.7" y="323" width="279.0" height="1.02" fill="url(#h277)"/>
<rect x="345.7" y="324" width="279.0" height="1.02" fill="url(#h278)"/>
<rect x="345.7" y="325" width="279.0" height="1.02" fill="url(#h279)"/>
<rect x="345.7" y="326" width="279.0" height="1.02" fill="url(#h280)"/>
<rect x="345.7" y="327" width="279.0" height="1.02" fill="url(#h281)"/>
<rect x="345.7" y="328" width="279.0" height="1.02" fill="url(#h282)"/>
<rect x="345.7" y="329" width="279.0" height="1.02" fill="url(#h283)"/>
<rect x="345.7" y="330" width="279.0" height="1.02" fill="#cbdeeb"/>
<rect x="345.7" y="331" width="279.0" height="1.02" fill="url(#h284)"/>
<rect x="345.7" y="332" width="279.0" height="1.02" fill="url(#h285)"/>
<rect x="345.7" y="333" width="279.0" height="1.02" fill="url(#h286)"/>
<rect x="345.7" y="334" width="279.0" height="1.02" fill="url(#h287)"/>
<rect x="345.7" y="335" width="279.0" height="1.02" fill="url(#h288)"/>
<rect x="345.7" y="336" width="279.0" height="1.02" fill="url(#h289)"/>
<rect x="345.7" y="337" width="279.0" height="1.02" fill="url(#h290)"/>
<rect x="345.7" y="338" width="279.0" height="1.02" fill="url(#h291)"/>
<rect x="345.7" y="339" width="279.0" height="1.02" fill="url(#h292)"/>
<rect x="345.7" y="340" width="279.0" height="1.02" fill="url(#h293)"/>
<rect x="345.7" y="341" width="279.0" height="1.02" fill="url(#h294)"/>
<rect x="345.7" y="32.7" width="279.0" height="309.3" filter="url(#speck)" opacity="0.45"/>
<rect x="345.7" y="32.7" width="279.0" height="309.3" filter="url(#speck2)" opacity="0.4"/>
<rect x="345.7" y="125.1" width="279.0" height="1.80" fill="#fff"/>
<rect x="345.7" y="181.8" width="279.0" height="1.20" fill="#fff"/>
<rect x="345.7" y="189.7" width="279.0" height="1.30" fill="#fff"/>
<text x="359.9" y="9.1" font-size="9.5" fill="#231f20" textLength="28.6" lengthAdjust="spacingAndGlyphs" stroke="#231f20" stroke-width="0.18">Airway</text>
<text x="359.9" y="20.5" font-size="9.5" fill="#231f20" textLength="28.6" lengthAdjust="spacingAndGlyphs" stroke="#231f20" stroke-width="0.18">stretch</text>
<text x="406.9" y="9.1" font-size="9.5" fill="#231f20" textLength="57.9" lengthAdjust="spacingAndGlyphs" stroke="#231f20" stroke-width="0.18">Blood volume</text>
<text x="419.8" y="20.5" font-size="9.5" fill="#231f20" textLength="32.3" lengthAdjust="spacingAndGlyphs" stroke="#231f20" stroke-width="0.18">infusion</text>
<text x="565.6" y="9.1" font-size="9.5" fill="#231f20" textLength="28.2" lengthAdjust="spacingAndGlyphs" stroke="#231f20" stroke-width="0.18">Airway</text>
<text x="565.4" y="20.5" font-size="9.5" fill="#231f20" textLength="28.6" lengthAdjust="spacingAndGlyphs" stroke="#231f20" stroke-width="0.18">stretch</text>
<path d="M371,31.4 L372.9,25.8 L374.7,25.8 L376.6,31.4 Z" fill="#1a1a1a"/>
<path d="M577.5,31.4 L579.4,25.6 L581.2,25.6 L583.1,31.4 Z" fill="#1a1a1a"/>
<path d="M396.4,31.5 L414,24.9 L441.4,25 L488,31.2 Z" fill="#e8202a"/>
<text x="337.5" y="36.9" font-size="9" fill="#231f20" stroke="#231f20" stroke-width="0.18">1</text>
<text x="326.8" y="194.3" font-size="9.5" fill="#231f20" textLength="15.5" lengthAdjust="spacingAndGlyphs" stroke="#231f20" stroke-width="0.18">140</text>
<text transform="translate(339.9,105.5) rotate(-90)" font-size="9.3" fill="#231f20" textLength="49.7" lengthAdjust="spacingAndGlyphs" stroke="#231f20" stroke-width="0.18">Cell number</text>
<text x="326.4" y="355.2" font-size="9" fill="#231f20" textLength="28.2" lengthAdjust="spacingAndGlyphs" stroke="#231f20" stroke-width="0.18">(1,382)</text>
<rect x="546" y="345" width="18.3" height="2.3" fill="#1a1a1a"/>
<text x="546" y="357.8" font-size="9.2" fill="#231f20" textLength="18" lengthAdjust="spacingAndGlyphs" stroke="#231f20" stroke-width="0.18">20 s</text>
<text x="576" y="355" font-size="9.2" fill="#231f20" textLength="17.8" lengthAdjust="spacingAndGlyphs" stroke="#231f20" stroke-width="0.18">−2.0</text>
<text x="636.4" y="355" font-size="9.2" fill="#231f20" textLength="12.9" lengthAdjust="spacingAndGlyphs" stroke="#231f20" stroke-width="0.18">2.5</text>
<defs><linearGradient id="cbar"><stop offset="0.000" stop-color="#582860"/><stop offset="0.091" stop-color="#2d4c8c"/><stop offset="0.182" stop-color="#306ea4"/><stop offset="0.273" stop-color="#76a6c9"/><stop offset="0.364" stop-color="#c9ddea"/><stop offset="0.455" stop-color="#ece8e5"/><stop offset="0.545" stop-color="#ecc2a8"/><stop offset="0.636" stop-color="#da926b"/><stop offset="0.727" stop-color="#c0663f"/><stop offset="0.818" stop-color="#9f3d21"/><stop offset="0.909" stop-color="#7e1e13"/><stop offset="1.000" stop-color="#600a12"/></linearGradient></defs>
<rect x="596.8" y="350" width="36.5" height="4" fill="url(#cbar)"/>
<text x="603" y="364.6" font-size="9.2" font-style="italic" fill="#231f20" stroke="#231f20" stroke-width="0.18">Δ<tspan>F</tspan>/<tspan>F</tspan><tspan font-size="6.5" font-style="normal" dy="2.4">0</tspan></text>
<polygon points="635,32.9 646.4,29.9 646.4,50 635,123.5" fill="#f6c4c8"/>
<polygon points="635,127 646.4,50 646.4,68.3 635,195.5" fill="#d8d8d8" opacity="0.9"/>
<rect x="628.7" y="32.9" width="6.4" height="90.6" fill="#e8202a"/>
<rect x="628.7" y="127" width="6.4" height="54.4" fill="#231f20"/>
<rect x="628.7" y="183.5" width="6.4" height="6.6" fill="#6b63c8"/>
<rect x="628.7" y="195.5" width="6.4" height="141.2" fill="#707174"/>
<rect x="646.4" y="29.9" width="6.6" height="20.1" fill="#e8202a"/>
<rect x="646.4" y="50" width="6.6" height="14.8" fill="#231f20"/>
<rect x="646.4" y="64.8" width="6.6" height="1.6" fill="#f0f0f0"/>
<rect x="646.4" y="65.8" width="6.6" height="2.4" fill="#6b63c8"/>
<rect x="646.4" y="68.2" width="6.6" height="273" fill="#707174"/>
<text x="657.4" y="42.4" font-size="9.6" fill="#e8202a" textLength="22.6" lengthAdjust="spacingAndGlyphs" stroke="#e8202a" stroke-width="0.18">6.3%</text>
<text x="657.4" y="60" font-size="9.6" fill="#231f20" textLength="22.6" lengthAdjust="spacingAndGlyphs" stroke="#231f20" stroke-width="0.18">5.0%</text>
<text x="657.4" y="75.5" font-size="9.6" fill="#7b6fd6" textLength="22.6" lengthAdjust="spacingAndGlyphs" stroke="#7b6fd6" stroke-width="0.18">0.5%</text>
<text x="657.4" y="197.6" font-size="9.6" fill="#58595b" textLength="27.6" lengthAdjust="spacingAndGlyphs" stroke="#58595b" stroke-width="0.18">88.2%</text>
<defs><filter id="cb" x="-30%" y="-30%" width="160%" height="160%"><feGaussianBlur stdDeviation="0.7"/></filter><filter id="cb2" x="-30%" y="-30%" width="160%" height="160%"><feGaussianBlur stdDeviation="1.1"/></filter><radialGradient id="holeB"><stop offset="0" stop-color="#062426"/><stop offset="0.55" stop-color="#0c3c3e"/><stop offset="1" stop-color="#2ee3e6" stop-opacity="0"/></radialGradient></defs>
<rect x="0" y="235.9" width="168.6" height="68.8" fill="#000"/>
<rect x="0" y="307.2" width="168.6" height="69.0" fill="#000"/>
<rect x="0" y="379.1" width="168.6" height="69.5" fill="#000"/>
<g filter="url(#cb)"><path d="M37.5,237.6 C41,236.4 45,238 49.3,240.8 C50.6,242 50,244.5 48.6,246.8 C46.8,249.6 44.8,252.4 42.4,252.4 C40,251.8 37.6,248.6 36.6,245 C36,242 36.1,238.8 37.5,237.6 Z" fill="#ff1c1c"/><ellipse cx="41.6" cy="243.6" rx="3.1" ry="2.9" fill="#000"/></g>
<g filter="url(#cb)"><path d="M80.2,290.4 C84,288.4 92,286.6 98.6,287 C99.8,288.6 98.6,291.5 97.6,294 C96.4,297.5 94.6,301.4 92,302.4 C89,302.2 86,299 83,296.6 C80.6,294.8 79.2,292.4 80.2,290.4 Z" fill="#c00d0d"/><ellipse cx="91" cy="294.4" rx="3.8" ry="3.6" fill="#000"/></g>
<ellipse cx="129" cy="268.5" rx="2.5" ry="4" fill="#3a0606" filter="url(#cb2)"/>
<g filter="url(#cb2)"><path d="M19,318 C23,316 29,316 31.5,318.5 C33,322 34.5,327 34,331 C33,334.5 28,336.5 23,337.5 C19,338 16.5,336 16,332 C15.4,328 16.8,323 17.2,320 Z" fill="#1a9ea0"/><ellipse cx="25" cy="327" rx="4.5" ry="4" fill="#147a7c" opacity="0.7"/></g><g filter="url(#cb)"><path d="M117,328.5 C122,327.2 132,327 136.5,328.5 C138.6,332 139,340 138.6,347 C137,350.6 130,351.4 124,350.8 C119,351 116,348.6 115.2,344 C114.6,338 114.8,332 117,328.5 Z" fill="#2ee3e6"/><ellipse cx="123.4" cy="337.8" rx="5.6" ry="6.2" fill="url(#holeB)"/></g><g filter="url(#cb)"><path d="M141,360 C145,357.2 152,356.8 157.2,358.6 C159.6,361 159.4,366 157,369.6 C154.4,372.8 150,374.6 145,375.2 C141.6,375.4 139.2,372.6 139,368 C138.8,364.6 139.4,361.6 141,360 Z" fill="#1fc3c8"/><ellipse cx="150.3" cy="364.9" rx="4.6" ry="4.1" fill="#000"/></g>
<g filter="url(#cb2)"><path d="M19,390 C23,388 29,388 31.5,390.5 C33,394 34.5,399 34,403 C33,406.5 28,408.5 23,409.5 C19,410 16.5,408 16,404 C15.4,400 16.8,395 17.2,392 Z" fill="#1a9ea0"/><ellipse cx="25" cy="399" rx="4.5" ry="4" fill="#147a7c" opacity="0.7"/></g><g filter="url(#cb)"><path d="M117,400.5 C122,399.2 132,399 136.5,400.5 C138.6,404 139,412 138.6,419 C137,422.6 130,423.4 124,422.8 C119,423 116,420.6 115.2,416 C114.6,410 114.8,404 117,400.5 Z" fill="#2ee3e6"/><ellipse cx="123.4" cy="409.8" rx="5.6" ry="6.2" fill="url(#holeB)"/></g><g filter="url(#cb)"><path d="M141,432 C145,429.2 152,428.8 157.2,430.6 C159.6,433 159.4,438 157,441.6 C154.4,444.8 150,446.6 145,447.2 C141.6,447.4 139.2,444.6 139,440 C138.8,436.6 139.4,433.6 141,432 Z" fill="#1fc3c8"/><ellipse cx="150.3" cy="436.9" rx="4.6" ry="4.1" fill="#000"/></g>
<g filter="url(#cb)"><path d="M37.5,380.2 C41,379.0 45,380.6 49.3,383.4 C50.6,384.6 50,387.1 48.6,389.4 C46.8,392.2 44.8,395.0 42.4,395.0 C40,394.4 37.6,391.2 36.6,387.6 C36,384.6 36.1,381.4 37.5,380.2 Z" fill="#ff1c1c"/><ellipse cx="41.6" cy="386.2" rx="3.1" ry="2.9" fill="#000"/></g>
<g filter="url(#cb)"><path d="M80.2,432.59999999999997 C84,430.59999999999997 92,428.8 98.6,429.2 C99.8,430.8 98.6,433.7 97.6,436.2 C96.4,439.7 94.6,443.59999999999997 92,444.59999999999997 C89,444.4 86,441.2 83,438.8 C80.6,437.0 79.2,434.59999999999997 80.2,432.59999999999997 Z" fill="#c40e0e"/><ellipse cx="91" cy="436.59999999999997" rx="3.8" ry="3.6" fill="#000"/></g>
<rect x="2.1" y="299.8" width="20.6" height="1.9" fill="#fff"/>
<rect x="2.1" y="370.9" width="20.6" height="1.9" fill="#fff"/>
<rect x="2.1" y="443.9" width="20.6" height="1.9" fill="#fff"/>
<text x="105.9" y="246.7" font-size="9" fill="#fff" textLength="56.6" lengthAdjust="spacingAndGlyphs" stroke="#fff" stroke-width="0.18">Blood volume</text>
<text x="130.9" y="258" font-size="9" fill="#fff" textLength="31.6" lengthAdjust="spacingAndGlyphs" stroke="#fff" stroke-width="0.18">infusion</text>
<text x="103.6" y="318.5" font-size="9" fill="#fff" textLength="58.9" lengthAdjust="spacingAndGlyphs" stroke="#fff" stroke-width="0.18">Airway stretch</text>
<text x="136.6" y="391.5" font-size="9.5" fill="#fff" textLength="26.3" lengthAdjust="spacingAndGlyphs" stroke="#fff" stroke-width="0.18">Merge</text>
<text x="182.7" y="241.8" font-size="8.2" fill="#231f20" textLength="5.9" lengthAdjust="spacingAndGlyphs" stroke="#231f20" stroke-width="0.18">A</text>
<text x="286.6" y="241.8" font-size="8.2" fill="#231f20" textLength="6.1" lengthAdjust="spacingAndGlyphs" stroke="#231f20" stroke-width="0.18">A</text>
<text x="209.8" y="241.8" font-size="8.2" fill="#e8202a" textLength="6.6" lengthAdjust="spacingAndGlyphs" stroke="#e8202a" stroke-width="0.18">B</text>
<path d="M184.5,251.4 L185.3,247.4 L186.1,247.4 L186.9,251.4 Z" fill="#1a1a1a"/>
<path d="M288.4,251.4 L289.2,247.4 L290,247.4 L290.8,251.4 Z" fill="#1a1a1a"/>
<path d="M197.8,251.4 L205.8,246 L220.4,246 L243.4,251.4 Z" fill="#e8202a"/>
<polyline points="173.9,282.1 174.3,283.1 174.7,282.5 175.1,282.5 175.5,282.5 175.9,282.9 176.3,282.2 176.7,283.2 177.1,282.8 177.5,282.6 177.9,282.5 178.3,282.8 178.7,283.1 179.1,283.1 179.5,282.7 179.9,283.0 180.3,282.6 180.7,283.3 181.1,282.5 181.5,281.3 181.9,283.3 182.3,282.6 182.7,281.8 183.1,282.4 183.5,282.0 183.9,283.8 184.3,282.8 184.7,281.6 185.1,282.9 185.5,282.3 185.9,283.7 186.3,281.9 186.7,281.2 187.1,282.6 187.5,282.3 187.9,282.3 188.3,281.3 188.7,282.8 189.1,283.5 189.5,281.4 189.9,283.3 190.3,282.2 190.7,284.0 191.1,282.8 191.5,282.4 191.9,283.2 192.3,282.9 192.7,282.2 193.1,283.0 193.5,282.3 193.9,281.5 194.3,283.8 194.7,282.4 195.1,282.2 195.5,282.8 195.9,281.6 196.3,281.8 196.7,282.3 197.1,282.3 197.5,282.6 197.9,283.2 198.3,282.3 198.7,282.9 199.1,282.9 199.5,281.9 199.9,282.7 200.3,282.0 200.7,283.2 201.1,282.9 201.5,282.6 201.9,281.8 202.3,282.7 202.7,282.1 203.1,283.0 203.5,281.9 203.9,279.0 204.3,277.6 204.7,275.1 205.1,271.8 205.5,270.7 205.9,267.7 206.3,265.6 206.7,263.8 207.1,261.4 207.5,260.5 207.9,259.5 208.3,259.4 208.7,258.3 209.1,256.3 209.5,257.0 209.9,255.6 210.3,255.4 210.7,255.2 211.1,254.4 211.5,255.3 211.9,254.4 212.3,254.0 212.7,255.9 213.1,255.4 213.5,255.9 213.9,254.7 214.3,257.3 214.7,257.3 215.1,257.3 215.5,257.5 215.9,258.0 216.3,257.3 216.7,258.3 217.1,257.7 217.5,258.4 217.9,259.6 218.3,259.6 218.7,259.0 219.1,260.4 219.5,260.4 219.9,260.3 220.3,261.3 220.7,261.1 221.1,260.6 221.5,261.2 221.9,263.9 222.3,262.9 222.7,264.9 223.1,266.1 223.5,267.1 223.9,267.0 224.3,268.5 224.7,269.9 225.1,271.7 225.5,272.3 225.9,273.4 226.3,276.1 226.7,277.2 227.1,277.6 227.5,277.8 227.9,279.3 228.3,279.9 228.7,280.9 229.1,279.9 229.5,280.9 229.9,281.0 230.3,280.7 230.7,281.7 231.1,281.9 231.5,281.8 231.9,282.4 232.3,281.3 232.7,282.2 233.1,282.5 233.5,282.5 233.9,283.0 234.3,281.7 234.7,281.6 235.1,282.7 235.5,282.9 235.9,283.9 236.3,283.1 236.7,282.2 237.1,283.2 237.5,282.2 237.9,281.8 238.3,284.3 238.7,282.9 239.1,283.1 239.5,283.0 239.9,283.8 240.3,282.9 240.7,283.4 241.1,282.1 241.5,281.9 241.9,283.6 242.3,283.6 242.7,283.0 243.1,282.8 243.5,282.8 243.9,282.3 244.3,283.6 244.7,283.1 245.1,283.0 245.5,282.9 245.9,283.3 246.3,283.0 246.7,283.2 247.1,282.0 247.5,283.0 247.9,284.0 248.3,282.4 248.7,282.6 249.1,283.3 249.5,283.3 249.9,283.1 250.3,281.8 250.7,283.0 251.1,282.0 251.5,282.2 251.9,283.1 252.3,282.6 252.7,283.2 253.1,284.6 253.5,283.2 253.9,283.2 254.3,282.2 254.7,282.4 255.1,282.1 255.5,282.4 255.9,282.1 256.3,282.3 256.7,282.6 257.1,282.1 257.5,281.9 257.9,281.9 258.3,283.0 258.7,282.8 259.1,283.4 259.5,283.4 259.9,282.6 260.3,283.2 260.7,281.9 261.1,284.1 261.5,283.5 261.9,282.6 262.3,282.1 262.7,283.0 263.1,281.6 263.5,282.3 263.9,283.2 264.3,282.8 264.7,282.5 265.1,283.3 265.5,282.1 265.9,282.9 266.3,282.5 266.7,282.3 267.1,283.1 267.5,282.2 267.9,283.9 268.3,282.4 268.7,284.0 269.1,282.1 269.5,283.1 269.9,282.1 270.3,282.0 270.7,282.9 271.1,283.2 271.5,282.0 271.9,283.5 272.3,282.3 272.7,282.9 273.1,283.0 273.5,283.2 273.9,281.7 274.3,283.8 274.7,283.1 275.1,282.5 275.5,282.2 275.9,281.8 276.3,282.0 276.7,283.1 277.1,282.6 277.5,282.1 277.9,282.5 278.3,283.7 278.7,282.6 279.1,282.5 279.5,283.6 279.9,283.1 280.3,282.8 280.7,282.5 281.1,281.9 281.5,282.1 281.9,282.5 282.3,282.7 282.7,283.0 283.1,283.2 283.5,283.0 283.9,283.0 284.3,282.2 284.7,281.5 285.1,282.5 285.5,282.3 285.9,282.4 286.3,282.7 286.7,282.1 287.1,282.2 287.5,282.8 287.9,282.9 288.3,282.4 288.7,283.1 289.1,282.7 289.5,282.2 289.9,282.9 290.3,284.0 290.7,282.4 291.1,283.5 291.5,283.7 291.9,283.8 292.3,282.4 292.7,284.1 293.1,282.9 293.5,282.7 293.9,282.7 294.3,283.2 294.7,282.9 295.1,282.8 295.5,283.6 295.9,282.4 296.3,282.2 296.7,283.3 297.1,283.3 297.5,283.5 297.9,282.2 298.3,283.5 298.7,283.2 299.1,283.9 299.5,282.1 299.9,283.0 300.3,282.7 300.7,281.9 301.1,282.4 301.5,283.6 301.9,282.6 302.3,282.4 302.7,283.4 303.1,283.5 303.5,283.5 303.9,282.4 304.3,282.9 304.7,283.5 305.1,282.5 305.5,282.4 305.9,283.4 306.3,283.8 306.7,282.2 307.1,281.3 307.5,282.0 307.9,282.3 308.3,282.8" fill="none" stroke="#ff0000" stroke-width="0.95" stroke-linejoin="round"/>
<polyline points="173.9,321.4 174.3,320.5 174.7,320.4 175.1,322.0 175.5,320.8 175.9,321.6 176.3,320.5 176.7,324.5 177.1,321.8 177.5,319.6 177.9,319.4 178.3,320.1 178.7,319.2 179.1,320.2 179.5,320.4 179.9,322.2 180.3,320.2 180.7,320.0 181.1,318.8 181.5,319.5 181.9,321.1 182.3,321.1 182.7,322.8 183.1,320.3 183.5,322.3 183.9,320.7 184.3,320.5 184.7,317.9 185.1,319.3 185.5,322.2 185.9,323.2 186.3,322.1 186.7,322.6 187.1,321.3 187.5,321.2 187.9,320.5 188.3,322.4 188.7,322.2 189.1,321.5 189.5,321.1 189.9,321.8 190.3,321.4 190.7,320.2 191.1,322.6 191.5,320.9 191.9,321.2 192.3,323.7 192.7,323.3 193.1,321.9 193.5,322.8 193.9,320.9 194.3,321.1 194.7,318.6 195.1,323.4 195.5,319.5 195.9,322.5 196.3,320.9 196.7,320.9 197.1,321.9 197.5,322.2 197.9,322.9 198.3,324.3 198.7,322.3 199.1,322.5 199.5,320.5 199.9,321.8 200.3,320.7 200.7,319.9 201.1,319.9 201.5,320.1 201.9,320.7 202.3,321.3 202.7,319.9 203.1,319.7 203.5,321.3 203.9,317.4 204.3,317.7 204.7,319.7 205.1,314.3 205.5,315.5 205.9,316.2 206.3,312.2 206.7,316.2 207.1,309.0 207.5,314.4 207.9,314.6 208.3,314.6 208.7,313.1 209.1,311.8 209.5,308.5 209.9,308.2 210.3,306.2 210.7,308.1 211.1,310.8 211.5,309.7 211.9,307.6 212.3,305.9 212.7,304.0 213.1,309.5 213.5,310.4 213.9,296.1 214.3,291.7 214.7,299.6 215.1,306.8 215.5,308.0 215.9,308.1 216.3,311.3 216.7,308.9 217.1,309.7 217.5,307.7 217.9,307.7 218.3,307.1 218.7,309.6 219.1,311.3 219.5,315.7 219.9,314.6 220.3,315.2 220.7,313.7 221.1,311.1 221.5,309.0 221.9,307.7 222.3,306.2 222.7,308.6 223.1,311.0 223.5,311.6 223.9,310.7 224.3,312.3 224.7,309.6 225.1,307.8 225.5,308.0 225.9,299.5 226.3,293.3 226.7,293.4 227.1,298.0 227.5,307.4 227.9,305.6 228.3,307.0 228.7,307.3 229.1,309.0 229.5,307.0 229.9,306.2 230.3,302.7 230.7,305.0 231.1,304.5 231.5,308.6 231.9,310.4 232.3,310.0 232.7,312.5 233.1,310.9 233.5,310.6 233.9,309.3 234.3,309.4 234.7,311.6 235.1,312.5 235.5,310.2 235.9,314.5 236.3,313.7 236.7,314.1 237.1,313.5 237.5,311.3 237.9,311.0 238.3,314.5 238.7,313.8 239.1,312.2 239.5,314.8 239.9,314.6 240.3,313.4 240.7,313.4 241.1,314.6 241.5,316.9 241.9,316.6 242.3,316.3 242.7,316.6 243.1,316.7 243.5,312.9 243.9,315.1 244.3,314.4 244.7,313.9 245.1,315.3 245.5,316.4 245.9,316.3 246.3,315.5 246.7,317.1 247.1,320.6 247.5,317.4 247.9,316.7 248.3,319.5 248.7,320.0 249.1,319.6 249.5,317.8 249.9,320.3 250.3,317.9 250.7,317.7 251.1,317.9 251.5,319.4 251.9,320.2 252.3,319.9 252.7,319.6 253.1,320.8 253.5,319.5 253.9,320.0 254.3,315.4 254.7,312.4 255.1,312.5 255.5,307.3 255.9,306.2 256.3,311.0 256.7,314.8 257.1,318.1 257.5,320.2 257.9,315.3 258.3,319.4 258.7,321.0 259.1,319.0 259.5,319.7 259.9,320.5 260.3,322.2 260.7,318.6 261.1,320.8 261.5,320.3 261.9,320.8 262.3,320.4 262.7,321.0 263.1,319.5 263.5,320.0 263.9,318.9 264.3,319.1 264.7,319.8 265.1,320.1 265.5,319.1 265.9,322.5 266.3,320.5 266.7,319.0 267.1,322.0 267.5,319.6 267.9,321.1 268.3,320.5 268.7,320.6 269.1,320.5 269.5,319.3 269.9,320.4 270.3,322.3 270.7,316.7 271.1,319.6 271.5,320.4 271.9,318.7 272.3,318.1 272.7,322.7 273.1,319.5 273.5,322.8 273.9,320.8 274.3,320.6 274.7,321.3 275.1,321.5 275.5,322.7 275.9,321.8 276.3,321.4 276.7,322.0 277.1,323.3 277.5,322.9 277.9,320.6 278.3,320.9 278.7,322.4 279.1,320.6 279.5,320.6 279.9,319.9 280.3,320.8 280.7,322.3 281.1,322.0 281.5,321.2 281.9,324.1 282.3,321.3 282.7,325.2 283.1,322.2 283.5,322.6 283.9,321.1 284.3,317.8 284.7,321.5 285.1,322.4 285.5,324.4 285.9,319.5 286.3,324.0 286.7,321.8 287.1,323.0 287.5,318.7 287.9,321.9 288.3,321.8 288.7,323.0 289.1,322.8 289.5,320.5 289.9,322.8 290.3,323.0 290.7,323.0 291.1,322.8 291.5,322.5 291.9,321.7 292.3,320.3 292.7,319.8 293.1,323.1 293.5,322.5 293.9,321.9 294.3,321.1 294.7,321.6 295.1,321.7 295.5,321.7 295.9,321.5 296.3,324.8 296.7,322.8 297.1,322.0 297.5,321.5 297.9,322.0 298.3,324.1 298.7,324.5 299.1,323.2 299.5,323.4 299.9,322.9 300.3,322.0 300.7,324.4 301.1,322.6 301.5,324.7 301.9,321.0 302.3,321.7 302.7,323.0 303.1,321.4 303.5,320.6 303.9,321.5 304.3,322.8 304.7,323.0 305.1,322.1 305.5,323.5 305.9,322.8 306.3,321.9 306.7,321.0 307.1,320.7 307.5,321.9 307.9,322.7 308.3,322.2" fill="none" stroke="#ff0000" stroke-width="0.95" stroke-linejoin="round"/>
<polyline points="173.9,348.1 174.3,349.7 174.7,349.7 175.1,348.1 175.5,349.9 175.9,349.9 176.3,349.1 176.7,350.3 177.1,351.0 177.5,348.2 177.9,348.0 178.3,345.2 178.7,347.8 179.1,346.9 179.5,344.4 179.9,347.8 180.3,348.4 180.7,347.1 181.1,348.1 181.5,348.1 181.9,350.6 182.3,347.6 182.7,349.4 183.1,352.4 183.5,349.7 183.9,349.6 184.3,348.7 184.7,347.0 185.1,348.6 185.5,349.1 185.9,347.0 186.3,349.5 186.7,351.2 187.1,351.2 187.5,347.8 187.9,348.7 188.3,347.8 188.7,351.2 189.1,350.2 189.5,350.0 189.9,348.0 190.3,347.7 190.7,349.2 191.1,349.3 191.5,348.5 191.9,350.0 192.3,350.6 192.7,350.0 193.1,348.4 193.5,346.7 193.9,348.7 194.3,349.7 194.7,348.6 195.1,348.9 195.5,348.4 195.9,350.4 196.3,349.7 196.7,349.6 197.1,348.5 197.5,348.2 197.9,349.6 198.3,347.8 198.7,347.9 199.1,349.0 199.5,351.0 199.9,349.8 200.3,351.3 200.7,349.1 201.1,348.5 201.5,347.0 201.9,348.3 202.3,351.1 202.7,349.2 203.1,349.6 203.5,348.3 203.9,346.2 204.3,345.1 204.7,344.6 205.1,344.6 205.5,343.2 205.9,342.4 206.3,341.7 206.7,339.3 207.1,339.7 207.5,338.3 207.9,339.6 208.3,334.8 208.7,336.3 209.1,339.3 209.5,334.9 209.9,332.5 210.3,333.7 210.7,334.5 211.1,331.8 211.5,332.7 211.9,332.8 212.3,333.2 212.7,338.4 213.1,335.0 213.5,335.3 213.9,335.5 214.3,336.4 214.7,337.2 215.1,337.7 215.5,337.2 215.9,334.8 216.3,337.6 216.7,336.3 217.1,335.8 217.5,334.1 217.9,335.4 218.3,335.3 218.7,337.0 219.1,335.5 219.5,338.0 219.9,338.7 220.3,337.3 220.7,338.0 221.1,338.4 221.5,341.5 221.9,336.8 222.3,339.6 222.7,338.2 223.1,341.2 223.5,343.0 223.9,341.3 224.3,343.2 224.7,343.2 225.1,347.7 225.5,346.7 225.9,347.6 226.3,345.2 226.7,346.1 227.1,349.0 227.5,347.3 227.9,347.4 228.3,348.8 228.7,346.5 229.1,349.4 229.5,348.6 229.9,349.7 230.3,348.6 230.7,350.3 231.1,348.7 231.5,350.8 231.9,351.6 232.3,351.0 232.7,350.3 233.1,350.7 233.5,346.4 233.9,351.2 234.3,348.8 234.7,349.8 235.1,349.7 235.5,348.3 235.9,349.6 236.3,351.7 236.7,352.8 237.1,350.0 237.5,349.3 237.9,352.2 238.3,349.3 238.7,353.3 239.1,350.7 239.5,349.7 239.9,352.3 240.3,353.0 240.7,348.6 241.1,352.0 241.5,349.8 241.9,351.9 242.3,349.5 242.7,348.3 243.1,351.1 243.5,352.0 243.9,353.2 244.3,352.7 244.7,351.2 245.1,349.7 245.5,349.3 245.9,349.7 246.3,348.9 246.7,349.3 247.1,346.4 247.5,350.3 247.9,350.2 248.3,353.8 248.7,352.1 249.1,351.0 249.5,352.5 249.9,349.7 250.3,350.2 250.7,348.2 251.1,352.4 251.5,351.2 251.9,348.9 252.3,350.6 252.7,352.4 253.1,351.9 253.5,351.8 253.9,350.1 254.3,350.3 254.7,351.1 255.1,352.2 255.5,349.9 255.9,349.4 256.3,352.3 256.7,350.2 257.1,353.0 257.5,351.7 257.9,352.5 258.3,353.5 258.7,352.2 259.1,352.2 259.5,350.3 259.9,350.9 260.3,352.8 260.7,354.3 261.1,354.3 261.5,355.1 261.9,352.1 262.3,351.8 262.7,353.0 263.1,351.7 263.5,351.5 263.9,349.8 264.3,352.9 264.7,350.7 265.1,352.9 265.5,350.2 265.9,353.2 266.3,350.9 266.7,352.9 267.1,349.3 267.5,350.4 267.9,352.9 268.3,350.8 268.7,351.4 269.1,351.0 269.5,348.2 269.9,351.5 270.3,351.3 270.7,348.8 271.1,351.9 271.5,349.6 271.9,349.7 272.3,352.0 272.7,351.3 273.1,355.6 273.5,350.1 273.9,353.3 274.3,353.5 274.7,349.1 275.1,349.5 275.5,353.1 275.9,351.9 276.3,353.5 276.7,354.8 277.1,352.3 277.5,350.9 277.9,348.0 278.3,351.6 278.7,350.2 279.1,351.4 279.5,352.0 279.9,350.5 280.3,355.0 280.7,354.2 281.1,353.9 281.5,351.4 281.9,351.8 282.3,351.4 282.7,351.5 283.1,350.7 283.5,353.1 283.9,352.9 284.3,353.2 284.7,352.0 285.1,354.0 285.5,352.6 285.9,348.1 286.3,350.9 286.7,352.0 287.1,353.6 287.5,352.0 287.9,351.6 288.3,351.7 288.7,353.2 289.1,352.0 289.5,351.7 289.9,351.7 290.3,354.3 290.7,352.5 291.1,351.3 291.5,353.7 291.9,352.1 292.3,353.3 292.7,352.8 293.1,353.9 293.5,353.4 293.9,352.0 294.3,351.9 294.7,350.5 295.1,354.3 295.5,353.0 295.9,354.1 296.3,351.5 296.7,349.5 297.1,354.5 297.5,353.0 297.9,352.7 298.3,352.7 298.7,353.1 299.1,353.1 299.5,350.3 299.9,353.5 300.3,351.7 300.7,351.3 301.1,354.2 301.5,352.7 301.9,350.7 302.3,348.8 302.7,351.2 303.1,352.2 303.5,352.0 303.9,350.7 304.3,351.1 304.7,350.2 305.1,352.7 305.5,353.0 305.9,353.1 306.3,351.2 306.7,352.9 307.1,353.5 307.5,351.5 307.9,352.8 308.3,356.2" fill="none" stroke="#ff0000" stroke-width="0.95" stroke-linejoin="round"/>
<polyline points="173.9,380.8 174.3,382.1 174.7,382.6 175.1,380.4 175.5,378.3 175.9,380.1 176.3,382.1 176.7,381.4 177.1,380.3 177.5,383.3 177.9,379.0 178.3,382.3 178.7,380.2 179.1,381.2 179.5,381.3 179.9,383.0 180.3,379.7 180.7,379.4 181.1,377.8 181.5,380.3 181.9,379.2 182.3,380.3 182.7,378.6 183.1,379.7 183.5,381.7 183.9,380.0 184.3,381.2 184.7,381.1 185.1,380.1 185.5,379.5 185.9,382.8 186.3,381.8 186.7,382.3 187.1,378.1 187.5,378.5 187.9,377.5 188.3,379.3 188.7,381.5 189.1,381.2 189.5,381.1 189.9,381.6 190.3,382.4 190.7,380.6 191.1,382.0 191.5,381.9 191.9,378.8 192.3,380.8 192.7,383.7 193.1,381.9 193.5,382.1 193.9,380.9 194.3,380.7 194.7,382.6 195.1,380.3 195.5,379.4 195.9,376.4 196.3,380.6 196.7,378.7 197.1,378.9 197.5,382.4 197.9,381.9 198.3,378.9 198.7,382.2 199.1,381.9 199.5,380.9 199.9,382.8 200.3,380.2 200.7,380.4 201.1,379.5 201.5,379.9 201.9,381.9 202.3,378.9 202.7,379.3 203.1,379.0 203.5,379.7 203.9,377.8 204.3,378.8 204.7,375.8 205.1,373.8 205.5,374.2 205.9,373.8 206.3,371.3 206.7,371.0 207.1,371.1 207.5,366.8 207.9,366.4 208.3,366.8 208.7,363.5 209.1,362.0 209.5,361.0 209.9,361.7 210.3,360.8 210.7,360.6 211.1,361.4 211.5,363.7 211.9,364.2 212.3,362.7 212.7,366.0 213.1,368.2 213.5,370.2 213.9,370.6 214.3,371.5 214.7,371.5 215.1,369.5 215.5,371.8 215.9,371.7 216.3,372.9 216.7,370.8 217.1,371.3 217.5,370.7 217.9,370.1 218.3,372.1 218.7,370.6 219.1,371.4 219.5,369.3 219.9,371.7 220.3,369.8 220.7,372.1 221.1,372.7 221.5,374.2 221.9,374.1 222.3,374.0 222.7,376.2 223.1,375.8 223.5,376.7 223.9,378.0 224.3,377.4 224.7,377.9 225.1,378.7 225.5,378.2 225.9,380.0 226.3,381.0 226.7,381.4 227.1,379.6 227.5,378.8 227.9,380.8 228.3,381.9 228.7,384.1 229.1,382.4 229.5,382.7 229.9,384.4 230.3,382.3 230.7,381.6 231.1,384.1 231.5,383.6 231.9,383.3 232.3,383.0 232.7,381.8 233.1,383.9 233.5,382.9 233.9,383.1 234.3,381.9 234.7,382.4 235.1,382.4 235.5,383.3 235.9,385.0 236.3,384.0 236.7,381.0 237.1,381.7 237.5,381.2 237.9,382.5 238.3,384.3 238.7,384.0 239.1,383.4 239.5,385.0 239.9,382.9 240.3,381.6 240.7,381.9 241.1,383.0 241.5,385.4 241.9,381.6 242.3,385.2 242.7,386.0 243.1,384.1 243.5,384.0 243.9,383.4 244.3,384.3 244.7,385.4 245.1,383.8 245.5,385.0 245.9,385.0 246.3,383.8 246.7,383.2 247.1,382.3 247.5,382.9 247.9,380.7 248.3,383.2 248.7,383.3 249.1,382.2 249.5,386.2 249.9,382.5 250.3,382.4 250.7,383.3 251.1,380.5 251.5,382.2 251.9,381.8 252.3,382.3 252.7,383.5 253.1,384.5 253.5,385.5 253.9,384.8 254.3,384.9 254.7,383.8 255.1,382.5 255.5,384.9 255.9,382.8 256.3,382.6 256.7,385.3 257.1,384.6 257.5,384.3 257.9,384.5 258.3,384.5 258.7,381.4 259.1,383.0 259.5,381.8 259.9,383.6 260.3,382.6 260.7,385.1 261.1,384.8 261.5,383.3 261.9,384.1 262.3,382.5 262.7,384.5 263.1,385.6 263.5,385.3 263.9,382.4 264.3,384.6 264.7,385.5 265.1,384.9 265.5,385.5 265.9,382.4 266.3,384.5 266.7,383.3 267.1,384.5 267.5,385.1 267.9,385.9 268.3,384.1 268.7,385.8 269.1,383.7 269.5,383.3 269.9,385.9 270.3,385.4 270.7,383.5 271.1,384.0 271.5,385.2 271.9,387.1 272.3,386.5 272.7,385.8 273.1,382.8 273.5,384.8 273.9,385.9 274.3,386.1 274.7,385.9 275.1,385.0 275.5,386.9 275.9,387.1 276.3,385.0 276.7,383.4 277.1,387.9 277.5,384.5 277.9,387.2 278.3,388.3 278.7,384.6 279.1,386.8 279.5,385.9 279.9,387.2 280.3,386.4 280.7,388.5 281.1,386.7 281.5,386.3 281.9,387.0 282.3,385.2 282.7,385.5 283.1,388.5 283.5,384.3 283.9,384.7 284.3,386.3 284.7,384.7 285.1,383.4 285.5,388.2 285.9,386.1 286.3,386.0 286.7,385.9 287.1,385.1 287.5,384.6 287.9,386.1 288.3,388.9 288.7,387.1 289.1,387.0 289.5,383.7 289.9,385.7 290.3,384.1 290.7,386.7 291.1,385.0 291.5,385.2 291.9,386.0 292.3,385.3 292.7,384.2 293.1,386.8 293.5,384.0 293.9,384.8 294.3,385.0 294.7,384.4 295.1,385.6 295.5,386.6 295.9,386.1 296.3,385.7 296.7,386.0 297.1,387.9 297.5,384.2 297.9,387.1 298.3,385.0 298.7,384.5 299.1,386.4 299.5,385.5 299.9,386.9 300.3,387.4 300.7,383.4 301.1,386.1 301.5,388.5 301.9,386.9 302.3,387.5 302.7,386.0 303.1,383.7 303.5,384.3 303.9,387.3 304.3,387.8 304.7,386.2 305.1,386.8 305.5,387.9 305.9,385.7 306.3,387.4 306.7,390.3 307.1,390.7 307.5,387.8 307.9,390.1 308.3,386.0" fill="none" stroke="#ff0000" stroke-width="0.95" stroke-linejoin="round"/>
<polyline points="173.9,416.9 174.3,415.4 174.7,417.1 175.1,417.5 175.5,415.8 175.9,417.9 176.3,418.3 176.7,416.8 177.1,415.2 177.5,417.9 177.9,415.8 178.3,415.4 178.7,416.0 179.1,415.7 179.5,417.6 179.9,416.9 180.3,417.3 180.7,417.1 181.1,415.7 181.5,416.6 181.9,418.0 182.3,416.6 182.7,420.5 183.1,416.5 183.5,416.0 183.9,417.4 184.3,416.5 184.7,415.7 185.1,415.3 185.5,416.2 185.9,417.1 186.3,416.3 186.7,415.4 187.1,415.7 187.5,416.2 187.9,415.7 188.3,411.3 188.7,414.8 189.1,414.5 189.5,415.6 189.9,416.0 190.3,416.5 190.7,416.3 191.1,415.2 191.5,415.7 191.9,417.4 192.3,415.6 192.7,416.9 193.1,417.7 193.5,416.2 193.9,413.6 194.3,416.3 194.7,414.7 195.1,414.8 195.5,416.7 195.9,416.2 196.3,415.1 196.7,416.3 197.1,415.7 197.5,415.8 197.9,416.0 198.3,416.0 198.7,415.7 199.1,415.8 199.5,417.0 199.9,415.5 200.3,415.2 200.7,418.3 201.1,416.4 201.5,416.6 201.9,416.0 202.3,416.2 202.7,415.9 203.1,415.4 203.5,414.4 203.9,415.5 204.3,413.1 204.7,415.1 205.1,410.5 205.5,409.7 205.9,410.3 206.3,407.5 206.7,405.5 207.1,404.5 207.5,401.8 207.9,400.9 208.3,395.8 208.7,395.4 209.1,392.7 209.5,391.5 209.9,389.3 210.3,384.5 210.7,386.1 211.1,385.5 211.5,385.9 211.9,387.5 212.3,393.1 212.7,393.7 213.1,394.7 213.5,396.2 213.9,397.8 214.3,401.6 214.7,401.1 215.1,403.5 215.5,402.1 215.9,400.2 216.3,404.0 216.7,403.5 217.1,404.2 217.5,406.6 217.9,404.5 218.3,406.3 218.7,405.0 219.1,404.1 219.5,405.2 219.9,403.8 220.3,406.6 220.7,406.6 221.1,406.1 221.5,407.7 221.9,408.3 222.3,407.7 222.7,410.0 223.1,410.0 223.5,411.1 223.9,409.4 224.3,411.5 224.7,412.2 225.1,410.9 225.5,411.4 225.9,412.2 226.3,413.6 226.7,411.7 227.1,413.2 227.5,415.0 227.9,414.0 228.3,411.5 228.7,414.4 229.1,416.4 229.5,415.5 229.9,416.9 230.3,416.6 230.7,417.2 231.1,416.4 231.5,416.1 231.9,416.5 232.3,416.9 232.7,417.1 233.1,416.9 233.5,416.0 233.9,416.3 234.3,416.9 234.7,414.9 235.1,416.3 235.5,415.8 235.9,416.7 236.3,416.5 236.7,416.1 237.1,415.1 237.5,416.9 237.9,417.1 238.3,414.6 238.7,416.3 239.1,415.3 239.5,418.5 239.9,416.2 240.3,415.8 240.7,416.0 241.1,415.9 241.5,416.1 241.9,418.0 242.3,416.3 242.7,417.9 243.1,418.6 243.5,416.2 243.9,418.7 244.3,417.6 244.7,417.9 245.1,415.4 245.5,417.6 245.9,417.3 246.3,417.1 246.7,420.2 247.1,417.9 247.5,416.9 247.9,416.7 248.3,417.1 248.7,417.0 249.1,416.5 249.5,418.0 249.9,418.4 250.3,415.7 250.7,416.7 251.1,416.4 251.5,417.4 251.9,418.3 252.3,417.6 252.7,416.0 253.1,416.6 253.5,418.0 253.9,416.2 254.3,416.8 254.7,416.9 255.1,414.9 255.5,418.6 255.9,418.4 256.3,418.3 256.7,416.6 257.1,417.1 257.5,416.6 257.9,417.0 258.3,415.9 258.7,416.7 259.1,419.0 259.5,418.3 259.9,416.4 260.3,416.6 260.7,419.6 261.1,417.0 261.5,418.5 261.9,418.9 262.3,416.4 262.7,416.6 263.1,417.4 263.5,416.1 263.9,416.3 264.3,416.6 264.7,417.5 265.1,416.5 265.5,416.1 265.9,416.1 266.3,414.6 266.7,417.4 267.1,413.8 267.5,415.6 267.9,417.3 268.3,414.6 268.7,417.4 269.1,418.2 269.5,415.7 269.9,416.6 270.3,415.1 270.7,417.3 271.1,416.5 271.5,417.2 271.9,418.7 272.3,417.5 272.7,418.3 273.1,417.2 273.5,415.2 273.9,416.7 274.3,416.4 274.7,414.8 275.1,418.4 275.5,417.0 275.9,417.2 276.3,415.7 276.7,417.1 277.1,417.3 277.5,416.5 277.9,417.1 278.3,414.9 278.7,419.1 279.1,416.0 279.5,414.4 279.9,415.9 280.3,415.5 280.7,417.3 281.1,415.1 281.5,417.0 281.9,415.6 282.3,418.9 282.7,417.5 283.1,418.8 283.5,415.8 283.9,418.1 284.3,416.6 284.7,418.2 285.1,418.5 285.5,416.2 285.9,417.1 286.3,417.0 286.7,416.4 287.1,417.7 287.5,417.5 287.9,416.8 288.3,418.3 288.7,417.6 289.1,415.6 289.5,416.7 289.9,416.6 290.3,416.2 290.7,415.7 291.1,418.2 291.5,418.8 291.9,417.8 292.3,417.2 292.7,420.0 293.1,419.3 293.5,416.8 293.9,417.2 294.3,419.4 294.7,417.3 295.1,417.8 295.5,417.7 295.9,417.0 296.3,417.0 296.7,415.2 297.1,417.0 297.5,415.9 297.9,420.4 298.3,419.6 298.7,419.3 299.1,418.2 299.5,418.2 299.9,418.7 300.3,418.8 300.7,418.3 301.1,416.3 301.5,418.0 301.9,416.9 302.3,416.2 302.7,416.4 303.1,418.2 303.5,419.0 303.9,416.7 304.3,420.6 304.7,420.1 305.1,418.1 305.5,418.0 305.9,418.0 306.3,418.9 306.7,417.0 307.1,416.4 307.5,417.8 307.9,415.4 308.3,418.0" fill="none" stroke="#ff0000" stroke-width="0.95" stroke-linejoin="round"/>
<polyline points="173.9,447.5 174.3,447.6 174.7,447.2 175.1,447.4 175.5,447.8 175.9,447.8 176.3,447.5 176.7,447.5 177.1,447.3 177.5,447.6 177.9,447.6 178.3,447.2 178.7,447.6 179.1,447.6 179.5,447.6 179.9,447.3 180.3,447.6 180.7,447.2 181.1,447.8 181.5,447.5 181.9,447.3 182.3,447.7 182.7,447.7 183.1,447.4 183.5,447.9 183.9,447.3 184.3,447.5 184.7,447.4 185.1,446.1 185.5,445.0 185.9,441.6 186.3,436.5 186.7,430.5 187.1,426.3 187.5,425.1 187.9,426.9 188.3,429.8 188.7,432.7 189.1,436.2 189.5,438.4 189.9,440.8 190.3,442.7 190.7,444.2 191.1,445.4 191.5,446.2 191.9,446.5 192.3,446.8 192.7,447.1 193.1,447.4 193.5,447.5 193.9,447.3 194.3,447.1 194.7,447.9 195.1,447.7 195.5,447.5 195.9,447.6 196.3,447.4 196.7,447.3 197.1,447.4 197.5,447.5 197.9,447.4 198.3,447.2 198.7,447.4 199.1,447.6 199.5,447.4 199.9,447.5 200.3,447.1 200.7,447.5 201.1,447.5 201.5,447.3 201.9,447.2 202.3,447.6 202.7,447.4 203.1,447.6 203.5,447.4 203.9,447.6 204.3,447.4 204.7,447.2 205.1,447.5 205.5,447.4 205.9,447.6 206.3,447.4 206.7,447.4 207.1,447.7 207.5,447.7 207.9,447.6 208.3,447.7 208.7,447.6 209.1,447.6 209.5,447.7 209.9,447.6 210.3,447.5 210.7,447.5 211.1,447.9 211.5,447.5 211.9,447.5 212.3,447.4 212.7,447.5 213.1,447.5 213.5,447.3 213.9,447.1 214.3,447.6 214.7,447.2 215.1,447.5 215.5,447.5 215.9,447.7 216.3,447.8 216.7,447.6 217.1,447.4 217.5,447.3 217.9,447.4 218.3,447.5 218.7,447.1 219.1,447.5 219.5,447.5 219.9,447.6 220.3,447.4 220.7,447.5 221.1,447.4 221.5,447.4 221.9,447.2 222.3,447.5 222.7,447.8 223.1,447.5 223.5,447.6 223.9,447.3 224.3,447.8 224.7,447.4 225.1,447.6 225.5,447.5 225.9,447.3 226.3,447.7 226.7,447.5 227.1,447.5 227.5,447.6 227.9,447.5 228.3,447.4 228.7,447.6 229.1,447.4 229.5,447.5 229.9,447.4 230.3,447.2 230.7,447.4 231.1,447.4 231.5,447.5 231.9,447.7 232.3,447.2 232.7,447.5 233.1,447.1 233.5,447.3 233.9,447.4 234.3,447.1 234.7,447.2 235.1,447.5 235.5,447.5 235.9,447.5 236.3,447.4 236.7,447.9 237.1,447.5 237.5,447.3 237.9,447.8 238.3,447.6 238.7,447.4 239.1,447.7 239.5,447.5 239.9,447.6 240.3,447.5 240.7,447.3 241.1,447.7 241.5,447.5 241.9,447.3 242.3,447.4 242.7,447.7 243.1,447.4 243.5,447.5 243.9,447.6 244.3,447.5 244.7,447.2 245.1,447.6 245.5,447.7 245.9,447.7 246.3,447.8 246.7,447.6 247.1,447.6 247.5,447.8 247.9,447.4 248.3,447.8 248.7,447.8 249.1,447.6 249.5,447.8 249.9,447.7 250.3,447.3 250.7,447.7 251.1,447.6 251.5,447.6 251.9,447.5 252.3,447.7 252.7,447.6 253.1,447.4 253.5,447.6 253.9,447.6 254.3,447.4 254.7,447.4 255.1,447.4 255.5,447.4 255.9,447.6 256.3,447.7 256.7,447.8 257.1,447.7 257.5,447.7 257.9,447.7 258.3,447.7 258.7,447.4 259.1,447.6 259.5,447.6 259.9,447.5 260.3,447.4 260.7,447.4 261.1,447.5 261.5,447.3 261.9,447.6 262.3,447.5 262.7,447.5 263.1,447.6 263.5,447.6 263.9,447.4 264.3,447.5 264.7,447.2 265.1,447.1 265.5,447.2 265.9,447.8 266.3,447.2 266.7,447.6 267.1,447.8 267.5,447.4 267.9,447.8 268.3,447.8 268.7,447.7 269.1,447.9 269.5,447.6 269.9,447.4 270.3,447.6 270.7,447.4 271.1,447.3 271.5,447.3 271.9,447.9 272.3,447.4 272.7,447.5 273.1,447.4 273.5,447.5 273.9,447.5 274.3,447.4 274.7,447.3 275.1,447.2 275.5,447.4 275.9,447.6 276.3,447.9 276.7,447.7 277.1,447.8 277.5,447.6 277.9,447.5 278.3,447.3 278.7,447.5 279.1,447.1 279.5,447.4 279.9,447.8 280.3,447.6 280.7,447.7 281.1,447.4 281.5,447.3 281.9,447.4 282.3,447.4 282.7,447.7 283.1,447.9 283.5,447.4 283.9,447.4 284.3,447.5 284.7,447.4 285.1,447.3 285.5,447.5 285.9,447.6 286.3,447.5 286.7,447.0 287.1,446.5 287.5,444.5 287.9,441.8 288.3,436.4 288.7,430.7 289.1,426.2 289.5,425.2 289.9,426.9 290.3,429.6 290.7,433.3 291.1,436.0 291.5,438.7 291.9,441.3 292.3,442.8 292.7,444.3 293.1,445.3 293.5,446.2 293.9,446.6 294.3,447.0 294.7,447.1 295.1,447.3 295.5,447.6 295.9,447.1 296.3,447.4 296.7,447.4 297.1,447.4 297.5,447.1 297.9,447.6 298.3,447.4 298.7,447.5 299.1,447.4 299.5,447.2 299.9,447.4 300.3,447.2 300.7,447.3 301.1,447.4 301.5,447.5 301.9,447.5 302.3,447.5 302.7,447.9 303.1,447.6 303.5,447.3 303.9,447.4 304.3,447.4 304.7,447.5 305.1,447.4 305.5,447.4 305.9,447.8 306.3,447.5 306.7,447.4 307.1,447.5 307.5,447.5 307.9,447.8 308.3,447.6" fill="none" stroke="#1a1a1a" stroke-width="0.75" stroke-linejoin="round"/>
<text x="264.2" y="298.6" font-size="9.4" fill="#414042" textLength="19.1" lengthAdjust="spacingAndGlyphs" stroke="#414042" stroke-width="0.18">20%</text>
<text x="286" y="298.6" font-size="9.4" font-style="italic" fill="#414042" stroke="#414042" stroke-width="0.18">F</text>
<text x="292.6" y="294.2" font-size="6.6" fill="#414042" textLength="11" lengthAdjust="spacingAndGlyphs" stroke="#414042" stroke-width="0.18">max</text>
<text x="285.9" y="311" font-size="9.4" fill="#414042" textLength="16.8" lengthAdjust="spacingAndGlyphs" stroke="#414042" stroke-width="0.18">20 s</text>
<path d="M298.3,314 L307.2,314 L307.2,306.4" fill="none" stroke="#414042" stroke-width="1.2"/>
<circle cx="388.1" cy="404.15" r="35.3" fill="#d9d9d9"/>
<path d="M388.1,404.15 L388.10,368.85 A35.3,35.3 0 0 1 413.10,379.23 Z" fill="#ff2a00"/>
<path d="M388.1,404.15 L413.10,379.23 A35.3,35.3 0 0 1 422.02,413.94 Z" fill="#000"/>
<circle cx="479.9" cy="404.15" r="35.3" fill="#d9d9d9"/>
<path d="M479.9,404.15 L479.90,368.85 A35.3,35.3 0 0 1 484.93,369.21 Z" fill="#ff2a00"/>
<path d="M479.9,404.15 L484.93,369.21 A35.3,35.3 0 0 1 491.80,370.92 Z" fill="#000"/>
<text x="351.8" y="452.5" font-size="9.3" fill="#231f20" stroke="#231f20" stroke-width="0.18"><tspan textLength="32" lengthAdjust="spacingAndGlyphs">PIEZO2</tspan><tspan font-size="6" dy="-4">+</tspan><tspan dy="4" x="390.3" textLength="33.5" lengthAdjust="spacingAndGlyphs">neurons</tspan></text>
<text x="444.3" y="452.5" font-size="9.3" fill="#231f20" stroke="#231f20" stroke-width="0.18"><tspan textLength="32" lengthAdjust="spacingAndGlyphs">PIEZO2</tspan><tspan font-size="6" dy="-4">−</tspan><tspan dy="4" x="482.5" textLength="33.3" lengthAdjust="spacingAndGlyphs">neurons</tspan></text>
<rect x="542.9" y="402.2" width="6" height="3.6" fill="#e8202a"/>
<rect x="542.9" y="421.3" width="6" height="3.6" fill="#231f20"/>
<rect x="542.9" y="438.4" width="6" height="3.6" fill="#6d6e71"/>
<text x="553.7" y="400.8" font-size="9.3" fill="#231f20" textLength="57.4" lengthAdjust="spacingAndGlyphs" stroke="#231f20" stroke-width="0.18">Blood volume</text>
<text x="553.7" y="412.6" font-size="9.3" fill="#231f20" textLength="32.3" lengthAdjust="spacingAndGlyphs" stroke="#231f20" stroke-width="0.18">infusion</text>
<text x="553.7" y="425.5" font-size="9.3" fill="#231f20" textLength="59.5" lengthAdjust="spacingAndGlyphs" stroke="#231f20" stroke-width="0.18">Airway stretch</text>
<text x="553.7" y="443.1" font-size="9.3" fill="#231f20" textLength="27.5" lengthAdjust="spacingAndGlyphs" stroke="#231f20" stroke-width="0.18">Others</text></svg>
</body></html>
